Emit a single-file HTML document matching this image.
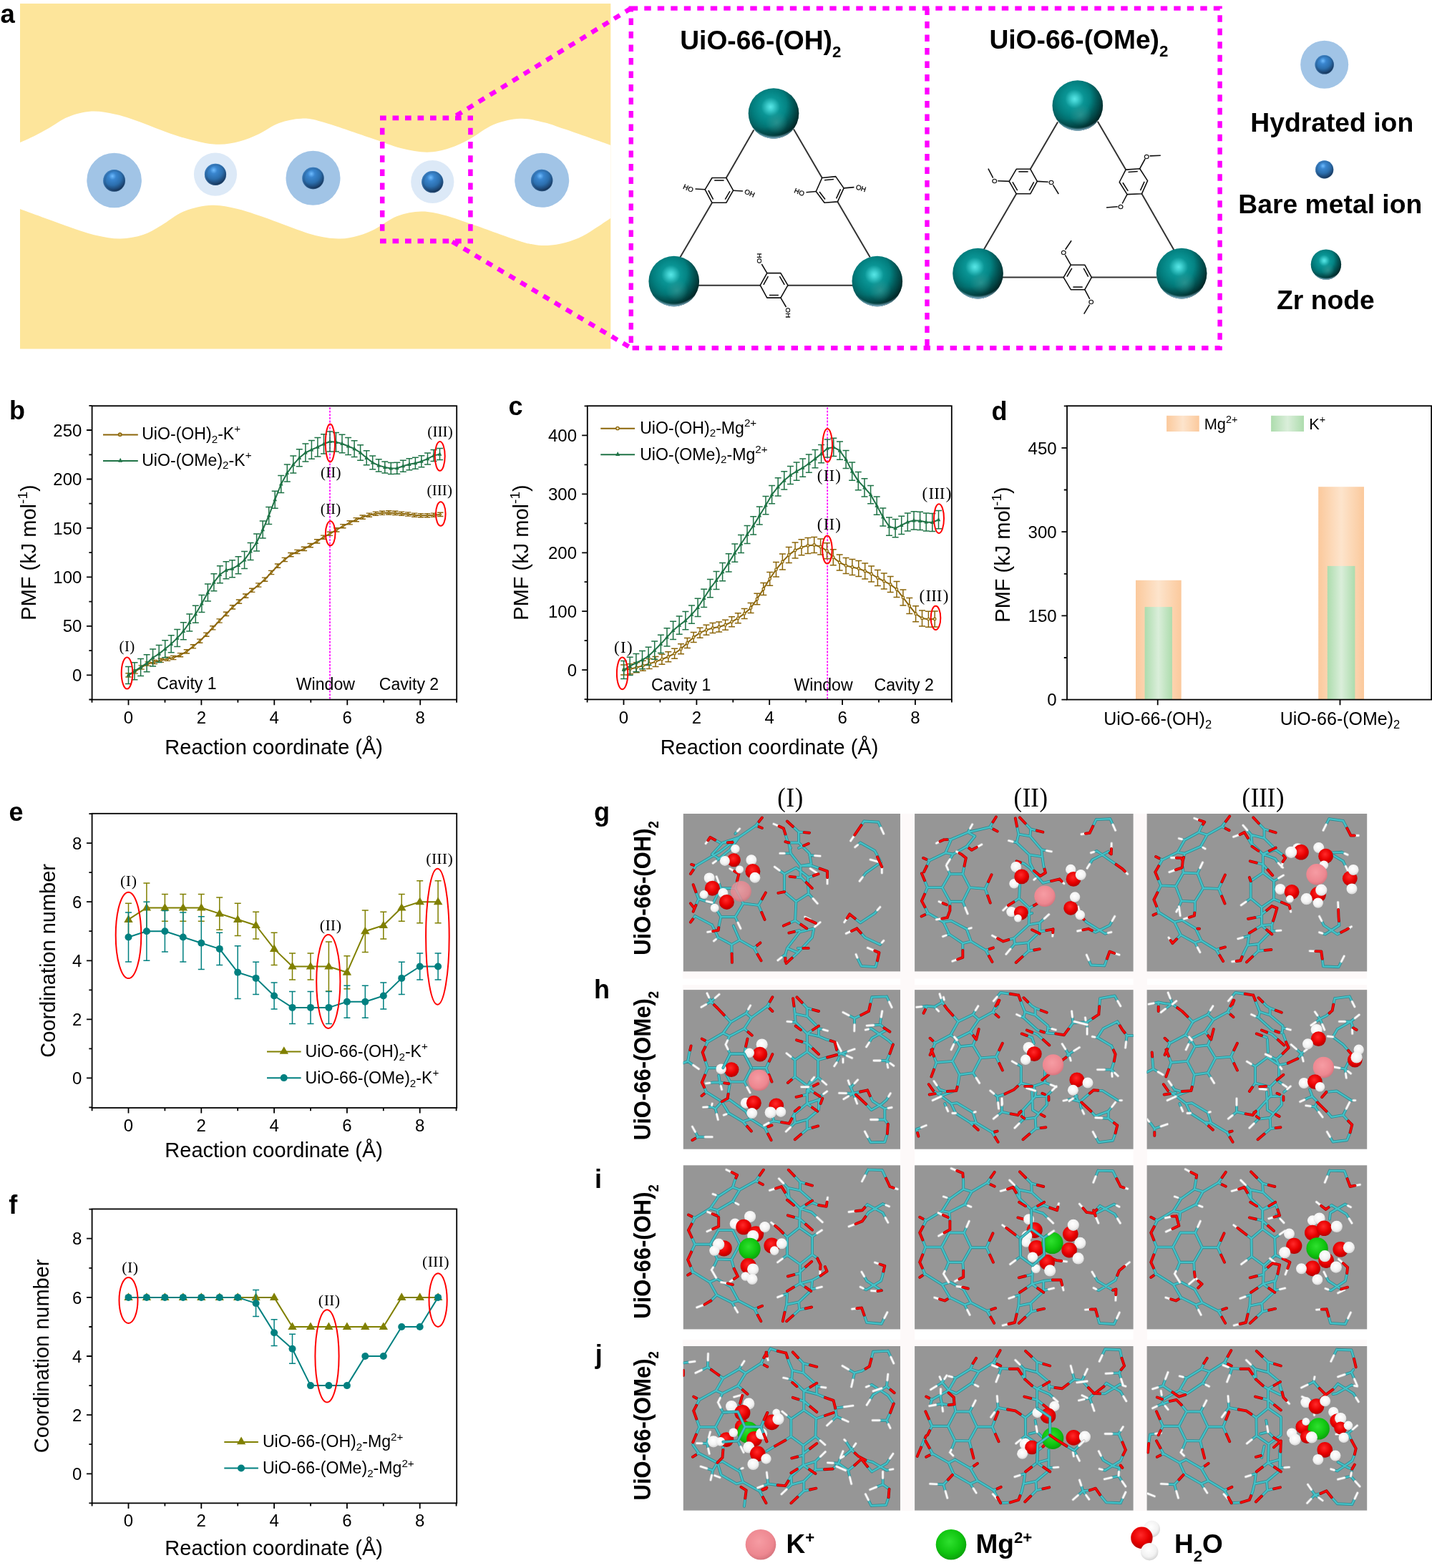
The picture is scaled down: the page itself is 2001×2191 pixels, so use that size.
<!DOCTYPE html>
<html lang="en"><head><meta charset="utf-8"><title>Figure</title>
<style>
html,body{margin:0;padding:0;background:#fff}
svg{display:block}
.s{font-family:"Liberation Sans",Arial,Helvetica,sans-serif}
.b{font-family:"Liberation Sans",Arial,Helvetica,sans-serif;font-weight:bold}
.r{font-family:"Liberation Serif","Times New Roman",serif}
</style></head><body>
<svg width="2001" height="2191" viewBox="0 0 2001 2191">
<defs>
<radialGradient id="gb" cx="0.42" cy="0.3" r="0.75" fx="0.42" fy="0.3">
<stop offset="0" stop-color="#6fbcff"/><stop offset="0.22" stop-color="#3a86cf"/><stop offset="0.55" stop-color="#2c6fae"/><stop offset="0.82" stop-color="#1c4572"/><stop offset="1" stop-color="#0c1c33"/>
</radialGradient>
<radialGradient id="gb2" cx="0.5" cy="0.5" r="0.5" fx="0.7" fy="0.55">
<stop offset="0" stop-color="#0c1c33" stop-opacity="0"/><stop offset="0.8" stop-color="#0c1c33" stop-opacity="0"/><stop offset="1" stop-color="#4f90d0" stop-opacity="0.5"/>
</radialGradient>
<radialGradient id="gz" cx="0.44" cy="0.37" r="0.72" fx="0.44" fy="0.37">
<stop offset="0" stop-color="#58e6e6"/><stop offset="0.08" stop-color="#42d2d2"/><stop offset="0.26" stop-color="#0a9595"/><stop offset="0.5" stop-color="#027d7d"/><stop offset="0.8" stop-color="#035252"/><stop offset="1" stop-color="#012626"/>
</radialGradient>
<radialGradient id="gz2" cx="0.56" cy="0.68" r="0.22">
<stop offset="0" stop-color="#3c9a96" stop-opacity="0.6"/><stop offset="1" stop-color="#3c9a96" stop-opacity="0"/>
</radialGradient>
<radialGradient id="gz4" cx="0.3" cy="0.32" r="0.82"><stop offset="0" stop-color="#001414" stop-opacity="0"/><stop offset="0.55" stop-color="#001414" stop-opacity="0"/><stop offset="0.8" stop-color="#001414" stop-opacity="0.35"/><stop offset="1" stop-color="#001010" stop-opacity="0.8"/></radialGradient>
<radialGradient id="gz3" cx="0.5" cy="0.36" r="0.64" fx="0.5" fy="0.36">
<stop offset="0" stop-color="#9fd8f0" stop-opacity="0"/><stop offset="0.9" stop-color="#9fd8f0" stop-opacity="0"/><stop offset="1" stop-color="#a8d4f2" stop-opacity="0.9"/>
</radialGradient>


<linearGradient id="go" x1="0" x2="1" y1="0" y2="0"><stop offset="0" stop-color="#fbc99c"/><stop offset="0.5" stop-color="#fde4cc"/><stop offset="1" stop-color="#fbc99c"/></linearGradient>
<linearGradient id="gg" x1="0" x2="1" y1="0" y2="0"><stop offset="0" stop-color="#addcad"/><stop offset="0.5" stop-color="#daeeda"/><stop offset="1" stop-color="#addcad"/></linearGradient>


<radialGradient id="sK" cx="0.45" cy="0.4" r="0.65"><stop offset="0" stop-color="#f69ca3"/><stop offset="0.7" stop-color="#ed8790"/><stop offset="1" stop-color="#cf6f78"/></radialGradient>
<radialGradient id="sM" cx="0.45" cy="0.4" r="0.65"><stop offset="0" stop-color="#2fe02f"/><stop offset="0.6" stop-color="#10c510"/><stop offset="1" stop-color="#0a9a0a"/></radialGradient>
<radialGradient id="sO" cx="0.45" cy="0.38" r="0.68"><stop offset="0" stop-color="#ff2a2a"/><stop offset="0.55" stop-color="#e80000"/><stop offset="1" stop-color="#a80000"/></radialGradient>
<radialGradient id="sH" cx="0.45" cy="0.38" r="0.7"><stop offset="0" stop-color="#ffffff"/><stop offset="0.6" stop-color="#f2f2f2"/><stop offset="1" stop-color="#c8c8c8"/></radialGradient>

</defs>
<rect width="2001" height="2191" fill="#fff"/>
<g id="pa">
<rect x="28" y="5" width="825.3" height="482.5" fill="#fde59b"/>
<path d="M28 199.1C31.3 197.6 41.4 193.3 48 190C54.6 186.7 60.1 183.7 67.9 179.3C75.7 174.9 85 167.4 95 163.5C105 159.6 116.8 156.3 127.6 155.6C138.4 154.9 149.6 157.4 160 159.5C170.4 161.6 176 163.5 190.1 168.4C204.2 173.3 229.4 183.8 244.4 188.8C259.4 193.8 269.6 196.3 280 198.5C290.4 200.7 297.7 202 306.9 201.8C316.1 201.6 325.9 199.9 335 197.5C344.1 195.1 352 191.7 361.2 187.4C370.4 183.2 380 175.6 390 172C400 168.4 411 166 421 165.7C431 165.4 433.9 165.8 450 170.3C466.1 174.8 499.6 186.7 517.9 192.8C536.2 198.9 546.9 203.7 560 207C573.1 210.3 585.4 212.7 596.7 212.7C608 212.7 618 210.1 628 207C638 203.9 646.1 199.7 656.4 194.2C666.7 188.7 678.2 178.8 690 174C701.8 169.2 715.3 166.2 727 165.7C738.7 165.2 749.6 168.5 760 171C770.4 173.5 774 175.3 789.5 180.6C805 185.9 842.7 199.2 853.3 202.9L853.3 304.7C850.2 306.8 841.6 312.8 835 317C828.4 321.2 821.4 326.3 813.9 330C806.4 333.7 798.1 336.8 790 339C781.9 341.2 772.5 342.6 765 343C757.5 343.4 752.2 342.8 745 341.5C737.8 340.2 736.4 340.3 721.6 335.4C706.8 330.5 673.3 318.1 656.4 312.3C639.5 306.5 631.3 303.3 620 300.5C608.7 297.7 599.3 295.2 588.5 295.5C577.7 295.8 565.9 297.8 555 302C544.1 306.2 532.5 315.9 523.3 320.5C514.1 325.1 508.4 327.3 500 329.5C491.6 331.7 483.5 333.9 472.6 333.5C461.7 333.1 452.2 332.4 434.5 327.3C416.8 322.2 384 308.8 366.6 302.8C349.2 296.8 341.8 294.2 330 291.5C318.2 288.8 308 286.2 296 286.8C284 287.4 269.8 290.3 258 295C246.2 299.7 235.1 309.5 225.4 315C215.7 320.5 209.5 324.9 200 328C190.5 331.1 179.2 333.3 168.4 333.5C157.6 333.7 147.2 331.9 135 329C122.8 326.1 112.9 322.6 95.1 316.4C77.3 310.2 39.2 296.1 28 292Z" fill="#fff"/>
<circle cx="159.6" cy="252" r="38.3" fill="#a1c4e6"/>
<circle cx="301" cy="243.6" r="30.1" fill="#dce9f7"/>
<circle cx="437.5" cy="248.8" r="38" fill="#a1c4e6"/>
<circle cx="604.3" cy="254" r="30.1" fill="#dce9f7"/>
<circle cx="757.2" cy="251.8" r="38" fill="#a1c4e6"/>
<circle cx="1850.7" cy="90.3" r="33.5" fill="#a1c4e6"/>
<circle cx="159.6" cy="252.3" r="15.4" fill="url(#gb)"/><circle cx="159.6" cy="252.3" r="15.4" fill="url(#gb2)"/>
<circle cx="301" cy="243.8" r="15.1" fill="url(#gb)"/><circle cx="301" cy="243.8" r="15.1" fill="url(#gb2)"/>
<circle cx="437.5" cy="249" r="15.2" fill="url(#gb)"/><circle cx="437.5" cy="249" r="15.2" fill="url(#gb2)"/>
<circle cx="604.3" cy="254.2" r="15.1" fill="url(#gb)"/><circle cx="604.3" cy="254.2" r="15.1" fill="url(#gb2)"/>
<circle cx="757.2" cy="252" r="15.2" fill="url(#gb)"/><circle cx="757.2" cy="252" r="15.2" fill="url(#gb2)"/>
<circle cx="1850.7" cy="90.3" r="13.2" fill="url(#gb)"/><circle cx="1850.7" cy="90.3" r="13.2" fill="url(#gb2)"/>
<circle cx="1850.7" cy="236.9" r="12.6" fill="url(#gb)"/><circle cx="1850.7" cy="236.9" r="12.6" fill="url(#gb2)"/>
<g fill="none" stroke="#f0f" stroke-width="6.4" stroke-dasharray="9.4 9.1">
<path d="M531 164.8H661M531 336.9H661" stroke-dasharray="8.7 8.8" stroke-width="6.8"/>
<path d="M534.2 178.8V330M657.4 178.8V330" stroke-dasharray="9.5 9.7" stroke-width="6.5"/>
<path d="M637.4 161.6L881.8 11.6"/><path d="M632 337.8L881.8 486.2"/>
<path d="M881.8 11.6H1704.6V486.2H881.8Z"/>
<path d="M1295.5 11.6V486.2"/>
</g>
<text x="950.2" y="69.2" class="b" font-size="37.2">UiO-66-(OH)<tspan dy="10.8" font-size="22.3">2</tspan></text>
<text x="1382.4" y="68" class="b" font-size="37.2">UiO-66-(OMe)<tspan dy="10.8" font-size="22.3">2</tspan></text>
<g fill="none" stroke="#333" stroke-width="2" stroke-linejoin="round">
<line x1="1053.4" y1="181.4" x2="1014.8" y2="248.5"/><line x1="995" y1="283.3" x2="950.4" y2="359.5"/>
<line x1="1109" y1="180.6" x2="1148.7" y2="248.5"/><line x1="1170.4" y1="281.9" x2="1215.8" y2="359.5"/>
<line x1="976" y1="398.7" x2="1062.3" y2="398.7"/><line x1="1100.9" y1="398.7" x2="1192" y2="398.7"/>
</g><g fill="none" stroke="#111" stroke-width="1.6" stroke-linejoin="round">
<polygon points="995,248.5 1014.8,248.5 1024.6,266.2 1014.8,283.3 995,283.3 985.2,264.8"/><line x1="998.2" y1="252.1" x2="1011.6" y2="252.1"/><line x1="1020" y1="267.1" x2="1013.3" y2="278.7"/><line x1="996.6" y1="278.6" x2="989.9" y2="266"/><polygon points="1148.7,248.5 1167.7,246.6 1179.1,262.9 1170.4,281.9 1152,283.3 1140.3,267.5"/><line x1="1152" y1="251.8" x2="1165" y2="250.5"/><line x1="1174.5" y1="264.4" x2="1168.6" y2="277.3"/><line x1="1153" y1="278.6" x2="1145" y2="267.9"/><polygon points="1071.8,381.6 1090.9,381.6 1100.9,398.7 1090.9,416.1 1071.8,416.1 1062.3,398.7"/><line x1="1089.4" y1="386.2" x2="1096.2" y2="397.8"/><line x1="1087.9" y1="412.5" x2="1074.9" y2="412.5"/><line x1="1066.9" y1="397.8" x2="1073.4" y2="386.2"/>
<line x1="985.2" y1="264.8" x2="971.5" y2="264"/><line x1="1024.6" y1="266.2" x2="1038" y2="267"/>
<line x1="1140.3" y1="267.5" x2="1126.5" y2="268.8"/><line x1="1179.1" y1="262.9" x2="1193.5" y2="261.6"/>
<line x1="1071.8" y1="381.6" x2="1064.3" y2="369"/><line x1="1090.9" y1="416.1" x2="1098.5" y2="429"/>
</g>
<text x="961.8" y="263.2" class="s" font-size="9.6" text-anchor="middle" transform="rotate(24 961.8 263.2)" dy="3.3" stroke="#000" stroke-width="0.3">HO</text>
<text x="1047.5" y="270" class="s" font-size="9.6" text-anchor="middle" transform="rotate(24 1047.5 270)" dy="3.3" stroke="#000" stroke-width="0.3">OH</text>
<text x="1117" y="268.5" class="s" font-size="9.6" text-anchor="middle" transform="rotate(22 1117 268.5)" dy="3.3" stroke="#000" stroke-width="0.3">HO</text>
<text x="1203" y="263" class="s" font-size="9.6" text-anchor="middle" transform="rotate(18 1203 263)" dy="3.3" stroke="#000" stroke-width="0.3">OH</text>
<text x="1061.5" y="361" class="s" font-size="9.6" text-anchor="middle" transform="rotate(90 1061.5 361)" dy="3.3" stroke="#000" stroke-width="0.3">HO</text>
<text x="1101.5" y="437" class="s" font-size="9.6" text-anchor="middle" transform="rotate(90 1101.5 437)" dy="3.3" stroke="#000" stroke-width="0.3">OH</text>
<g fill="none" stroke="#333" stroke-width="2" stroke-linejoin="round">
<line x1="1478.1" y1="170.6" x2="1439.8" y2="236.3"/><line x1="1420.2" y1="270.8" x2="1374.9" y2="348.4"/>
<line x1="1533.8" y1="169.7" x2="1573.1" y2="237.1"/><line x1="1595.4" y1="270.8" x2="1640.4" y2="349.2"/>
<line x1="1401" y1="387.6" x2="1486.2" y2="387.6"/><line x1="1525.3" y1="387.6" x2="1616.5" y2="387.6"/>
</g><g fill="none" stroke="#111" stroke-width="1.6" stroke-linejoin="round">
<polygon points="1420.2,236.3 1439.8,236.3 1449.3,253.4 1439.8,270.8 1420.2,270.8 1410.2,253.4"/><line x1="1423.3" y1="239.9" x2="1436.6" y2="239.9"/><line x1="1444.7" y1="254.4" x2="1438.2" y2="266.2"/><line x1="1421.7" y1="266.2" x2="1414.9" y2="254.4"/><polygon points="1573.1,237.1 1592.7,235.7 1603.6,252.6 1595.4,270.8 1575,271.6 1564.2,254.5"/><line x1="1576.5" y1="240.5" x2="1589.8" y2="239.5"/><line x1="1599.1" y1="253.9" x2="1593.5" y2="266.2"/><line x1="1576.3" y1="266.9" x2="1568.9" y2="255.3"/><polygon points="1496.3,370.2 1515.8,370.2 1525.3,387.6 1515.8,404.7 1496.3,404.7 1486.2,387.6"/><line x1="1514.2" y1="374.8" x2="1520.7" y2="386.6"/><line x1="1512.7" y1="401.1" x2="1499.4" y2="401.1"/><line x1="1490.9" y1="386.6" x2="1497.8" y2="374.8"/>
<line x1="1410.2" y1="253.4" x2="1394.2" y2="252.8"/><line x1="1387.7" y1="248.7" x2="1380.9" y2="235.7"/>
<line x1="1449.3" y1="253.4" x2="1464.7" y2="254.3"/><line x1="1471.4" y1="258.3" x2="1479.2" y2="271"/>
<line x1="1592.7" y1="235.7" x2="1600.1" y2="222"/><line x1="1606.6" y1="217.9" x2="1621.8" y2="217.3"/>
<line x1="1575" y1="271.6" x2="1568.2" y2="284.5"/><line x1="1561.7" y1="288.7" x2="1546" y2="290"/>
<line x1="1496.3" y1="370.2" x2="1488.4" y2="356.3"/><line x1="1488.6" y1="348.8" x2="1497.1" y2="336.2"/>
<line x1="1515.8" y1="404.7" x2="1522.8" y2="417.9"/><line x1="1522.5" y1="425.6" x2="1514.7" y2="438.6"/>
</g>
<text x="1389.8" y="252.6" class="s" font-size="9.6" text-anchor="middle" dy="3.4" stroke="#000" stroke-width="0.3">O</text>
<text x="1469.1" y="254.5" class="s" font-size="9.6" text-anchor="middle" dy="3.4" stroke="#000" stroke-width="0.3">O</text>
<text x="1602.2" y="218.1" class="s" font-size="9.6" text-anchor="middle" dy="3.4" stroke="#000" stroke-width="0.3">O</text>
<text x="1566.1" y="288.4" class="s" font-size="9.6" text-anchor="middle" dy="3.4" stroke="#000" stroke-width="0.3">O</text>
<text x="1486.2" y="352.5" class="s" font-size="9.6" text-anchor="middle" dy="3.4" stroke="#000" stroke-width="0.3">O</text>
<text x="1524.8" y="421.8" class="s" font-size="9.6" text-anchor="middle" dy="3.4" stroke="#000" stroke-width="0.3">O</text>
<circle cx="1081" cy="158.5" r="35.3" fill="url(#gz)"/><circle cx="1081" cy="158.5" r="35.3" fill="url(#gz4)"/><circle cx="1081" cy="158.5" r="35.3" fill="url(#gz2)"/><circle cx="1081" cy="158.5" r="35.3" fill="url(#gz3)"/>
<circle cx="941.7" cy="393" r="35.3" fill="url(#gz)"/><circle cx="941.7" cy="393" r="35.3" fill="url(#gz4)"/><circle cx="941.7" cy="393" r="35.3" fill="url(#gz2)"/><circle cx="941.7" cy="393" r="35.3" fill="url(#gz3)"/>
<circle cx="1225.8" cy="393" r="35.3" fill="url(#gz)"/><circle cx="1225.8" cy="393" r="35.3" fill="url(#gz4)"/><circle cx="1225.8" cy="393" r="35.3" fill="url(#gz2)"/><circle cx="1225.8" cy="393" r="35.3" fill="url(#gz3)"/>
<circle cx="1505.8" cy="147.5" r="35.3" fill="url(#gz)"/><circle cx="1505.8" cy="147.5" r="35.3" fill="url(#gz4)"/><circle cx="1505.8" cy="147.5" r="35.3" fill="url(#gz2)"/><circle cx="1505.8" cy="147.5" r="35.3" fill="url(#gz3)"/>
<circle cx="1366.5" cy="382.1" r="35.3" fill="url(#gz)"/><circle cx="1366.5" cy="382.1" r="35.3" fill="url(#gz4)"/><circle cx="1366.5" cy="382.1" r="35.3" fill="url(#gz2)"/><circle cx="1366.5" cy="382.1" r="35.3" fill="url(#gz3)"/>
<circle cx="1651.1" cy="382.1" r="35.3" fill="url(#gz)"/><circle cx="1651.1" cy="382.1" r="35.3" fill="url(#gz4)"/><circle cx="1651.1" cy="382.1" r="35.3" fill="url(#gz2)"/><circle cx="1651.1" cy="382.1" r="35.3" fill="url(#gz3)"/>
<circle cx="1852.9" cy="369.6" r="21.2" fill="url(#gz)"/><circle cx="1852.9" cy="369.6" r="21.2" fill="url(#gz4)"/><circle cx="1852.9" cy="369.6" r="21.2" fill="url(#gz2)"/><circle cx="1852.9" cy="369.6" r="21.2" fill="url(#gz3)"/>
<text x="1861.2" y="183.6" class="b" font-size="37.3" text-anchor="middle">Hydrated ion</text>
<text x="1858.8" y="298.4" class="b" font-size="37.3" text-anchor="middle">Bare metal ion</text>
<text x="1852.4" y="431.7" class="b" font-size="37.3" text-anchor="middle">Zr node</text>
<text x="0.4" y="32" class="b" font-size="36.5">a</text>
</g>
<g id="pb">
<line x1="461" y1="569.2" x2="461" y2="976.6" stroke="#f0f" stroke-width="1.7" stroke-dasharray="2.8 1.8"/>
<path d="M179.5 940.8V946M175.3 940.8h8.4M175.3 946h8.4M188.6 935.9V941.1M184.4 935.9h8.4M184.4 941.1h8.4M197.7 929.9V935.1M193.5 929.9h8.4M193.5 935.1h8.4M206.7 924.9V930.1M202.5 924.9h8.4M202.5 930.1h8.4M215.8 922.4V927.6M211.6 922.4h8.4M211.6 927.6h8.4M224.9 920.2V925.4M220.7 920.2h8.4M220.7 925.4h8.4M234 918.2V923.4M229.8 918.2h8.4M229.8 923.4h8.4M242.2 916.4V921.6M238 916.4h8.4M238 921.6h8.4M252 912.6V917.8M247.8 912.6h8.4M247.8 917.8h8.4M260.9 907.8V913M256.7 907.8h8.4M256.7 913h8.4M269.9 900.7V905.9M265.7 900.7h8.4M265.7 905.9h8.4M279.2 893.1V898.3M275 893.1h8.4M275 898.3h8.4M288.3 884.1V889.3M284.1 884.1h8.4M284.1 889.3h8.4M297.3 874.7V879.9M293.1 874.7h8.4M293.1 879.9h8.4M306.6 864.9V870.1M302.4 864.9h8.4M302.4 870.1h8.4M316 855.3V860.5M311.8 855.3h8.4M311.8 860.5h8.4M325 845.8V851M320.8 845.8h8.4M320.8 851h8.4M334 838V843.2M329.8 838h8.4M329.8 843.2h8.4M343.2 830V835.2M339 830h8.4M339 835.2h8.4M352.2 822.2V827.4M348 822.2h8.4M348 827.4h8.4M361.2 814.9V820.1M357 814.9h8.4M357 820.1h8.4M370.1 807.1V812.3M365.9 807.1h8.4M365.9 812.3h8.4M379.1 797.4V802.6M374.9 797.4h8.4M374.9 802.6h8.4M388 788V793.2M383.8 788h8.4M383.8 793.2h8.4M397.8 779.4V784.6M393.6 779.4h8.4M393.6 784.6h8.4M406.4 772.5V777.7M402.2 772.5h8.4M402.2 777.7h8.4M415.4 768.4V773.6M411.2 768.4h8.4M411.2 773.6h8.4M424.9 764.3V769.5M420.7 764.3h8.4M420.7 769.5h8.4M433.7 759.5V764.7M429.5 759.5h8.4M429.5 764.7h8.4M443.1 753.8V759M438.9 753.8h8.4M438.9 759h8.4M452.1 748.1V753.3M447.9 748.1h8.4M447.9 753.3h8.4M461 743.2V748.4M456.8 743.2h8.4M456.8 748.4h8.4M470.3 737.8V743M466.1 737.8h8.4M466.1 743h8.4M479.3 732.6V737.8M475.1 732.6h8.4M475.1 737.8h8.4M488.7 727.7V732.9M484.5 727.7h8.4M484.5 732.9h8.4M497.7 723.6V728.8M493.5 723.6h8.4M493.5 728.8h8.4M506.7 720V725.2M502.5 720h8.4M502.5 725.2h8.4M515.9 717.1V722.3M511.7 717.1h8.4M511.7 722.3h8.4M524.9 715.1V720.3M520.7 715.1h8.4M520.7 720.3h8.4M534 714.2V719.4M529.8 714.2h8.4M529.8 719.4h8.4M543.3 713.8V719M539.1 713.8h8.4M539.1 719h8.4M552.3 714.3V719.5M548.1 714.3h8.4M548.1 719.5h8.4M561.2 715.1V720.3M557 715.1h8.4M557 720.3h8.4M570.2 715.9V721.1M566 715.9h8.4M566 721.1h8.4M579.2 717.1V722.3M575 717.1h8.4M575 722.3h8.4M588.1 717.6V722.8M583.9 717.6h8.4M583.9 722.8h8.4M597.1 717.6V722.8M592.9 717.6h8.4M592.9 722.8h8.4M606 717.1V722.3M601.8 717.1h8.4M601.8 722.3h8.4M615.3 716.3V721.5M611.1 716.3h8.4M611.1 721.5h8.4" stroke="#8b6508" stroke-width="1.4" fill="none"/>
<polyline points="179.5,943.4 188.6,938.5 197.7,932.5 206.7,927.5 215.8,925 224.9,922.8 234,920.8 242.2,919 252,915.2 260.9,910.4 269.9,903.3 279.2,895.7 288.3,886.7 297.3,877.3 306.6,867.5 316,857.9 325,848.4 334,840.6 343.2,832.6 352.2,824.8 361.2,817.5 370.1,809.7 379.1,800 388,790.6 397.8,782 406.4,775.1 415.4,771 424.9,766.9 433.7,762.1 443.1,756.4 452.1,750.7 461,745.8 470.3,740.4 479.3,735.2 488.7,730.3 497.7,726.2 506.7,722.6 515.9,719.7 524.9,717.7 534,716.8 543.3,716.4 552.3,716.9 561.2,717.7 570.2,718.5 579.2,719.7 588.1,720.2 597.1,720.2 606,719.7 615.3,718.9" fill="none" stroke="#8b6508" stroke-width="2" stroke-linejoin="round"/>
<circle cx="179.5" cy="943.4" r="1.4" fill="#b89a4a" stroke="#8b6508" stroke-width="1"/><circle cx="188.6" cy="938.5" r="1.4" fill="#b89a4a" stroke="#8b6508" stroke-width="1"/><circle cx="197.7" cy="932.5" r="1.4" fill="#b89a4a" stroke="#8b6508" stroke-width="1"/><circle cx="206.7" cy="927.5" r="1.4" fill="#b89a4a" stroke="#8b6508" stroke-width="1"/><circle cx="215.8" cy="925" r="1.4" fill="#b89a4a" stroke="#8b6508" stroke-width="1"/><circle cx="224.9" cy="922.8" r="1.4" fill="#b89a4a" stroke="#8b6508" stroke-width="1"/><circle cx="234" cy="920.8" r="1.4" fill="#b89a4a" stroke="#8b6508" stroke-width="1"/><circle cx="242.2" cy="919" r="1.4" fill="#b89a4a" stroke="#8b6508" stroke-width="1"/><circle cx="252" cy="915.2" r="1.4" fill="#b89a4a" stroke="#8b6508" stroke-width="1"/><circle cx="260.9" cy="910.4" r="1.4" fill="#b89a4a" stroke="#8b6508" stroke-width="1"/><circle cx="269.9" cy="903.3" r="1.4" fill="#b89a4a" stroke="#8b6508" stroke-width="1"/><circle cx="279.2" cy="895.7" r="1.4" fill="#b89a4a" stroke="#8b6508" stroke-width="1"/><circle cx="288.3" cy="886.7" r="1.4" fill="#b89a4a" stroke="#8b6508" stroke-width="1"/><circle cx="297.3" cy="877.3" r="1.4" fill="#b89a4a" stroke="#8b6508" stroke-width="1"/><circle cx="306.6" cy="867.5" r="1.4" fill="#b89a4a" stroke="#8b6508" stroke-width="1"/><circle cx="316" cy="857.9" r="1.4" fill="#b89a4a" stroke="#8b6508" stroke-width="1"/><circle cx="325" cy="848.4" r="1.4" fill="#b89a4a" stroke="#8b6508" stroke-width="1"/><circle cx="334" cy="840.6" r="1.4" fill="#b89a4a" stroke="#8b6508" stroke-width="1"/><circle cx="343.2" cy="832.6" r="1.4" fill="#b89a4a" stroke="#8b6508" stroke-width="1"/><circle cx="352.2" cy="824.8" r="1.4" fill="#b89a4a" stroke="#8b6508" stroke-width="1"/><circle cx="361.2" cy="817.5" r="1.4" fill="#b89a4a" stroke="#8b6508" stroke-width="1"/><circle cx="370.1" cy="809.7" r="1.4" fill="#b89a4a" stroke="#8b6508" stroke-width="1"/><circle cx="379.1" cy="800" r="1.4" fill="#b89a4a" stroke="#8b6508" stroke-width="1"/><circle cx="388" cy="790.6" r="1.4" fill="#b89a4a" stroke="#8b6508" stroke-width="1"/><circle cx="397.8" cy="782" r="1.4" fill="#b89a4a" stroke="#8b6508" stroke-width="1"/><circle cx="406.4" cy="775.1" r="1.4" fill="#b89a4a" stroke="#8b6508" stroke-width="1"/><circle cx="415.4" cy="771" r="1.4" fill="#b89a4a" stroke="#8b6508" stroke-width="1"/><circle cx="424.9" cy="766.9" r="1.4" fill="#b89a4a" stroke="#8b6508" stroke-width="1"/><circle cx="433.7" cy="762.1" r="1.4" fill="#b89a4a" stroke="#8b6508" stroke-width="1"/><circle cx="443.1" cy="756.4" r="1.4" fill="#b89a4a" stroke="#8b6508" stroke-width="1"/><circle cx="452.1" cy="750.7" r="1.4" fill="#b89a4a" stroke="#8b6508" stroke-width="1"/><circle cx="461" cy="745.8" r="1.4" fill="#b89a4a" stroke="#8b6508" stroke-width="1"/><circle cx="470.3" cy="740.4" r="1.4" fill="#b89a4a" stroke="#8b6508" stroke-width="1"/><circle cx="479.3" cy="735.2" r="1.4" fill="#b89a4a" stroke="#8b6508" stroke-width="1"/><circle cx="488.7" cy="730.3" r="1.4" fill="#b89a4a" stroke="#8b6508" stroke-width="1"/><circle cx="497.7" cy="726.2" r="1.4" fill="#b89a4a" stroke="#8b6508" stroke-width="1"/><circle cx="506.7" cy="722.6" r="1.4" fill="#b89a4a" stroke="#8b6508" stroke-width="1"/><circle cx="515.9" cy="719.7" r="1.4" fill="#b89a4a" stroke="#8b6508" stroke-width="1"/><circle cx="524.9" cy="717.7" r="1.4" fill="#b89a4a" stroke="#8b6508" stroke-width="1"/><circle cx="534" cy="716.8" r="1.4" fill="#b89a4a" stroke="#8b6508" stroke-width="1"/><circle cx="543.3" cy="716.4" r="1.4" fill="#b89a4a" stroke="#8b6508" stroke-width="1"/><circle cx="552.3" cy="716.9" r="1.4" fill="#b89a4a" stroke="#8b6508" stroke-width="1"/><circle cx="561.2" cy="717.7" r="1.4" fill="#b89a4a" stroke="#8b6508" stroke-width="1"/><circle cx="570.2" cy="718.5" r="1.4" fill="#b89a4a" stroke="#8b6508" stroke-width="1"/><circle cx="579.2" cy="719.7" r="1.4" fill="#b89a4a" stroke="#8b6508" stroke-width="1"/><circle cx="588.1" cy="720.2" r="1.4" fill="#b89a4a" stroke="#8b6508" stroke-width="1"/><circle cx="597.1" cy="720.2" r="1.4" fill="#b89a4a" stroke="#8b6508" stroke-width="1"/><circle cx="606" cy="719.7" r="1.4" fill="#b89a4a" stroke="#8b6508" stroke-width="1"/><circle cx="615.3" cy="718.9" r="1.4" fill="#b89a4a" stroke="#8b6508" stroke-width="1"/>
<path d="M179.5 931.4V955.4M175 931.4h9M175 955.4h9M188 925.7V949.7M183.5 925.7h9M183.5 949.7h9M196.6 920.4V944.4M192.1 920.4h9M192.1 944.4h9M205.1 914.7V938.7M200.6 914.7h9M200.6 938.7h9M213.6 907V931M209.1 907h9M209.1 931h9M222.2 901.6V925.6M217.7 901.6h9M217.7 925.6h9M230.7 894.8V918.8M226.2 894.8h9M226.2 918.8h9M239.2 887.8V911.8M234.7 887.8h9M234.7 911.8h9M247.7 879.6V903.6M243.2 879.6h9M243.2 903.6h9M256.3 869.8V893.8M251.8 869.8h9M251.8 893.8h9M264.8 858V882M260.3 858h9M260.3 882h9M273.3 846.2V870.2M268.8 846.2h9M268.8 870.2h9M281.9 831.5V855.5M277.4 831.5h9M277.4 855.5h9M290.4 816.1V840.1M285.9 816.1h9M285.9 840.1h9M298.9 801.7V825.7M294.4 801.7h9M294.4 825.7h9M307.4 790.8V814.8M302.9 790.8h9M302.9 814.8h9M316 784.8V808.8M311.5 784.8h9M311.5 808.8h9M324.5 782.7V806.7M320 782.7h9M320 806.7h9M333 777.8V801.8M328.5 777.8h9M328.5 801.8h9M341.6 770.4V794.4M337.1 770.4h9M337.1 794.4h9M350.1 758.5V782.5M345.6 758.5h9M345.6 782.5h9M358.6 746V770M354.1 746h9M354.1 770h9M367.2 728.1V752.1M362.7 728.1h9M362.7 752.1h9M375.7 708.5V732.5M371.2 708.5h9M371.2 732.5h9M384.2 686.2V710.2M379.7 686.2h9M379.7 710.2h9M392.8 664.5V688.5M388.2 664.5h9M388.2 688.5h9M401.3 649V673M396.8 649h9M396.8 673h9M409.8 637.1V661.1M405.3 637.1h9M405.3 661.1h9M418.3 627.8V651.8M413.8 627.8h9M413.8 651.8h9M426.9 620.1V644.9M422.4 620.1h9M422.4 644.9h9M435.4 615.6V641.2M430.9 615.6h9M430.9 641.2h9M443.9 611.5V637.9M439.4 611.5h9M439.4 637.9h9M452.5 606.7V633.9M448 606.7h9M448 633.9h9M461 603V631M456.5 603h9M456.5 631h9M469.5 604.5V631.1M465 604.5h9M465 631.1h9M478 607.3V632.7M473.5 607.3h9M473.5 632.7h9M486.6 611.5V635.5M482.1 611.5h9M482.1 635.5h9M495.1 615.8V638.4M490.6 615.8h9M490.6 638.4h9M503.6 621.8V643.2M499.1 621.8h9M499.1 643.2h9M512.2 629.8V649.8M507.7 629.8h9M507.7 649.8h9M520.7 637.1V655.7M516.2 637.1h9M516.2 655.7h9M529.2 641.7V659.1M524.7 641.7h9M524.7 659.1h9M537.8 644.9V660.9M533.3 644.9h9M533.3 660.9h9M546.3 646.5V662.5M541.8 646.5h9M541.8 662.5h9M554.8 646.2V662.2M550.3 646.2h9M550.3 662.2h9M563.3 643.2V659.2M558.8 643.2h9M558.8 659.2h9M571.9 640.8V656.8M567.4 640.8h9M567.4 656.8h9M580.4 639.2V655.2M575.9 639.2h9M575.9 655.2h9M588.9 636.7V652.7M584.4 636.7h9M584.4 652.7h9M597.5 633.1V649.1M593 633.1h9M593 649.1h9M606 628.6V644.6M601.5 628.6h9M601.5 644.6h9M614.5 626.6V642.6M610 626.6h9M610 642.6h9" stroke="#1f7346" stroke-width="1.5" fill="none"/>
<polyline points="179.5,943.4 188,937.7 196.6,932.4 205.1,926.7 213.6,919 222.2,913.6 230.7,906.8 239.2,899.8 247.7,891.6 256.3,881.8 264.8,870 273.3,858.2 281.9,843.5 290.4,828.1 298.9,813.7 307.4,802.8 316,796.8 324.5,794.7 333,789.8 341.6,782.4 350.1,770.5 358.6,758 367.2,740.1 375.7,720.5 384.2,698.2 392.8,676.5 401.3,661 409.8,649.1 418.3,639.8 426.9,632.5 435.4,628.4 443.9,624.7 452.5,620.3 461,617 469.5,617.8 478,620 486.6,623.5 495.1,627.1 503.6,632.5 512.2,639.8 520.7,646.4 529.2,650.4 537.8,652.9 546.3,654.5 554.8,654.2 563.3,651.2 571.9,648.8 580.4,647.2 588.9,644.7 597.5,641.1 606,636.6 614.5,634.6" fill="none" stroke="#1f7346" stroke-width="2" stroke-linejoin="round"/>
<path d="M179.5 939.9L182.3 945.5L176.7 945.5Z" fill="#1f7346"/><path d="M188 934.2L190.8 939.8L185.2 939.8Z" fill="#1f7346"/><path d="M196.6 928.9L199.4 934.5L193.8 934.5Z" fill="#1f7346"/><path d="M205.1 923.2L207.9 928.8L202.3 928.8Z" fill="#1f7346"/><path d="M213.6 915.5L216.4 921.1L210.8 921.1Z" fill="#1f7346"/><path d="M222.2 910.1L225 915.7L219.3 915.7Z" fill="#1f7346"/><path d="M230.7 903.3L233.5 908.9L227.9 908.9Z" fill="#1f7346"/><path d="M239.2 896.3L242 901.9L236.4 901.9Z" fill="#1f7346"/><path d="M247.7 888.1L250.5 893.7L244.9 893.7Z" fill="#1f7346"/><path d="M256.3 878.3L259.1 883.9L253.5 883.9Z" fill="#1f7346"/><path d="M264.8 866.5L267.6 872.1L262 872.1Z" fill="#1f7346"/><path d="M273.3 854.7L276.1 860.3L270.5 860.3Z" fill="#1f7346"/><path d="M281.9 840L284.7 845.6L279.1 845.6Z" fill="#1f7346"/><path d="M290.4 824.6L293.2 830.2L287.6 830.2Z" fill="#1f7346"/><path d="M298.9 810.2L301.7 815.8L296.1 815.8Z" fill="#1f7346"/><path d="M307.4 799.3L310.2 804.9L304.6 804.9Z" fill="#1f7346"/><path d="M316 793.3L318.8 798.9L313.2 798.9Z" fill="#1f7346"/><path d="M324.5 791.2L327.3 796.8L321.7 796.8Z" fill="#1f7346"/><path d="M333 786.3L335.8 791.9L330.2 791.9Z" fill="#1f7346"/><path d="M341.6 778.9L344.4 784.5L338.8 784.5Z" fill="#1f7346"/><path d="M350.1 767L352.9 772.6L347.3 772.6Z" fill="#1f7346"/><path d="M358.6 754.5L361.4 760.1L355.8 760.1Z" fill="#1f7346"/><path d="M367.2 736.6L370 742.2L364.4 742.2Z" fill="#1f7346"/><path d="M375.7 717L378.5 722.6L372.9 722.6Z" fill="#1f7346"/><path d="M384.2 694.7L387 700.3L381.4 700.3Z" fill="#1f7346"/><path d="M392.8 673L395.6 678.6L389.9 678.6Z" fill="#1f7346"/><path d="M401.3 657.5L404.1 663.1L398.5 663.1Z" fill="#1f7346"/><path d="M409.8 645.6L412.6 651.2L407 651.2Z" fill="#1f7346"/><path d="M418.3 636.3L421.1 641.9L415.5 641.9Z" fill="#1f7346"/><path d="M426.9 629L429.7 634.6L424.1 634.6Z" fill="#1f7346"/><path d="M435.4 624.9L438.2 630.5L432.6 630.5Z" fill="#1f7346"/><path d="M443.9 621.2L446.7 626.8L441.1 626.8Z" fill="#1f7346"/><path d="M452.5 616.8L455.3 622.4L449.7 622.4Z" fill="#1f7346"/><path d="M461 613.5L463.8 619.1L458.2 619.1Z" fill="#1f7346"/><path d="M469.5 614.3L472.3 619.9L466.7 619.9Z" fill="#1f7346"/><path d="M478 616.5L480.8 622.1L475.2 622.1Z" fill="#1f7346"/><path d="M486.6 620L489.4 625.6L483.8 625.6Z" fill="#1f7346"/><path d="M495.1 623.6L497.9 629.2L492.3 629.2Z" fill="#1f7346"/><path d="M503.6 629L506.4 634.6L500.8 634.6Z" fill="#1f7346"/><path d="M512.2 636.3L515 641.9L509.4 641.9Z" fill="#1f7346"/><path d="M520.7 642.9L523.5 648.5L517.9 648.5Z" fill="#1f7346"/><path d="M529.2 646.9L532 652.5L526.4 652.5Z" fill="#1f7346"/><path d="M537.8 649.4L540.6 655L535 655Z" fill="#1f7346"/><path d="M546.3 651L549.1 656.6L543.5 656.6Z" fill="#1f7346"/><path d="M554.8 650.7L557.6 656.3L552 656.3Z" fill="#1f7346"/><path d="M563.3 647.7L566.1 653.3L560.5 653.3Z" fill="#1f7346"/><path d="M571.9 645.3L574.7 650.9L569.1 650.9Z" fill="#1f7346"/><path d="M580.4 643.7L583.2 649.3L577.6 649.3Z" fill="#1f7346"/><path d="M588.9 641.2L591.7 646.8L586.1 646.8Z" fill="#1f7346"/><path d="M597.5 637.6L600.3 643.2L594.7 643.2Z" fill="#1f7346"/><path d="M606 633.1L608.8 638.7L603.2 638.7Z" fill="#1f7346"/><path d="M614.5 631.1L617.3 636.7L611.7 636.7Z" fill="#1f7346"/>
<g stroke="#000" stroke-width="1.8" fill="none" stroke-linecap="butt"><rect x="128.6" y="567.2" width="509.6" height="410.4"/><path d="M179.5 977.6v7.6M281.4 977.6v7.6M383.3 977.6v7.6M485.3 977.6v7.6M587.2 977.6v7.6M128.5 977.6v4.2M230.5 977.6v4.2M332.4 977.6v4.2M434.3 977.6v4.2M536.2 977.6v4.2M638.1 977.6v4.2M128.6 943.3h-7.6M128.6 874.8h-7.6M128.6 806.4h-7.6M128.6 737.9h-7.6M128.6 669.5h-7.6M128.6 601h-7.6M128.6 977.5h-4.2M128.6 909.1h-4.2M128.6 840.6h-4.2M128.6 772.2h-4.2M128.6 703.7h-4.2M128.6 635.3h-4.2M128.6 566.8h-4.2"/></g>
<text x="179.5" y="1010.7" class="s" font-size="24" text-anchor="middle">0</text><text x="281.4" y="1010.7" class="s" font-size="24" text-anchor="middle">2</text><text x="383.3" y="1010.7" class="s" font-size="24" text-anchor="middle">4</text><text x="485.3" y="1010.7" class="s" font-size="24" text-anchor="middle">6</text><text x="587.2" y="1010.7" class="s" font-size="24" text-anchor="middle">8</text>
<text x="114.4" y="951.9" class="s" font-size="24" text-anchor="end">0</text><text x="114.4" y="883.4" class="s" font-size="24" text-anchor="end">50</text><text x="114.4" y="815" class="s" font-size="24" text-anchor="end">100</text><text x="114.4" y="746.5" class="s" font-size="24" text-anchor="end">150</text><text x="114.4" y="678.1" class="s" font-size="24" text-anchor="end">200</text><text x="114.4" y="609.6" class="s" font-size="24" text-anchor="end">250</text>
<text x="382.7" y="1053.7" class="s" font-size="29" text-anchor="middle">Reaction coordinate (Å)</text>
<text x="50.4" y="772" class="s" font-size="29" text-anchor="middle" transform="rotate(-90 50.4 772)">PMF (kJ mol<tspan dy="-12.2" font-size="19.1">-1</tspan><tspan dy="12.2">)</tspan></text>
<line x1="144" y1="607.4" x2="192.8" y2="607.4" stroke="#8b6508" stroke-width="2"/><circle cx="167.7" cy="607.2" r="2.2" fill="#c9b06a" stroke="#8b6508" stroke-width="1.3"/>
<line x1="144" y1="643.9" x2="192.8" y2="643.9" stroke="#1f7346" stroke-width="2"/><path d="M168.2 639.7L171.2 645.7L165.2 645.7Z" fill="#1f7346"/>
<text x="198.2" y="614" class="s" font-size="23.1">UiO-(OH)<tspan dy="4.6" font-size="15.2">2</tspan><tspan dy="-4.6">-K</tspan><tspan dy="-9.7" font-size="15.2">+</tspan></text>
<text x="198.2" y="650.8" class="s" font-size="23.1">UiO-(OMe)<tspan dy="4.6" font-size="15.2">2</tspan><tspan dy="-4.6">-K</tspan><tspan dy="-9.7" font-size="15.2">+</tspan></text>
<text x="219.2" y="963.3" class="s" font-size="23.1">Cavity 1</text><text x="413.8" y="963.8" class="s" font-size="23.1">Window</text><text x="529.8" y="963.8" class="s" font-size="23.1">Cavity 2</text>
<ellipse cx="177.5" cy="940.5" rx="7.8" ry="22" fill="none" stroke="#f00" stroke-width="2"/><ellipse cx="461.4" cy="619" rx="6.6" ry="26.4" fill="none" stroke="#f00" stroke-width="2"/><ellipse cx="461.7" cy="745.3" rx="6.8" ry="17" fill="none" stroke="#f00" stroke-width="2"/><ellipse cx="614.7" cy="637.4" rx="7" ry="20.4" fill="none" stroke="#f00" stroke-width="2"/><ellipse cx="615.8" cy="718" rx="6.8" ry="16.8" fill="none" stroke="#f00" stroke-width="2"/>
<text x="177.4" y="910.4" class="r" font-size="21" text-anchor="middle">(<tspan dx="0.3">I</tspan><tspan dx="0.3">)</tspan></text><text x="462.2" y="666.7" class="r" font-size="21" text-anchor="middle">(<tspan dx="0.3">II</tspan><tspan dx="0.3">)</tspan></text><text x="462" y="717.7" class="r" font-size="21" text-anchor="middle">(<tspan dx="0.3">II</tspan><tspan dx="0.3">)</tspan></text><text x="615" y="609.7" class="r" font-size="21" text-anchor="middle">(<tspan dx="0.3">III</tspan><tspan dx="0.3">)</tspan></text><text x="614.2" y="691.7" class="r" font-size="21" text-anchor="middle">(<tspan dx="0.3">III</tspan><tspan dx="0.3">)</tspan></text>
<text x="13" y="585.6" class="b" font-size="36">b</text>
</g>
<g id="pc">
<line x1="1156.2" y1="569.2" x2="1156.2" y2="976.4" stroke="#f0f" stroke-width="1.7" stroke-dasharray="2.8 1.8"/>
<path d="M871.7 929V943M867.2 929h9M867.2 943h9M880.6 927.7V941.7M876.1 927.7h9M876.1 941.7h9M889.4 925.7V939.7M884.9 925.7h9M884.9 939.7h9M898.3 923.3V937.3M893.8 923.3h9M893.8 937.3h9M907.2 920.5V934.5M902.7 920.5h9M902.7 934.5h9M916 917.6V931.6M911.5 917.6h9M911.5 931.6h9M924.9 914.3V928.3M920.4 914.3h9M920.4 928.3h9M933.8 910.7V924.7M929.3 910.7h9M929.3 924.7h9M942.6 906.2V920.2M938.1 906.2h9M938.1 920.2h9M951.5 899.7V913.7M947 899.7h9M947 913.7h9M960.4 891.5V905.5M955.9 891.5h9M955.9 905.5h9M969.2 883.4V897.4M964.7 883.4h9M964.7 897.4h9M978.1 877.2V891.2M973.6 877.2h9M973.6 891.2h9M987 873.3V887.3M982.5 873.3h9M982.5 887.3h9M995.9 870.6V884.6M991.4 870.6h9M991.4 884.6h9M1004.7 869V883M1000.2 869h9M1000.2 883h9M1013.6 866.2V880.2M1009.1 866.2h9M1009.1 880.2h9M1022.5 861.8V875.8M1018 861.8h9M1018 875.8h9M1031.3 856.8V870.8M1026.8 856.8h9M1026.8 870.8h9M1040.2 850.4V864.4M1035.7 850.4h9M1035.7 864.4h9M1049.1 842.5V856.5M1044.6 842.5h9M1044.6 856.5h9M1057.9 829.2V844.8M1053.4 829.2h9M1053.4 844.8h9M1066.8 814.4V831.6M1062.3 814.4h9M1062.3 831.6h9M1075.7 799.4V818.2M1071.2 799.4h9M1071.2 818.2h9M1084.5 785.6V806M1080 785.6h9M1080 806h9M1093.4 773.9V795.9M1088.9 773.9h9M1088.9 795.9h9M1102.3 764.4V786.4M1097.8 764.4h9M1097.8 786.4h9M1111.1 757.9V779.9M1106.6 757.9h9M1106.6 779.9h9M1120 753.8V775.8M1115.5 753.8h9M1115.5 775.8h9M1128.9 751.4V773.4M1124.4 751.4h9M1124.4 773.4h9M1137.7 750.5V772.5M1133.2 750.5h9M1133.2 772.5h9M1146.6 753V775M1142.1 753h9M1142.1 775h9M1155.5 758.7V780.7M1151 758.7h9M1151 780.7h9M1164.3 767.7V789.7M1159.8 767.7h9M1159.8 789.7h9M1173.2 775V797M1168.7 775h9M1168.7 797h9M1182.1 779.4V801.4M1177.6 779.4h9M1177.6 801.4h9M1190.9 781.5V803.5M1186.4 781.5h9M1186.4 803.5h9M1199.8 783.5V805.5M1195.3 783.5h9M1195.3 805.5h9M1208.7 786.9V808.9M1204.2 786.9h9M1204.2 808.9h9M1217.6 791V813M1213.1 791h9M1213.1 813h9M1226.4 796.5V818.5M1221.9 796.5h9M1221.9 818.5h9M1235.3 801.1V823.1M1230.8 801.1h9M1230.8 823.1h9M1244.2 805.6V827.6M1239.7 805.6h9M1239.7 827.6h9M1253 812.5V834.5M1248.5 812.5h9M1248.5 834.5h9M1261.9 823.9V845.9M1257.4 823.9h9M1257.4 845.9h9M1270.8 835.6V857.6M1266.3 835.6h9M1266.3 857.6h9M1279.6 846.7V868.7M1275.1 846.7h9M1275.1 868.7h9M1288.5 852.9V874.9M1284 852.9h9M1284 874.9h9M1297.4 854.3V876.3M1292.9 854.3h9M1292.9 876.3h9M1306.2 854V876M1301.7 854h9M1301.7 876h9" stroke="#8b6508" stroke-width="1.5" fill="none"/>
<polyline points="871.7,936 880.6,934.7 889.4,932.7 898.3,930.3 907.2,927.5 916,924.6 924.9,921.3 933.8,917.7 942.6,913.2 951.5,906.7 960.4,898.5 969.2,890.4 978.1,884.2 987,880.3 995.9,877.6 1004.7,876 1013.6,873.2 1022.5,868.8 1031.3,863.8 1040.2,857.4 1049.1,849.5 1057.9,837 1066.8,823 1075.7,808.8 1084.5,795.8 1093.4,784.9 1102.3,775.4 1111.1,768.9 1120,764.8 1128.9,762.4 1137.7,761.5 1146.6,764 1155.5,769.7 1164.3,778.7 1173.2,786 1182.1,790.4 1190.9,792.5 1199.8,794.5 1208.7,797.9 1217.6,802 1226.4,807.5 1235.3,812.1 1244.2,816.6 1253,823.5 1261.9,834.9 1270.8,846.6 1279.6,857.7 1288.5,863.9 1297.4,865.3 1306.2,865" fill="none" stroke="#8b6508" stroke-width="2" stroke-linejoin="round"/>
<circle cx="871.7" cy="936" r="1.8" fill="#e9dcb4" stroke="#8b6508" stroke-width="1.2"/><circle cx="880.6" cy="934.7" r="1.8" fill="#e9dcb4" stroke="#8b6508" stroke-width="1.2"/><circle cx="889.4" cy="932.7" r="1.8" fill="#e9dcb4" stroke="#8b6508" stroke-width="1.2"/><circle cx="898.3" cy="930.3" r="1.8" fill="#e9dcb4" stroke="#8b6508" stroke-width="1.2"/><circle cx="907.2" cy="927.5" r="1.8" fill="#e9dcb4" stroke="#8b6508" stroke-width="1.2"/><circle cx="916" cy="924.6" r="1.8" fill="#e9dcb4" stroke="#8b6508" stroke-width="1.2"/><circle cx="924.9" cy="921.3" r="1.8" fill="#e9dcb4" stroke="#8b6508" stroke-width="1.2"/><circle cx="933.8" cy="917.7" r="1.8" fill="#e9dcb4" stroke="#8b6508" stroke-width="1.2"/><circle cx="942.6" cy="913.2" r="1.8" fill="#e9dcb4" stroke="#8b6508" stroke-width="1.2"/><circle cx="951.5" cy="906.7" r="1.8" fill="#e9dcb4" stroke="#8b6508" stroke-width="1.2"/><circle cx="960.4" cy="898.5" r="1.8" fill="#e9dcb4" stroke="#8b6508" stroke-width="1.2"/><circle cx="969.2" cy="890.4" r="1.8" fill="#e9dcb4" stroke="#8b6508" stroke-width="1.2"/><circle cx="978.1" cy="884.2" r="1.8" fill="#e9dcb4" stroke="#8b6508" stroke-width="1.2"/><circle cx="987" cy="880.3" r="1.8" fill="#e9dcb4" stroke="#8b6508" stroke-width="1.2"/><circle cx="995.9" cy="877.6" r="1.8" fill="#e9dcb4" stroke="#8b6508" stroke-width="1.2"/><circle cx="1004.7" cy="876" r="1.8" fill="#e9dcb4" stroke="#8b6508" stroke-width="1.2"/><circle cx="1013.6" cy="873.2" r="1.8" fill="#e9dcb4" stroke="#8b6508" stroke-width="1.2"/><circle cx="1022.5" cy="868.8" r="1.8" fill="#e9dcb4" stroke="#8b6508" stroke-width="1.2"/><circle cx="1031.3" cy="863.8" r="1.8" fill="#e9dcb4" stroke="#8b6508" stroke-width="1.2"/><circle cx="1040.2" cy="857.4" r="1.8" fill="#e9dcb4" stroke="#8b6508" stroke-width="1.2"/><circle cx="1049.1" cy="849.5" r="1.8" fill="#e9dcb4" stroke="#8b6508" stroke-width="1.2"/><circle cx="1057.9" cy="837" r="1.8" fill="#e9dcb4" stroke="#8b6508" stroke-width="1.2"/><circle cx="1066.8" cy="823" r="1.8" fill="#e9dcb4" stroke="#8b6508" stroke-width="1.2"/><circle cx="1075.7" cy="808.8" r="1.8" fill="#e9dcb4" stroke="#8b6508" stroke-width="1.2"/><circle cx="1084.5" cy="795.8" r="1.8" fill="#e9dcb4" stroke="#8b6508" stroke-width="1.2"/><circle cx="1093.4" cy="784.9" r="1.8" fill="#e9dcb4" stroke="#8b6508" stroke-width="1.2"/><circle cx="1102.3" cy="775.4" r="1.8" fill="#e9dcb4" stroke="#8b6508" stroke-width="1.2"/><circle cx="1111.1" cy="768.9" r="1.8" fill="#e9dcb4" stroke="#8b6508" stroke-width="1.2"/><circle cx="1120" cy="764.8" r="1.8" fill="#e9dcb4" stroke="#8b6508" stroke-width="1.2"/><circle cx="1128.9" cy="762.4" r="1.8" fill="#e9dcb4" stroke="#8b6508" stroke-width="1.2"/><circle cx="1137.7" cy="761.5" r="1.8" fill="#e9dcb4" stroke="#8b6508" stroke-width="1.2"/><circle cx="1146.6" cy="764" r="1.8" fill="#e9dcb4" stroke="#8b6508" stroke-width="1.2"/><circle cx="1155.5" cy="769.7" r="1.8" fill="#e9dcb4" stroke="#8b6508" stroke-width="1.2"/><circle cx="1164.3" cy="778.7" r="1.8" fill="#e9dcb4" stroke="#8b6508" stroke-width="1.2"/><circle cx="1173.2" cy="786" r="1.8" fill="#e9dcb4" stroke="#8b6508" stroke-width="1.2"/><circle cx="1182.1" cy="790.4" r="1.8" fill="#e9dcb4" stroke="#8b6508" stroke-width="1.2"/><circle cx="1190.9" cy="792.5" r="1.8" fill="#e9dcb4" stroke="#8b6508" stroke-width="1.2"/><circle cx="1199.8" cy="794.5" r="1.8" fill="#e9dcb4" stroke="#8b6508" stroke-width="1.2"/><circle cx="1208.7" cy="797.9" r="1.8" fill="#e9dcb4" stroke="#8b6508" stroke-width="1.2"/><circle cx="1217.6" cy="802" r="1.8" fill="#e9dcb4" stroke="#8b6508" stroke-width="1.2"/><circle cx="1226.4" cy="807.5" r="1.8" fill="#e9dcb4" stroke="#8b6508" stroke-width="1.2"/><circle cx="1235.3" cy="812.1" r="1.8" fill="#e9dcb4" stroke="#8b6508" stroke-width="1.2"/><circle cx="1244.2" cy="816.6" r="1.8" fill="#e9dcb4" stroke="#8b6508" stroke-width="1.2"/><circle cx="1253" cy="823.5" r="1.8" fill="#e9dcb4" stroke="#8b6508" stroke-width="1.2"/><circle cx="1261.9" cy="834.9" r="1.8" fill="#e9dcb4" stroke="#8b6508" stroke-width="1.2"/><circle cx="1270.8" cy="846.6" r="1.8" fill="#e9dcb4" stroke="#8b6508" stroke-width="1.2"/><circle cx="1279.6" cy="857.7" r="1.8" fill="#e9dcb4" stroke="#8b6508" stroke-width="1.2"/><circle cx="1288.5" cy="863.9" r="1.8" fill="#e9dcb4" stroke="#8b6508" stroke-width="1.2"/><circle cx="1297.4" cy="865.3" r="1.8" fill="#e9dcb4" stroke="#8b6508" stroke-width="1.2"/><circle cx="1306.2" cy="865" r="1.8" fill="#e9dcb4" stroke="#8b6508" stroke-width="1.2"/>
<path d="M871.6 923.4V948.6M867.1 923.4h9M867.1 948.6h9M880.2 918.2V943.4M875.7 918.2h9M875.7 943.4h9M888.9 913.6V938.8M884.4 913.6h9M884.4 938.8h9M897.5 909.5V934.7M893 909.5h9M893 934.7h9M906.1 904.2V929.4M901.6 904.2h9M901.6 929.4h9M914.7 896V921.2M910.2 896h9M910.2 921.2h9M923.4 887.2V912.4M918.9 887.2h9M918.9 912.4h9M932 877.8V903M927.5 877.8h9M927.5 903h9M940.6 868.3V893.5M936.1 868.3h9M936.1 893.5h9M949.2 861.1V886.3M944.7 861.1h9M944.7 886.3h9M957.9 854.5V879.7M953.4 854.5h9M953.4 879.7h9M966.5 846V871.2M962 846h9M962 871.2h9M975.1 836.2V861.4M970.6 836.2h9M970.6 861.4h9M983.7 823.2V848.4M979.2 823.2h9M979.2 848.4h9M992.4 809.6V834.8M987.9 809.6h9M987.9 834.8h9M1001 798.4V823.6M996.5 798.4h9M996.5 823.6h9M1009.6 786.5V811.7M1005.1 786.5h9M1005.1 811.7h9M1018.2 773.8V799M1013.7 773.8h9M1013.7 799h9M1026.8 760.1V785.3M1022.3 760.1h9M1022.3 785.3h9M1035.5 747.4V772.6M1031 747.4h9M1031 772.6h9M1044.1 734.4V759.6M1039.6 734.4h9M1039.6 759.6h9M1052.7 721.8V747M1048.2 721.8h9M1048.2 747h9M1061.3 707.9V733.1M1056.8 707.9h9M1056.8 733.1h9M1070 693.6V718.8M1065.5 693.6h9M1065.5 718.8h9M1078.6 678.6V703.8M1074.1 678.6h9M1074.1 703.8h9M1087.2 667.7V692.9M1082.7 667.7h9M1082.7 692.9h9M1095.8 658.7V683.9M1091.3 658.7h9M1091.3 683.9h9M1104.5 651.4V676.6M1100 651.4h9M1100 676.6h9M1113.1 646V671.2M1108.6 646h9M1108.6 671.2h9M1121.7 641.1V666.3M1117.2 641.1h9M1117.2 666.3h9M1130.3 635.1V660.3M1125.8 635.1h9M1125.8 660.3h9M1139 628.5V653.7M1134.5 628.5h9M1134.5 653.7h9M1147.6 621.5V646.7M1143.1 621.5h9M1143.1 646.7h9M1156.2 613.9V639.1M1151.7 613.9h9M1151.7 639.1h9M1164.8 612.3V637.5M1160.3 612.3h9M1160.3 637.5h9M1173.5 617.1V642.3M1169 617.1h9M1169 642.3h9M1182.1 629.4V654.6M1177.6 629.4h9M1177.6 654.6h9M1190.7 646V671.2M1186.2 646h9M1186.2 671.2h9M1199.3 659.5V684.7M1194.8 659.5h9M1194.8 684.7h9M1208 668.8V694M1203.5 668.8h9M1203.5 694h9M1216.6 678.6V703.8M1212.1 678.6h9M1212.1 703.8h9M1225.2 694V719.2M1220.7 694h9M1220.7 719.2h9M1233.8 709.9V735.1M1229.3 709.9h9M1229.3 735.1h9M1242.5 723.1V748.3M1238 723.1h9M1238 748.3h9M1251.1 725.5V750.7M1246.6 725.5h9M1246.6 750.7h9M1259.7 721.3V746.5M1255.2 721.3h9M1255.2 746.5h9M1268.3 716.9V742.1M1263.8 716.9h9M1263.8 742.1h9M1277 714.7V739.9M1272.5 714.7h9M1272.5 739.9h9M1285.6 715.2V740.4M1281.1 715.2h9M1281.1 740.4h9M1294.2 716.9V742.1M1289.7 716.9h9M1289.7 742.1h9M1302.8 717.4V742.6M1298.3 717.4h9M1298.3 742.6h9M1311.5 713.6V738.8M1307 713.6h9M1307 738.8h9" stroke="#1f7346" stroke-width="1.5" fill="none"/>
<polyline points="871.6,936 880.2,930.8 888.9,926.2 897.5,922.1 906.1,916.8 914.7,908.6 923.4,899.8 932,890.4 940.6,880.9 949.2,873.7 957.9,867.1 966.5,858.6 975.1,848.8 983.7,835.8 992.4,822.2 1001,811 1009.6,799.1 1018.2,786.4 1026.8,772.7 1035.5,760 1044.1,747 1052.7,734.4 1061.3,720.5 1070,706.2 1078.6,691.2 1087.2,680.3 1095.8,671.3 1104.5,664 1113.1,658.6 1121.7,653.7 1130.3,647.7 1139,641.1 1147.6,634.1 1156.2,626.5 1164.8,624.9 1173.5,629.7 1182.1,642 1190.7,658.6 1199.3,672.1 1208,681.4 1216.6,691.2 1225.2,706.6 1233.8,722.5 1242.5,735.7 1251.1,738.1 1259.7,733.9 1268.3,729.5 1277,727.3 1285.6,727.8 1294.2,729.5 1302.8,730 1311.5,726.2" fill="none" stroke="#1f7346" stroke-width="2" stroke-linejoin="round"/>
<path d="M871.6 932.5L874.4 938.1L868.8 938.1Z" fill="#1f7346"/><path d="M880.2 927.3L883 932.9L877.4 932.9Z" fill="#1f7346"/><path d="M888.9 922.7L891.6 928.3L886.1 928.3Z" fill="#1f7346"/><path d="M897.5 918.6L900.3 924.2L894.7 924.2Z" fill="#1f7346"/><path d="M906.1 913.3L908.9 918.9L903.3 918.9Z" fill="#1f7346"/><path d="M914.7 905.1L917.5 910.7L911.9 910.7Z" fill="#1f7346"/><path d="M923.4 896.3L926.1 901.9L920.6 901.9Z" fill="#1f7346"/><path d="M932 886.9L934.8 892.5L929.2 892.5Z" fill="#1f7346"/><path d="M940.6 877.4L943.4 883L937.8 883Z" fill="#1f7346"/><path d="M949.2 870.2L952 875.8L946.4 875.8Z" fill="#1f7346"/><path d="M957.9 863.6L960.6 869.2L955.1 869.2Z" fill="#1f7346"/><path d="M966.5 855.1L969.3 860.7L963.7 860.7Z" fill="#1f7346"/><path d="M975.1 845.3L977.9 850.9L972.3 850.9Z" fill="#1f7346"/><path d="M983.7 832.3L986.5 837.9L980.9 837.9Z" fill="#1f7346"/><path d="M992.4 818.7L995.1 824.3L989.6 824.3Z" fill="#1f7346"/><path d="M1001 807.5L1003.8 813.1L998.2 813.1Z" fill="#1f7346"/><path d="M1009.6 795.6L1012.4 801.2L1006.8 801.2Z" fill="#1f7346"/><path d="M1018.2 782.9L1021 788.5L1015.4 788.5Z" fill="#1f7346"/><path d="M1026.8 769.2L1029.6 774.8L1024 774.8Z" fill="#1f7346"/><path d="M1035.5 756.5L1038.3 762.1L1032.7 762.1Z" fill="#1f7346"/><path d="M1044.1 743.5L1046.9 749.1L1041.3 749.1Z" fill="#1f7346"/><path d="M1052.7 730.9L1055.5 736.5L1049.9 736.5Z" fill="#1f7346"/><path d="M1061.3 717L1064.1 722.6L1058.5 722.6Z" fill="#1f7346"/><path d="M1070 702.7L1072.8 708.3L1067.2 708.3Z" fill="#1f7346"/><path d="M1078.6 687.7L1081.4 693.3L1075.8 693.3Z" fill="#1f7346"/><path d="M1087.2 676.8L1090 682.4L1084.4 682.4Z" fill="#1f7346"/><path d="M1095.8 667.8L1098.6 673.4L1093 673.4Z" fill="#1f7346"/><path d="M1104.5 660.5L1107.3 666.1L1101.7 666.1Z" fill="#1f7346"/><path d="M1113.1 655.1L1115.9 660.7L1110.3 660.7Z" fill="#1f7346"/><path d="M1121.7 650.2L1124.5 655.8L1118.9 655.8Z" fill="#1f7346"/><path d="M1130.3 644.2L1133.1 649.8L1127.5 649.8Z" fill="#1f7346"/><path d="M1139 637.6L1141.8 643.2L1136.2 643.2Z" fill="#1f7346"/><path d="M1147.6 630.6L1150.4 636.2L1144.8 636.2Z" fill="#1f7346"/><path d="M1156.2 623L1159 628.6L1153.4 628.6Z" fill="#1f7346"/><path d="M1164.8 621.4L1167.6 627L1162 627Z" fill="#1f7346"/><path d="M1173.5 626.2L1176.3 631.8L1170.7 631.8Z" fill="#1f7346"/><path d="M1182.1 638.5L1184.9 644.1L1179.3 644.1Z" fill="#1f7346"/><path d="M1190.7 655.1L1193.5 660.7L1187.9 660.7Z" fill="#1f7346"/><path d="M1199.3 668.6L1202.1 674.2L1196.5 674.2Z" fill="#1f7346"/><path d="M1208 677.9L1210.8 683.5L1205.2 683.5Z" fill="#1f7346"/><path d="M1216.6 687.7L1219.4 693.3L1213.8 693.3Z" fill="#1f7346"/><path d="M1225.2 703.1L1228 708.7L1222.4 708.7Z" fill="#1f7346"/><path d="M1233.8 719L1236.6 724.6L1231 724.6Z" fill="#1f7346"/><path d="M1242.5 732.2L1245.3 737.8L1239.7 737.8Z" fill="#1f7346"/><path d="M1251.1 734.6L1253.9 740.2L1248.3 740.2Z" fill="#1f7346"/><path d="M1259.7 730.4L1262.5 736L1256.9 736Z" fill="#1f7346"/><path d="M1268.3 726L1271.1 731.6L1265.5 731.6Z" fill="#1f7346"/><path d="M1277 723.8L1279.8 729.4L1274.2 729.4Z" fill="#1f7346"/><path d="M1285.6 724.3L1288.4 729.9L1282.8 729.9Z" fill="#1f7346"/><path d="M1294.2 726L1297 731.6L1291.4 731.6Z" fill="#1f7346"/><path d="M1302.8 726.5L1305.6 732.1L1300 732.1Z" fill="#1f7346"/><path d="M1311.5 722.7L1314.3 728.3L1308.7 728.3Z" fill="#1f7346"/>
<g stroke="#000" stroke-width="1.8" fill="none" stroke-linecap="butt"><rect x="820.8" y="567.2" width="509" height="410.2"/><path d="M871.5 977.4v7.6M973.4 977.4v7.6M1075.2 977.4v7.6M1177.1 977.4v7.6M1278.9 977.4v7.6M820.6 977.4v4.2M922.4 977.4v4.2M1024.3 977.4v4.2M1126.2 977.4v4.2M1228 977.4v4.2M1329.9 977.4v4.2M820.8 936.2h-7.6M820.8 854.2h-7.6M820.8 772.3h-7.6M820.8 690.3h-7.6M820.8 608.3h-7.6M820.8 977.2h-4.2M820.8 895.2h-4.2M820.8 813.2h-4.2M820.8 731.3h-4.2M820.8 649.3h-4.2M820.8 567.3h-4.2"/></g>
<text x="871.5" y="1010.7" class="s" font-size="24" text-anchor="middle">0</text><text x="973.4" y="1010.7" class="s" font-size="24" text-anchor="middle">2</text><text x="1075.2" y="1010.7" class="s" font-size="24" text-anchor="middle">4</text><text x="1177.1" y="1010.7" class="s" font-size="24" text-anchor="middle">6</text><text x="1278.9" y="1010.7" class="s" font-size="24" text-anchor="middle">8</text>
<text x="806" y="944.8" class="s" font-size="24" text-anchor="end">0</text><text x="806" y="862.8" class="s" font-size="24" text-anchor="end">100</text><text x="806" y="780.9" class="s" font-size="24" text-anchor="end">200</text><text x="806" y="698.9" class="s" font-size="24" text-anchor="end">300</text><text x="806" y="616.9" class="s" font-size="24" text-anchor="end">400</text>
<text x="1075" y="1053.7" class="s" font-size="29" text-anchor="middle">Reaction coordinate (Å)</text>
<text x="738.2" y="772" class="s" font-size="29" text-anchor="middle" transform="rotate(-90 738.2 772)">PMF (kJ mol<tspan dy="-12.2" font-size="19.1">-1</tspan><tspan dy="12.2">)</tspan></text>
<line x1="839.3" y1="598.7" x2="887.1" y2="598.7" stroke="#8b6508" stroke-width="2"/><circle cx="863" cy="598.5" r="2.2" fill="#e9dcb4" stroke="#8b6508" stroke-width="1.3"/>
<line x1="839.3" y1="635.2" x2="887.1" y2="635.2" stroke="#1f7346" stroke-width="2"/><path d="M863.2 631L866.2 637L860.2 637Z" fill="#1f7346"/>
<text x="894.2" y="605.8" class="s" font-size="23.1">UiO-(OH)<tspan dy="4.6" font-size="15.2">2</tspan><tspan dy="-4.6">-Mg</tspan><tspan dy="-9.7" font-size="15.2">2+</tspan></text>
<text x="894.2" y="642.6" class="s" font-size="23.1">UiO-(OMe)<tspan dy="4.6" font-size="15.2">2</tspan><tspan dy="-4.6">-Mg</tspan><tspan dy="-9.7" font-size="15.2">2+</tspan></text>
<text x="910" y="964.5" class="s" font-size="23.1">Cavity 1</text><text x="1109.5" y="964.5" class="s" font-size="23.1">Window</text><text x="1221.5" y="964.5" class="s" font-size="23.1">Cavity 2</text>
<ellipse cx="869.6" cy="940.9" rx="7.7" ry="22.3" fill="none" stroke="#f00" stroke-width="2"/><ellipse cx="1156.2" cy="622.4" rx="6.8" ry="23.3" fill="none" stroke="#f00" stroke-width="2"/><ellipse cx="1155.9" cy="768" rx="6.8" ry="19.6" fill="none" stroke="#f00" stroke-width="2"/><ellipse cx="1312" cy="724.6" rx="7" ry="20.4" fill="none" stroke="#f00" stroke-width="2"/><ellipse cx="1307.5" cy="863.4" rx="6.8" ry="16.6" fill="none" stroke="#f00" stroke-width="2"/>
<text x="870.9" y="911.5" class="r" font-size="23" text-anchor="middle">(<tspan dx="1.3">I</tspan><tspan dx="1.3">)</tspan></text><text x="1158.4" y="672.4" class="r" font-size="23" text-anchor="middle">(<tspan dx="1.3">II</tspan><tspan dx="1.3">)</tspan></text><text x="1158.4" y="739.7" class="r" font-size="23" text-anchor="middle">(<tspan dx="1.3">II</tspan><tspan dx="1.3">)</tspan></text><text x="1309" y="696.5" class="r" font-size="23" text-anchor="middle">(<tspan dx="1.3">III</tspan><tspan dx="1.3">)</tspan></text><text x="1305" y="839.8" class="r" font-size="23" text-anchor="middle">(<tspan dx="1.3">III</tspan><tspan dx="1.3">)</tspan></text>
<text x="710.5" y="579.8" class="b" font-size="36">c</text>
</g>
<g id="pd">
<rect x="1587" y="810.8" width="63.7" height="166.8" fill="url(#go)"/>
<rect x="1842.2" y="680.2" width="63.8" height="297.4" fill="url(#go)"/>
<rect x="1599.6" y="848.1" width="38.3" height="129.5" fill="url(#gg)"/>
<rect x="1854.8" y="790.9" width="38.6" height="186.7" fill="url(#gg)"/>
<rect x="1630.1" y="580.8" width="45.6" height="22.2" fill="url(#go)"/><rect x="1776.1" y="580.8" width="45.9" height="22.2" fill="url(#gg)"/>
<text x="1682.7" y="599.7" class="s" font-size="21.8">Mg<tspan dy="-9.2" font-size="14.4">2+</tspan></text><text x="1829.2" y="599.7" class="s" font-size="21.8">K<tspan dy="-9.2" font-size="14.4">+</tspan></text>
<g stroke="#000" stroke-width="1.8" fill="none" stroke-linecap="butt"><rect x="1491" y="567.2" width="509.2" height="410.4"/><path d="M1617.7 977.6v7.6M1872.5 977.6v7.6M1491 977.6h-7.6M1491 860.4h-7.6M1491 743.2h-7.6M1491 625.9h-7.6M1491 919h-4.2M1491 801.8h-4.2M1491 684.5h-4.2M1491 567.3h-4.2"/></g>
<text x="1476.6" y="986.2" class="s" font-size="24" text-anchor="end">0</text><text x="1476.6" y="869" class="s" font-size="24" text-anchor="end">150</text><text x="1476.6" y="751.7" class="s" font-size="24" text-anchor="end">300</text><text x="1476.6" y="634.5" class="s" font-size="24" text-anchor="end">450</text>
<text x="1617.7" y="1012.5" class="s" font-size="25" text-anchor="middle">UiO-66-(OH)<tspan dy="5" font-size="16.5">2</tspan></text>
<text x="1872.5" y="1012.5" class="s" font-size="25" text-anchor="middle">UiO-66-(OMe)<tspan dy="5" font-size="16.5">2</tspan></text>
<text x="1411.3" y="775" class="s" font-size="29" text-anchor="middle" transform="rotate(-90 1411.3 775)">PMF (kJ mol<tspan dy="-12.2" font-size="19.1">-1</tspan><tspan dy="12.2">)</tspan></text>
<text x="1385.5" y="586.7" class="b" font-size="36">d</text>
</g>
<g id="pe">
<path d="M179.5 1262.3V1307.4M175 1262.3h9M175 1307.4h9M204.9 1234V1302.9M200.4 1234h9M200.4 1302.9h9M230.4 1249.6V1287.3M225.9 1249.6h9M225.9 1287.3h9M255.8 1249.6V1287.3M251.3 1249.6h9M251.3 1287.3h9M281.3 1249.6V1287.3M276.8 1249.6h9M276.8 1287.3h9M306.8 1254.1V1299.2M302.2 1254.1h9M302.2 1299.2h9M332.2 1262.3V1307.4M327.7 1262.3h9M327.7 1307.4h9M357.6 1274.2V1311.9M353.1 1274.2h9M353.1 1311.9h9M383.1 1303.3V1348.4M378.6 1303.3h9M378.6 1348.4h9M408.5 1332V1368.9M404 1332h9M404 1368.9h9M434 1332V1368.9M429.5 1332h9M429.5 1368.9h9M459.4 1316V1385M454.9 1316h9M454.9 1385h9M484.9 1335.7V1381.7M480.4 1335.7h9M480.4 1381.7h9M510.3 1272.1V1330.4M505.8 1272.1h9M505.8 1330.4h9M535.8 1274.2V1311.9M531.3 1274.2h9M531.3 1311.9h9M561.2 1249.6V1287.3M556.8 1249.6h9M556.8 1287.3h9M586.7 1230.7V1289.8M582.2 1230.7h9M582.2 1289.8h9M612.1 1230.7V1289.8M607.6 1230.7h9M607.6 1289.8h9" stroke="#808000" stroke-width="1.5" fill="none"/><polyline points="179.5,1284.8 204.9,1268.4 230.4,1268.4 255.8,1268.4 281.3,1268.4 306.8,1276.6 332.2,1284.8 357.6,1293 383.1,1325.9 408.5,1350.5 434,1350.5 459.4,1350.5 484.9,1358.7 510.3,1301.2 535.8,1293 561.2,1268.4 586.7,1260.2 612.1,1260.2" fill="none" stroke="#808000" stroke-width="2" stroke-linejoin="round"/><path d="M179.5 1278.3L185.7 1288.9L173.3 1288.9Z" fill="#808000"/><path d="M204.9 1261.9L211.1 1272.5L198.8 1272.5Z" fill="#808000"/><path d="M230.4 1261.9L236.6 1272.5L224.2 1272.5Z" fill="#808000"/><path d="M255.8 1261.9L262.1 1272.5L249.7 1272.5Z" fill="#808000"/><path d="M281.3 1261.9L287.5 1272.5L275.1 1272.5Z" fill="#808000"/><path d="M306.8 1270.1L312.9 1280.7L300.6 1280.7Z" fill="#808000"/><path d="M332.2 1278.3L338.4 1288.9L326 1288.9Z" fill="#808000"/><path d="M357.6 1286.5L363.8 1297.1L351.4 1297.1Z" fill="#808000"/><path d="M383.1 1319.3L389.3 1329.9L376.9 1329.9Z" fill="#808000"/><path d="M408.5 1343.9L414.7 1354.5L402.3 1354.5Z" fill="#808000"/><path d="M434 1343.9L440.2 1354.5L427.8 1354.5Z" fill="#808000"/><path d="M459.4 1343.9L465.6 1354.5L453.2 1354.5Z" fill="#808000"/><path d="M484.9 1352.1L491.1 1362.7L478.7 1362.7Z" fill="#808000"/><path d="M510.3 1294.7L516.5 1305.3L504.1 1305.3Z" fill="#808000"/><path d="M535.8 1286.5L542 1297.1L529.6 1297.1Z" fill="#808000"/><path d="M561.2 1261.9L567.5 1272.5L555 1272.5Z" fill="#808000"/><path d="M586.7 1253.6L592.9 1264.2L580.5 1264.2Z" fill="#808000"/><path d="M612.1 1253.6L618.4 1264.2L605.9 1264.2Z" fill="#808000"/>
<path d="M179.5 1275V1343.9M175 1275h9M175 1343.9h9M204.9 1260.2V1342.3M200.4 1260.2h9M200.4 1342.3h9M230.4 1272.5V1330M225.9 1272.5h9M225.9 1330h9M255.8 1275V1343.9M251.3 1275h9M251.3 1343.9h9M281.3 1280.7V1354.6M276.8 1280.7h9M276.8 1354.6h9M306.8 1303.3V1348.4M302.2 1303.3h9M302.2 1348.4h9M332.2 1321.8V1395.6M327.7 1321.8h9M327.7 1395.6h9M357.6 1344.3V1389.5M353.1 1344.3h9M353.1 1389.5h9M383.1 1373.1V1410M378.6 1373.1h9M378.6 1410h9M408.5 1385.4V1430.5M404 1385.4h9M404 1430.5h9M434 1385.4V1430.5M429.5 1385.4h9M429.5 1430.5h9M459.4 1385.4V1430.5M454.9 1385.4h9M454.9 1430.5h9M484.9 1377.2V1422.3M480.4 1377.2h9M480.4 1422.3h9M510.3 1377.2V1422.3M505.8 1377.2h9M505.8 1422.3h9M535.8 1373.1V1410M531.3 1373.1h9M531.3 1410h9M561.2 1344.3V1389.5M556.8 1344.3h9M556.8 1389.5h9M586.7 1332V1368.9M582.2 1332h9M582.2 1368.9h9M612.1 1332V1368.9M607.6 1332h9M607.6 1368.9h9" stroke="#008080" stroke-width="1.5" fill="none"/><polyline points="179.5,1309.5 204.9,1301.2 230.4,1301.2 255.8,1309.5 281.3,1317.7 306.8,1325.9 332.2,1358.7 357.6,1366.9 383.1,1391.5 408.5,1407.9 434,1407.9 459.4,1407.9 484.9,1399.7 510.3,1399.7 535.8,1391.5 561.2,1366.9 586.7,1350.5 612.1,1350.5" fill="none" stroke="#008080" stroke-width="2" stroke-linejoin="round"/><circle cx="179.5" cy="1309.5" r="5" fill="#008080"/><circle cx="204.9" cy="1301.2" r="5" fill="#008080"/><circle cx="230.4" cy="1301.2" r="5" fill="#008080"/><circle cx="255.8" cy="1309.5" r="5" fill="#008080"/><circle cx="281.3" cy="1317.7" r="5" fill="#008080"/><circle cx="306.8" cy="1325.9" r="5" fill="#008080"/><circle cx="332.2" cy="1358.7" r="5" fill="#008080"/><circle cx="357.6" cy="1366.9" r="5" fill="#008080"/><circle cx="383.1" cy="1391.5" r="5" fill="#008080"/><circle cx="408.5" cy="1407.9" r="5" fill="#008080"/><circle cx="434" cy="1407.9" r="5" fill="#008080"/><circle cx="459.4" cy="1407.9" r="5" fill="#008080"/><circle cx="484.9" cy="1399.7" r="5" fill="#008080"/><circle cx="510.3" cy="1399.7" r="5" fill="#008080"/><circle cx="535.8" cy="1391.5" r="5" fill="#008080"/><circle cx="561.2" cy="1366.9" r="5" fill="#008080"/><circle cx="586.7" cy="1350.5" r="5" fill="#008080"/><circle cx="612.1" cy="1350.5" r="5" fill="#008080"/>
<g stroke="#000" stroke-width="1.8" fill="none" stroke-linecap="butt"><rect x="128.6" y="1136.8" width="509.6" height="411.2"/><path d="M179.5 1548v7.6M281.3 1548v7.6M383.1 1548v7.6M484.9 1548v7.6M586.7 1548v7.6M128.6 1548v4.2M230.4 1548v4.2M332.2 1548v4.2M434 1548v4.2M535.8 1548v4.2M637.6 1548v4.2M128.6 1506.4h-7.6M128.6 1424.3h-7.6M128.6 1342.3h-7.6M128.6 1260.2h-7.6M128.6 1178.2h-7.6M128.6 1547.4h-4.2M128.6 1465.4h-4.2M128.6 1383.3h-4.2M128.6 1301.2h-4.2M128.6 1219.2h-4.2M128.6 1137.1h-4.2"/></g>
<text x="179.5" y="1581.3" class="s" font-size="24" text-anchor="middle">0</text><text x="281.3" y="1581.3" class="s" font-size="24" text-anchor="middle">2</text><text x="383.1" y="1581.3" class="s" font-size="24" text-anchor="middle">4</text><text x="484.9" y="1581.3" class="s" font-size="24" text-anchor="middle">6</text><text x="586.7" y="1581.3" class="s" font-size="24" text-anchor="middle">8</text>
<text x="114.4" y="1515" class="s" font-size="24" text-anchor="end">0</text><text x="114.4" y="1432.9" class="s" font-size="24" text-anchor="end">2</text><text x="114.4" y="1350.9" class="s" font-size="24" text-anchor="end">4</text><text x="114.4" y="1268.8" class="s" font-size="24" text-anchor="end">6</text><text x="114.4" y="1186.8" class="s" font-size="24" text-anchor="end">8</text>
<text x="382.7" y="1617.2" class="s" font-size="29" text-anchor="middle">Reaction coordinate (Å)</text>
<text x="77.1" y="1342.4" class="s" font-size="29" text-anchor="middle" transform="rotate(-90 77.1 1342.4)">Coordination number</text>
<line x1="373" y1="1469.6" x2="420.6" y2="1469.6" stroke="#808000" stroke-width="2"/><path d="M396.8 1462.2L403 1472.8L390.6 1472.8Z" fill="#808000"/>
<line x1="373" y1="1506.2" x2="420.6" y2="1506.2" stroke="#008080" stroke-width="2"/><circle cx="396.7" cy="1506.1" r="5" fill="#008080"/>
<text x="426.6" y="1477" class="s" font-size="23.1">UiO-66-(OH)<tspan dy="4.6" font-size="15.2">2</tspan><tspan dy="-4.6">-K</tspan><tspan dy="-9.7" font-size="15.2">+</tspan></text><text x="426.6" y="1514" class="s" font-size="23.1">UiO-66-(OMe)<tspan dy="4.6" font-size="15.2">2</tspan><tspan dy="-4.6">-K</tspan><tspan dy="-9.7" font-size="15.2">+</tspan></text>
<ellipse cx="179.5" cy="1306.9" rx="17.8" ry="60.2" fill="none" stroke="#f00" stroke-width="2"/>
<ellipse cx="458.8" cy="1371.5" rx="16.6" ry="65.4" fill="none" stroke="#f00" stroke-width="2"/>
<ellipse cx="611.4" cy="1308.7" rx="16.3" ry="95" fill="none" stroke="#f00" stroke-width="2"/>
<text x="179.5" y="1238.4" class="r" font-size="22" text-anchor="middle">(<tspan dx="0.5">I</tspan><tspan dx="0.5">)</tspan></text>
<text x="461.8" y="1299.5" class="r" font-size="22" text-anchor="middle">(<tspan dx="0.5">II</tspan><tspan dx="0.5">)</tspan></text>
<text x="614" y="1207" class="r" font-size="22" text-anchor="middle">(<tspan dx="0.5">III</tspan><tspan dx="0.5">)</tspan></text>
<text x="12.5" y="1146.5" class="b" font-size="36">e</text>
</g>
<g id="pf">
<path d="" stroke="#808000" stroke-width="1.5" fill="none"/><polyline points="179.5,1812.9 204.9,1812.9 230.4,1812.9 255.8,1812.9 281.3,1812.9 306.8,1812.9 332.2,1812.9 357.6,1812.9 383.1,1812.9 408.5,1854 434,1854 459.4,1854 484.9,1854 510.3,1854 535.8,1854 561.2,1812.9 586.7,1812.9 612.1,1812.9" fill="none" stroke="#808000" stroke-width="2" stroke-linejoin="round"/><path d="M179.5 1806.3L185.7 1816.9L173.3 1816.9Z" fill="#808000"/><path d="M204.9 1806.3L211.1 1816.9L198.8 1816.9Z" fill="#808000"/><path d="M230.4 1806.3L236.6 1816.9L224.2 1816.9Z" fill="#808000"/><path d="M255.8 1806.3L262.1 1816.9L249.7 1816.9Z" fill="#808000"/><path d="M281.3 1806.3L287.5 1816.9L275.1 1816.9Z" fill="#808000"/><path d="M306.8 1806.3L312.9 1816.9L300.6 1816.9Z" fill="#808000"/><path d="M332.2 1806.3L338.4 1816.9L326 1816.9Z" fill="#808000"/><path d="M357.6 1806.3L363.8 1816.9L351.4 1816.9Z" fill="#808000"/><path d="M383.1 1806.3L389.3 1816.9L376.9 1816.9Z" fill="#808000"/><path d="M408.5 1847.4L414.7 1858L402.3 1858Z" fill="#808000"/><path d="M434 1847.4L440.2 1858L427.8 1858Z" fill="#808000"/><path d="M459.4 1847.4L465.6 1858L453.2 1858Z" fill="#808000"/><path d="M484.9 1847.4L491.1 1858L478.7 1858Z" fill="#808000"/><path d="M510.3 1847.4L516.5 1858L504.1 1858Z" fill="#808000"/><path d="M535.8 1847.4L542 1858L529.6 1858Z" fill="#808000"/><path d="M561.2 1806.3L567.5 1816.9L555 1816.9Z" fill="#808000"/><path d="M586.7 1806.3L592.9 1816.9L580.5 1816.9Z" fill="#808000"/><path d="M612.1 1806.3L618.4 1816.9L605.9 1816.9Z" fill="#808000"/>
<path d="M357.6 1802.6V1839.6M353.1 1802.6h9M353.1 1839.6h9M383.1 1843.7V1880.6M378.6 1843.7h9M378.6 1880.6h9M408.5 1864.2V1905.3M404 1864.2h9M404 1905.3h9" stroke="#008080" stroke-width="1.5" fill="none"/><polyline points="179.5,1812.9 204.9,1812.9 230.4,1812.9 255.8,1812.9 281.3,1812.9 306.8,1812.9 332.2,1812.9 357.6,1821.1 383.1,1862.2 408.5,1884.8 434,1936.1 459.4,1936.1 484.9,1936.1 510.3,1895 535.8,1895 561.2,1854 586.7,1854 612.1,1812.9" fill="none" stroke="#008080" stroke-width="2" stroke-linejoin="round"/><circle cx="179.5" cy="1812.9" r="5" fill="#008080"/><circle cx="204.9" cy="1812.9" r="5" fill="#008080"/><circle cx="230.4" cy="1812.9" r="5" fill="#008080"/><circle cx="255.8" cy="1812.9" r="5" fill="#008080"/><circle cx="281.3" cy="1812.9" r="5" fill="#008080"/><circle cx="306.8" cy="1812.9" r="5" fill="#008080"/><circle cx="332.2" cy="1812.9" r="5" fill="#008080"/><circle cx="357.6" cy="1821.1" r="5" fill="#008080"/><circle cx="383.1" cy="1862.2" r="5" fill="#008080"/><circle cx="408.5" cy="1884.8" r="5" fill="#008080"/><circle cx="434" cy="1936.1" r="5" fill="#008080"/><circle cx="459.4" cy="1936.1" r="5" fill="#008080"/><circle cx="484.9" cy="1936.1" r="5" fill="#008080"/><circle cx="510.3" cy="1895" r="5" fill="#008080"/><circle cx="535.8" cy="1895" r="5" fill="#008080"/><circle cx="561.2" cy="1854" r="5" fill="#008080"/><circle cx="586.7" cy="1854" r="5" fill="#008080"/><circle cx="612.1" cy="1812.9" r="5" fill="#008080"/>
<g stroke="#000" stroke-width="1.8" fill="none" stroke-linecap="butt"><rect x="128.6" y="1689.4" width="509.6" height="411"/><path d="M179.5 2100.4v7.6M281.3 2100.4v7.6M383.1 2100.4v7.6M484.9 2100.4v7.6M586.7 2100.4v7.6M128.6 2100.4v4.2M230.4 2100.4v4.2M332.2 2100.4v4.2M434 2100.4v4.2M535.8 2100.4v4.2M637.6 2100.4v4.2M128.6 2059.3h-7.6M128.6 1977.2h-7.6M128.6 1895h-7.6M128.6 1812.9h-7.6M128.6 1730.7h-7.6M128.6 2100.4h-4.2M128.6 2018.2h-4.2M128.6 1936.1h-4.2M128.6 1854h-4.2M128.6 1771.8h-4.2M128.6 1689.7h-4.2"/></g>
<text x="179.5" y="2132.6" class="s" font-size="24" text-anchor="middle">0</text><text x="281.3" y="2132.6" class="s" font-size="24" text-anchor="middle">2</text><text x="383.1" y="2132.6" class="s" font-size="24" text-anchor="middle">4</text><text x="484.9" y="2132.6" class="s" font-size="24" text-anchor="middle">6</text><text x="586.7" y="2132.6" class="s" font-size="24" text-anchor="middle">8</text>
<text x="114.4" y="2067.9" class="s" font-size="24" text-anchor="end">0</text><text x="114.4" y="1985.8" class="s" font-size="24" text-anchor="end">2</text><text x="114.4" y="1903.6" class="s" font-size="24" text-anchor="end">4</text><text x="114.4" y="1821.5" class="s" font-size="24" text-anchor="end">6</text><text x="114.4" y="1739.3" class="s" font-size="24" text-anchor="end">8</text>
<text x="382.7" y="2173" class="s" font-size="29" text-anchor="middle">Reaction coordinate (Å)</text>
<text x="68.5" y="1894.9" class="s" font-size="29" text-anchor="middle" transform="rotate(-90 68.5 1894.9)">Coordination number</text>
<line x1="313.3" y1="2015" x2="360.9" y2="2015" stroke="#808000" stroke-width="2"/><path d="M337.1 2007.6L343.3 2018.2L330.9 2018.2Z" fill="#808000"/>
<line x1="313.3" y1="2051.6" x2="360.9" y2="2051.6" stroke="#008080" stroke-width="2"/><circle cx="337" cy="2051.5" r="5" fill="#008080"/>
<text x="366.9" y="2022.4" class="s" font-size="23.1">UiO-66-(OH)<tspan dy="4.6" font-size="15.2">2</tspan><tspan dy="-4.6">-Mg</tspan><tspan dy="-9.7" font-size="15.2">2+</tspan></text><text x="366.9" y="2059.4" class="s" font-size="23.1">UiO-66-(OMe)<tspan dy="4.6" font-size="15.2">2</tspan><tspan dy="-4.6">-Mg</tspan><tspan dy="-9.7" font-size="15.2">2+</tspan></text>
<ellipse cx="179.5" cy="1816.9" rx="13" ry="32" fill="none" stroke="#f00" stroke-width="2"/>
<ellipse cx="457" cy="1894.9" rx="16.6" ry="64.6" fill="none" stroke="#f00" stroke-width="2"/>
<ellipse cx="612.1" cy="1816.6" rx="12.6" ry="37.3" fill="none" stroke="#f00" stroke-width="2"/>
<text x="181.7" y="1778.4" class="r" font-size="22" text-anchor="middle">(<tspan dx="0.5">I</tspan><tspan dx="0.5">)</tspan></text>
<text x="460" y="1823.6" class="r" font-size="22" text-anchor="middle">(<tspan dx="0.5">II</tspan><tspan dx="0.5">)</tspan></text>
<text x="608.8" y="1770.4" class="r" font-size="22" text-anchor="middle">(<tspan dx="0.5">III</tspan><tspan dx="0.5">)</tspan></text>
<text x="12.2" y="1695.9" class="b" font-size="36">f</text>
</g>
<g id="mol">
<rect x="954" y="1357" width="956" height="10.5" fill="#fdf9f9"/><rect x="954" y="1376" width="956" height="8" fill="#fdf9f9"/><rect x="954" y="1872" width="956" height="9" fill="#fdf9f9"/>
<rect x="1258" y="1137" width="20" height="974" fill="#fdf9f9"/><rect x="1583.5" y="1137" width="19.5" height="974" fill="#fdf9f9"/>
<clipPath id="clg1"><rect x="954.8" y="1137" width="303.2" height="220.4"/></clipPath><rect x="954.8" y="1137" width="303.2" height="220.4" fill="#969696"/><g clip-path="url(#clg1)" fill="none" stroke-width="3.9" stroke-linecap="round" stroke-linejoin="round"><defs><path id="clg1c" d="M972.4 1209.9L1006.2 1190L1032.4 1170L1056.1 1153.7M1056.1 1153.7L1060.5 1148.1M1056.1 1153.7L1060.5 1155.3M1032.4 1170L1009.9 1177.5L994.9 1193.7L1004.9 1199.9L1019.9 1187.5L1032.4 1170M1027.4 1165L1030.5 1161.5M1006.2 1177.5L999.3 1173.7M1009.9 1177.5L1016.8 1177.2M1004.9 1199.9L1000.5 1203.1M972.4 1209.9L969.3 1208.9M972.4 1209.9L968.7 1215.6M1007.4 1241.2L1027.4 1241.2L1038.6 1262.4L1027.4 1281.2L1007.4 1281.2L996.2 1262.4L1007.4 1241.2M1038.6 1262.4L1059.9 1264.9M1059.9 1264.9L1064.9 1256.2M1059.9 1264.9L1064.3 1274.9M1027.4 1241.2L1029.9 1231.2M1007.4 1241.2L1004.3 1233.1M996.2 1262.4L976.2 1256.2M976.2 1256.2L972.4 1246.2M976.2 1256.2L972.4 1264.9M979.9 1257.4L987.4 1259.3M1007.4 1281.2L1004.9 1292.4M1004.9 1292.4L1004.3 1296.1M1027.4 1281.2L1031.1 1289.3M971.2 1279.9L994.9 1292.4M971.2 1279.9L968.1 1284.3M994.9 1292.4L1003.7 1309.9L1022.4 1319.9L1033.6 1313.6L1024.9 1293.6M1003.7 1309.9L1000.5 1312.4M1033.6 1313.6L1053.6 1324.9M1053.6 1324.9L1058 1321.1M1053.6 1324.9L1058.6 1333.6M1022.4 1319.9L1022.6 1332.4M1097.4 1165.6L1099.9 1173.7M1099.9 1173.7L1104.9 1185M1108 1155L1116.1 1162.5M1116.1 1162.5L1123.6 1163.1M1116.1 1162.5L1116.1 1177.5M1102.4 1177.5L1116.1 1177.5L1131.1 1192.4L1133.6 1207.4L1118.6 1209.9L1104.9 1192.4L1102.4 1177.5M1116.1 1185L1123 1181.8M1102.4 1192.4L1096.1 1192.4M1131.1 1194.9L1138.6 1195.6M1118.6 1209.9L1134.8 1209.9M1134.8 1209.9L1145.5 1213.7M1118.6 1209.9L1118.6 1224.9M1118.6 1224.9L1126.7 1233.1M1111.1 1225.6L1118.6 1226.2M1129.8 1226.2L1136.7 1223.7M1096.1 1221.2L1112.4 1212.4L1128.6 1224.9L1129.8 1248.7L1112.4 1259.9L1096.1 1246.2L1096.1 1221.2M1096.1 1221.2L1089.2 1216.2M1129.8 1248.7L1136.1 1255.5M1112.4 1259.9L1111.1 1286.2M1111.1 1286.2L1103 1289.9M1111.1 1286.2L1119.2 1291.8M1117.4 1302.4L1137.3 1297.4M1109.9 1301.8L1117.4 1299.9M1117.4 1302.4L1099.9 1324.9L1114.9 1331.1L1134.8 1309.9L1137.3 1297.4M1114.9 1324.9L1122.3 1324.9M1099.9 1324.9L1097.4 1333.6M1097.4 1333.6L1097.4 1338.6M1114.9 1331.1L1106.7 1338.6M1097.4 1333.6L1092.1 1337.8M1203.6 1153.1L1207.3 1147.5M1207.3 1147.5L1227.3 1148.7M1227.3 1148.7L1231 1156.8M1198.6 1180.6L1202.3 1177.5M1202.3 1177.5L1222.3 1188.7L1231 1204.9M1231 1204.9L1209.8 1219.9M1209.8 1219.9L1205.4 1225.6M1194.8 1283.4L1202.3 1289.4M1202.3 1289.4L1222.3 1276.2M1222.3 1276.2L1226 1271.8M1202.9 1303.6L1208.6 1309.9M1208.6 1309.9L1229.8 1319.9M1229.8 1319.9L1232.3 1317.1M1226 1342.4L1223.5 1351.1L1203.6 1349.9L1199.8 1342.4M1199.8 1342.4L1197.9 1338M1007.4 1241.2L1027.4 1241.2L1038.6 1262.4"/></defs><use href="#clg1c" stroke="#2a8c92"/><use href="#clg1c" stroke="#45c1c7" stroke-width="2.3"/><defs><path id="clg1w" d="M1030.5 1161.5L1033.6 1158M989.3 1174.3L986.2 1178.7M1000.5 1203.1L996.2 1206.2M1026.1 1217.4L1019.9 1213.7M1004.3 1233.1L1001.2 1224.9M987.4 1259.3L994.9 1261.2M996.2 1301.1L988.7 1302.4M1031.1 1289.3L1034.9 1297.4M1000.5 1312.4L997.4 1314.9M1081.1 1151.2L1088.6 1154.5M1096.1 1192.4L1089.9 1192.4M1138.6 1195.6L1146.1 1196.2M1156.1 1226.2L1156.1 1234.9M1132.3 1213.7L1143.6 1221.2M1089.2 1216.2L1082.4 1211.2M1136.1 1255.5L1142.3 1262.4M1124.8 1281.2L1132.3 1284.9M1138.6 1294.9L1146.1 1288.7M1092.1 1337.8L1086.9 1341.9M1188.6 1175L1194.2 1166.8M1231 1156.8L1234.8 1165M1194.8 1183.7L1198.6 1180.6M1216.1 1201.2L1229.8 1204.9M1232.3 1211.2L1232.3 1219.9M1205.4 1225.6L1201.1 1231.2M1179.8 1288.7L1183.6 1283M1226 1271.8L1229.8 1267.4M1182.3 1304.4L1189.8 1300.9M1232.3 1317.1L1234.8 1314.4M1212.3 1324.4L1222.3 1328.6M1197.9 1338L1196.1 1333.6"/></defs><use href="#clg1w" stroke="#bcbcbc"/><use href="#clg1w" stroke="#fdfdfd" stroke-width="2.3"/><defs><path id="clg1r" d="M1060.5 1148.1L1064.9 1142.5M1060.5 1155.3L1064.9 1157M999.3 1173.7L992.4 1170M992.4 1170L989.3 1174.3M1016.8 1177.2L1023.6 1177M969.3 1208.9L966.2 1207.9M968.7 1215.6L964.9 1221.2M1064.9 1256.2L1069.9 1247.4M1064.3 1274.9L1068.6 1284.9M1029.9 1231.2L1032.4 1221.2M1032.4 1221.2L1026.1 1217.4M972.4 1246.2L968.7 1236.2M972.4 1264.9L968.7 1273.7M964.9 1262.4L969.9 1268.7M1004.3 1296.1L1003.7 1299.9M1003.7 1299.9L996.2 1301.1M968.1 1284.3L964.9 1288.7M1058 1321.1L1062.4 1317.4M1058.6 1333.6L1063.6 1342.4M1022.6 1332.4L1022.9 1344.9M1088.6 1154.5L1094.9 1157.5M1094.9 1157.5L1097.4 1165.6M1099.9 1147.5L1108 1155M1123.6 1163.1L1131.1 1163.7M1097.4 1176.2L1102.4 1177.5M1123 1181.8L1129.8 1178.7M1145.5 1213.7L1156.1 1217.4M1156.1 1217.4L1156.1 1226.2M1126.7 1233.1L1134.8 1241.2M1103.6 1224.9L1111.1 1225.6M1136.7 1223.7L1143.6 1221.2M1087.4 1247.9L1096.1 1246.2M1103 1289.9L1094.9 1293.6M1119.2 1291.8L1127.3 1297.4M1102.4 1303.6L1109.9 1301.8M1126.1 1283.7L1139.8 1289.9M1122.3 1324.9L1129.8 1324.9M1097.4 1338.6L1097.4 1343.6M1106.7 1338.6L1098.6 1346.1M1194.2 1166.8L1199.8 1158.7M1199.8 1158.7L1203.6 1153.1M1226 1197.4L1232.3 1211.2M1183.6 1283L1187.3 1277.4M1187.3 1277.4L1194.8 1283.4M1189.8 1300.9L1197.3 1297.4M1197.3 1297.4L1202.9 1303.6M1222.3 1328.6L1228.5 1331.1L1226 1342.4"/></defs><use href="#clg1r" stroke="#b00000"/><use href="#clg1r" stroke="#f80808" stroke-width="2.3"/><circle cx="1027.4" cy="1186.2" r="6.2" fill="url(#sH)" stroke="none"/><circle cx="1025.4" cy="1201.7" r="9.5" fill="url(#sO)" stroke="none"/><circle cx="1012.9" cy="1202.9" r="7" fill="url(#sH)" stroke="none"/><circle cx="1049.9" cy="1201.7" r="7.5" fill="url(#sH)" stroke="none"/><circle cx="1051.9" cy="1217.4" r="10.5" fill="url(#sO)" stroke="none"/><circle cx="1054.9" cy="1226.2" r="7.5" fill="url(#sH)" stroke="none"/><circle cx="1033.6" cy="1214.9" r="5.5" fill="url(#sH)" stroke="none"/><circle cx="991.2" cy="1226.9" r="7.5" fill="url(#sH)" stroke="none"/><circle cx="995.4" cy="1241.2" r="10.5" fill="url(#sO)" stroke="none"/><circle cx="1010.4" cy="1247.9" r="7" fill="url(#sH)" stroke="none"/><circle cx="983.7" cy="1249.9" r="6" fill="url(#sH)" stroke="none"/><circle cx="1015.4" cy="1260.4" r="10.5" fill="url(#sO)" stroke="none"/><circle cx="998.7" cy="1268.7" r="6" fill="url(#sH)" stroke="none"/><circle cx="1035.4" cy="1245.4" r="14.5" fill="url(#sK)" stroke="none" opacity="0.8"/></g>
<clipPath id="clg2"><rect x="1278.1" y="1137" width="305.5" height="220.4"/></clipPath><rect x="1278.1" y="1137" width="305.5" height="220.4" fill="#969696"/><g clip-path="url(#clg2)" fill="none" stroke-width="3.9" stroke-linecap="round" stroke-linejoin="round"><defs><path id="clg2c" d="M1298.7 1202.5L1321.1 1191.7L1329.2 1172.9L1352.5 1163L1382.9 1155.8M1352.5 1163L1362.3 1168.4L1350.7 1182.7L1331.8 1193.5L1321.1 1191.7M1382.9 1155.8L1387.4 1148.7M1382.9 1155.8L1388.3 1158.7M1352.5 1163L1355.6 1157.5M1329.2 1172.9L1323.8 1173.1M1350.7 1182.7L1354.2 1185.2M1331.8 1193.5L1327.4 1200.7M1298.7 1202.5L1294.4 1200.7M1298.7 1202.5L1294.9 1210.3M1327.4 1221.3L1345.3 1221.3L1355.1 1240.1L1345.3 1259.8L1327.4 1259.8L1316.6 1240.1L1327.4 1221.3M1316.6 1240.1L1296 1240.1M1296 1240.1L1292 1230.2M1296 1240.1L1292 1249.5M1355.1 1240.1L1376.6 1241.9M1376.6 1241.9L1381.1 1232M1376.6 1241.9L1380.2 1251.7M1345.3 1221.3L1347.5 1210.1M1327.4 1221.3L1324.8 1215.4M1345.3 1259.8L1348.7 1268.3M1327.4 1259.8L1327.4 1266.1M1318.4 1288.5L1329.2 1286.7L1350.7 1298.3L1356.9 1315.4L1345.3 1318.1L1326.5 1305.5L1318.4 1288.5M1318.4 1288.5L1296.9 1275.9M1296.9 1275.9L1292.2 1278.2M1296.9 1275.9L1292.4 1267.4M1356.9 1315.4L1377.5 1327.9M1377.5 1327.9L1382.7 1326.1M1377.5 1327.9L1382 1336M1345.3 1318.1L1345.3 1327.9M1350.7 1298.3L1354 1297.5M1326.5 1305.5L1322 1307M1421 1154.5L1423.3 1165.7M1432.7 1150.5L1440.3 1158.5M1440.3 1158.5L1448.8 1160.6M1440.3 1158.5L1439.4 1168.4M1423.3 1165.7L1439.4 1168.4L1455.5 1187.2L1456.4 1197.1L1438.5 1194.4L1420.6 1177.4L1423.3 1165.7M1420.6 1177.4L1415 1176M1455.5 1187.2L1462.4 1188.6M1438.5 1194.4L1439.4 1206L1444.8 1216.8M1456.4 1197.1L1458.2 1209.6M1458.2 1209.6L1459.6 1214.6M1425.9 1205.1L1431.3 1206.9M1431.3 1206.9L1439.4 1213.2L1457.3 1233.8M1457.3 1233.8L1469 1231.1M1449.2 1225.8L1447 1227.5M1425 1236.5L1424.1 1255.3L1438.5 1268.8L1437.6 1292.1M1424.1 1255.3L1416.5 1260.3M1438.5 1268.8L1444.8 1265.2M1437.6 1292.1L1452.8 1289.4L1452.8 1301.9L1436.7 1317.2L1417.9 1319L1417 1310.9L1437.6 1292.1M1427.7 1281.3L1442.1 1275.9M1452.8 1289.4L1459.3 1283.6M1452.8 1301.9L1462.2 1300.1M1417 1310.9L1409.4 1313.1M1417.9 1319L1411.9 1326.1M1436.7 1317.2L1437.6 1328.8M1437.6 1328.8L1445.2 1327.5M1437.6 1328.8L1428.6 1336.9M1527.2 1154.5L1531.7 1145.1M1531.7 1145.1L1551.4 1144.2M1551.4 1144.2L1555 1152.3M1528.6 1190.4L1532.6 1189M1532.6 1189L1550.5 1201.6M1550.5 1201.6L1559.5 1207.8M1522.7 1207.4L1526.3 1201.6M1526.3 1201.6L1548.7 1189.9M1548.7 1189.9L1550.8 1191.7M1514.7 1284.9L1518.3 1288.5M1518.3 1288.5L1544.2 1304.6M1544.2 1304.6L1548.5 1303.5M1525.9 1300.3L1530.8 1302.8M1530.8 1302.8L1550.5 1293M1550.5 1293L1554.1 1286.7M1521.4 1341.4L1524.5 1348.5M1524.5 1348.5L1543.3 1349.4M1543.3 1349.4L1546.9 1339.6"/></defs><use href="#clg2c" stroke="#2a8c92"/><use href="#clg2c" stroke="#45c1c7" stroke-width="2.3"/><defs><path id="clg2w" d="M1355.6 1157.5L1358.7 1151.9M1313.5 1175.8L1308.5 1178.3M1364.8 1183.9L1371.8 1180M1327.4 1200.7L1322.9 1207.8M1340.5 1192.1L1336.7 1189.9M1324.8 1215.4L1322.3 1209.6M1348.7 1268.3L1352.1 1276.8M1316.2 1283.6L1308.5 1284.9M1317.5 1262.1L1312.1 1259.8M1338.1 1340.5L1330.9 1343.2M1354 1297.5L1357.3 1296.6M1322 1307L1317.5 1308.6M1415 1176L1409.5 1174.7M1462.4 1188.6L1469.3 1189.9M1483.7 1231.6L1486.9 1234.7M1447 1227.5L1444.8 1229.3M1408.9 1265.2L1401.7 1272M1459.3 1283.6L1465.7 1277.7M1471.2 1303.3L1470.8 1308.2M1394.1 1311.3L1386.5 1307.3M1411.9 1326.1L1405.9 1333.3M1511.1 1165.7L1516.9 1164.8M1555 1152.3L1558.6 1160.3M1524.5 1191.7L1528.6 1190.4M1572 1217.7L1575.6 1221.3M1519.1 1213.2L1522.7 1207.4M1553 1185.9L1553.2 1178.3M1506.6 1267L1508.8 1274.1M1548.5 1303.5L1552.8 1302.5M1505.7 1301L1513.3 1299.4M1554.1 1286.7L1557.7 1280.4M1518.3 1334.2L1521.4 1341.4M1557.2 1332L1564 1334.2"/></defs><use href="#clg2w" stroke="#bcbcbc"/><use href="#clg2w" stroke="#fdfdfd" stroke-width="2.3"/><defs><path id="clg2r" d="M1387.4 1148.7L1391.9 1141.5M1388.3 1158.7L1393.7 1161.6M1323.8 1173.1L1318.4 1173.4M1318.4 1173.4L1313.5 1175.8M1354.2 1185.2L1357.8 1187.8M1357.8 1187.8L1364.8 1183.9M1294.4 1200.7L1290.1 1198.9M1294.9 1210.3L1291.2 1218.2M1292 1230.2L1287.9 1220.4M1292 1249.5L1287.9 1258.9M1381.1 1232L1385.6 1222.2M1380.2 1251.7L1383.8 1261.6M1347.5 1210.1L1349.8 1198.9M1349.8 1198.9L1344.4 1194.4M1344.4 1194.4L1340.5 1192.1M1327.4 1266.1L1327.4 1272.4M1327.4 1272.4L1323.8 1282.2M1323.8 1282.2L1316.2 1283.6M1322.9 1264.3L1317.5 1262.1M1292.2 1278.2L1287.6 1280.4M1292.4 1267.4L1287.9 1258.9M1382.7 1326.1L1387.9 1324.3M1382 1336L1386.5 1344.1M1345.3 1327.9L1345.3 1337.8M1345.3 1337.8L1338.1 1340.5M1418.8 1143.3L1421 1154.5M1425 1142.4L1432.7 1150.5M1448.8 1160.6L1457.3 1162.7M1459.6 1214.6L1460.9 1219.5M1460.9 1219.5L1453.7 1224L1444.8 1216.8M1420.6 1203.3L1425.9 1205.1M1469 1231.1L1480.6 1228.4M1480.6 1228.4L1483.7 1231.6M1416.5 1260.3L1408.9 1265.2M1444.8 1265.2L1451 1261.6M1462.2 1300.1L1471.6 1298.3M1471.6 1298.3L1471.2 1303.3M1409.4 1313.1L1401.7 1315.4M1401.7 1315.4L1394.1 1311.3M1445.2 1327.5L1452.8 1326.1M1428.6 1336.9L1419.7 1345M1442.1 1299.2L1452.8 1304.6M1516.9 1164.8L1522.7 1163.9M1522.7 1163.9L1527.2 1154.5M1559.5 1207.8L1568.4 1214.1M1568.4 1214.1L1572 1217.7M1550.8 1191.7L1552.8 1193.5M1552.8 1193.5L1553 1185.9M1508.8 1274.1L1511.1 1281.3M1511.1 1281.3L1514.7 1284.9M1513.3 1299.4L1520.9 1297.8M1520.9 1297.8L1525.9 1300.3M1546.9 1339.6L1550.5 1329.7M1550.5 1329.7L1557.2 1332"/></defs><use href="#clg2r" stroke="#b00000"/><use href="#clg2r" stroke="#f80808" stroke-width="2.3"/><circle cx="1419.7" cy="1211.4" r="7.5" fill="url(#sH)" stroke="none"/><circle cx="1417" cy="1234.7" r="6.8" fill="url(#sH)" stroke="none"/><circle cx="1427.7" cy="1224.9" r="10.4" fill="url(#sO)" stroke="none"/><circle cx="1496.2" cy="1215" r="7.2" fill="url(#sH)" stroke="none"/><circle cx="1500" cy="1228.4" r="10.4" fill="url(#sO)" stroke="none"/><circle cx="1510.2" cy="1222.5" r="7.5" fill="url(#sH)" stroke="none"/><circle cx="1413.4" cy="1274.1" r="7.2" fill="url(#sH)" stroke="none"/><circle cx="1426.8" cy="1275.6" r="9.9" fill="url(#sO)" stroke="none"/><circle cx="1422.4" cy="1283.1" r="5.4" fill="url(#sH)" stroke="none"/><circle cx="1509.3" cy="1278.6" r="6.8" fill="url(#sH)" stroke="none"/><circle cx="1496.2" cy="1268.8" r="9.9" fill="url(#sO)" stroke="none"/><circle cx="1502.1" cy="1253.5" r="7.2" fill="url(#sH)" stroke="none"/><circle cx="1460" cy="1252.3" r="14.7" fill="url(#sK)" stroke="none"/></g>
<clipPath id="clg3"><rect x="1602.6" y="1137" width="307.6" height="220.4"/></clipPath><rect x="1602.6" y="1137" width="307.6" height="220.4" fill="#969696"/><g clip-path="url(#clg3)" fill="none" stroke-width="3.9" stroke-linecap="round" stroke-linejoin="round"><defs><path id="clg3c" d="M1655.4 1173.8L1675.1 1163L1686.8 1166.6L1677.8 1182.7L1655.4 1192.6L1645.6 1190.8L1655.4 1173.8M1686.8 1166.6L1707.4 1155M1707.4 1155L1712.8 1147.8M1707.4 1155L1712.5 1157.6M1675.1 1163L1678.7 1155M1678.7 1155L1681 1151.8M1655.4 1173.8L1651.4 1172.7M1677.8 1182.7L1681 1184.3M1645.6 1190.8L1624.1 1201.6M1624.1 1201.6L1619.6 1199.3M1624.1 1201.6L1619.1 1210.1M1655.4 1192.6L1654.1 1198M1653.6 1219.5L1673.3 1220.4L1681.4 1241L1669.8 1259.8L1650.9 1258.9L1642.9 1238.3L1653.6 1219.5M1653.6 1219.5L1652.7 1211.4M1642.9 1238.3L1622.3 1237.4M1622.3 1237.4L1618.2 1228M1622.3 1237.4L1617.3 1247.3M1681.4 1241L1702.9 1241.9M1702.9 1241.9L1707.4 1232.2M1702.9 1241.9L1707.2 1252.2M1673.3 1220.4L1676.9 1212.8M1650.9 1258.9L1647.4 1267M1647.4 1267L1645.6 1270.6M1669.8 1259.8L1669.8 1271.5M1669.8 1271.5L1669.3 1275.5M1619.6 1275L1641.1 1288.5M1619.6 1275L1615.5 1276.8M1619.6 1275L1616 1266.1M1641.1 1288.5L1651.8 1285.8L1670.7 1297.5L1678.7 1314.5L1669.8 1317.2L1650 1306.4L1641.1 1288.5M1670.7 1297.5L1673.3 1297.6M1678.7 1314.5L1699.3 1327M1699.3 1327L1705.6 1325.2M1699.3 1327L1704.3 1335.1M1650 1306.4L1644.2 1312.2M1669.8 1317.2L1673.3 1323.9M1758.9 1150.5L1766.6 1158.5M1766.6 1158.5L1774.6 1161M1766.6 1158.5L1766.6 1171.1M1742.8 1159.9L1748.6 1166.6M1748.6 1166.6L1766.6 1171.1L1779.1 1183.6M1743.7 1171.1L1748.6 1179.2M1748.6 1166.6L1749.5 1179.2L1764.8 1193.5L1781.8 1187.2L1779.1 1183.6M1764.8 1193.5L1773.7 1189M1781.8 1187.2L1793.4 1195.3M1764.8 1193.5L1781.8 1199.8L1786.3 1206M1764.8 1193.5L1764.8 1219.5M1755.8 1205.6L1764.8 1207.8M1764.8 1207.8L1771.5 1215.4M1764.8 1219.5L1747.7 1231.1L1747.7 1255.3L1763 1267.9L1780 1256.2L1780 1231.1L1764.8 1219.5M1780 1231.1L1786.7 1227.1M1747.7 1255.3L1741 1260.1M1780 1256.2L1790.8 1260.7M1763 1267.9L1763 1293M1763 1277.7L1770.1 1271.9M1779.1 1286.7L1777.3 1292.1M1777.3 1292.1L1777.3 1301M1753.6 1282.2L1763 1280.4M1763 1293L1777.3 1292.1M1763 1293L1754.5 1298.3M1763 1293L1770.1 1299.2M1777.3 1301L1783.6 1300.6M1745.9 1303.7L1743.3 1320.8L1758.5 1319L1772.8 1304.6M1736.5 1310L1743.3 1308.2M1743.3 1320.8L1737.9 1331.5M1737.9 1331.5L1735.6 1336.9M1758.5 1319L1758.5 1328.8M1758.5 1328.8L1767.5 1327.9M1758.5 1328.8L1750.2 1336.6M1853 1152.3L1857.1 1144.2M1857.1 1144.2L1876.8 1146.9M1876.8 1146.9L1882.2 1157.2M1857.1 1191.7L1875 1190.8M1875 1190.8L1879 1192.6M1857.1 1191.7L1876.8 1203.3M1876.8 1203.3L1880.4 1210.5M1871 1287.1L1871.4 1293M1871.4 1293L1851.7 1305.5M1851.7 1305.5L1847.7 1304.2M1846.8 1286.7L1849.9 1293M1849.9 1293L1868.7 1305.5M1868.7 1305.5L1874.1 1302.8M1847.7 1339.8L1849 1350.3M1849 1350.3L1870.5 1351.2M1870.5 1351.2L1874.4 1343.6"/></defs><use href="#clg3c" stroke="#2a8c92"/><use href="#clg3c" stroke="#45c1c7" stroke-width="2.3"/><defs><path id="clg3w" d="M1676 1146L1668.9 1143.3M1651.4 1172.7L1647.4 1171.6M1681 1184.3L1684.1 1186M1643.8 1198.7L1636.6 1198.5M1642.9 1215.4L1633.9 1218.6M1676.9 1212.8L1680.5 1205.1M1645.6 1270.6L1643.8 1274.1M1647.4 1267L1649.2 1279.5M1661.7 1281.8L1654.5 1284M1635.7 1314L1633 1310M1673.3 1323.9L1676.9 1330.6M1737 1153.2L1742.8 1159.9M1723.5 1169.3L1732.5 1166.2M1792.5 1204.2L1790.8 1211.4M1786.3 1206L1792.5 1212.3M1786.7 1227.1L1793.4 1223.1M1741 1260.1L1734.3 1264.8M1802.6 1269.7L1803.7 1274.1M1783.6 1300.6L1789.9 1300.1M1729.8 1311.8L1736.5 1310M1727.6 1343L1721.7 1343.7M1849 1160.3L1853 1152.3M1892.9 1167.5L1898.3 1167.5M1879 1192.6L1883.1 1194.4M1880.4 1210.5L1884 1217.7M1869.6 1260.7L1870.1 1271M1847.7 1304.2L1843.6 1302.8M1843.6 1280.4L1846.8 1286.7M1884 1297.5L1888.4 1294.8M1830.2 1328.8L1838.3 1329.1M1874.4 1343.6L1878.2 1336"/></defs><use href="#clg3w" stroke="#bcbcbc"/><use href="#clg3w" stroke="#fdfdfd" stroke-width="2.3"/><defs><path id="clg3r" d="M1712.8 1147.8L1718.2 1140.6M1712.5 1157.6L1717.6 1160.3M1681 1151.8L1683.2 1148.7M1683.2 1148.7L1676 1146M1619.6 1199.3L1615.1 1197.1M1619.1 1210.1L1614.2 1218.6M1654.1 1198L1652.7 1203.3M1652.7 1203.3L1650.9 1198.9M1650.9 1198.9L1643.8 1198.7M1652.7 1203.3L1651.8 1212.3M1651.8 1212.3L1642.9 1215.4M1618.2 1228L1614.2 1218.6M1617.3 1247.3L1612.4 1257.1M1707.4 1232.2L1711.9 1222.5M1707.2 1252.2L1711.5 1262.5M1669.3 1275.5L1668.9 1279.5M1668.9 1279.5L1661.7 1281.8M1615.5 1276.8L1611.5 1278.6M1616 1266.1L1612.4 1257.1M1673.3 1297.6L1676 1297.8M1705.6 1325.2L1711.9 1323.4M1704.3 1335.1L1709.2 1343.2M1644.2 1312.2L1638.4 1318.1M1638.4 1318.1L1635.7 1314M1751.3 1142.4L1758.9 1150.5M1774.6 1161L1782.7 1163.4M1732.5 1166.2L1738.8 1163M1738.8 1163L1743.7 1171.1M1749.5 1182.7L1758.5 1189M1773.7 1189L1782.7 1184.5M1793.4 1195.3L1796.1 1198.9L1792.5 1204.2M1746.8 1203.3L1755.8 1205.6M1771.5 1215.4L1778.2 1223.1M1745.9 1226.1L1747.7 1231.1M1790.8 1260.7L1801.5 1265.2M1801.5 1265.2L1802.6 1269.7M1770.1 1271.9L1777.3 1266.1M1777.3 1266.1L1784.5 1268.8L1780.9 1281.3M1780.9 1281.3L1779.1 1286.7M1744.1 1284L1753.6 1282.2M1754.5 1298.3L1745.9 1303.7M1770.1 1299.2L1777.3 1305.5M1735.6 1336.9L1733.4 1342.3M1733.4 1342.3L1727.6 1343M1767.5 1327.9L1776.4 1327M1750.2 1336.6L1742 1344.4M1882.2 1157.2L1887.5 1167.5M1887.5 1167.5L1892.9 1167.5M1870.1 1271L1870.5 1281.3M1870.5 1281.3L1871 1287.1M1874.1 1302.8L1879.5 1300.1M1879.5 1300.1L1884 1297.5M1838.3 1329.1L1846.3 1329.4M1846.3 1329.4L1847.7 1339.8"/></defs><use href="#clg3r" stroke="#b00000"/><use href="#clg3r" stroke="#f80808" stroke-width="2.3"/><circle cx="1813.2" cy="1185.4" r="7.2" fill="url(#sH)" stroke="none"/><circle cx="1818" cy="1190.8" r="10.8" fill="url(#sO)" stroke="none"/><circle cx="1804.2" cy="1190.8" r="8.1" fill="url(#sH)" stroke="none"/><circle cx="1842.7" cy="1184.5" r="7.5" fill="url(#sH)" stroke="none"/><circle cx="1852.6" cy="1196.2" r="10.4" fill="url(#sO)" stroke="none"/><circle cx="1849.9" cy="1208.7" r="6.3" fill="url(#sH)" stroke="none"/><circle cx="1840" cy="1221.8" r="14.7" fill="url(#sK)" stroke="none"/><circle cx="1886.3" cy="1227.5" r="10.4" fill="url(#sO)" stroke="none"/><circle cx="1891.1" cy="1215.4" r="7.5" fill="url(#sH)" stroke="none"/><circle cx="1889" cy="1241.9" r="7.5" fill="url(#sH)" stroke="none"/><circle cx="1789" cy="1242.4" r="7.5" fill="url(#sH)" stroke="none"/><circle cx="1805.1" cy="1246.4" r="10.4" fill="url(#sO)" stroke="none"/><circle cx="1802.4" cy="1256.2" r="5.4" fill="url(#sH)" stroke="none"/><circle cx="1841.8" cy="1250" r="11.1" fill="url(#sO)" stroke="none"/><circle cx="1846.3" cy="1243.7" r="8.1" fill="url(#sH)" stroke="none"/><circle cx="1825.7" cy="1256.2" r="8.1" fill="url(#sH)" stroke="none"/><circle cx="1841.8" cy="1261.6" r="7.2" fill="url(#sH)" stroke="none"/></g>
<clipPath id="clh1"><rect x="954.8" y="1383.1" width="303.2" height="222.6"/></clipPath><rect x="954.8" y="1383.1" width="303.2" height="222.6" fill="#969696"/><g clip-path="url(#clh1)" fill="none" stroke-width="3.9" stroke-linecap="round" stroke-linejoin="round"><defs><path id="clh1c" d="M986.7 1403.4L993.4 1399.6M993.4 1399.6L990.7 1393.7M993.4 1399.6L999.2 1394.5M993.4 1399.6L997.9 1404.1M1011.8 1418.4L1021.2 1428.3M1021.2 1428.3L1042.7 1415.7L1049.9 1422L1040 1437.2L1019.4 1448L1010.4 1443.5L1021.2 1428.3M1042.7 1415.7L1045.6 1410.3M1049.9 1422L1072.3 1405.8M1072.3 1405.8L1075.8 1399.6M1072.3 1405.8L1075.8 1409.4M1040 1437.2L1045.4 1442M1010.4 1443.5L988.9 1456M988.9 1456L984.9 1453.8M988.9 1456L985.3 1463.2M1019.4 1448L1016.7 1453.8M1020.3 1472.5L1040 1472.5L1049.9 1492.2L1040 1511.6L1020.3 1511.6L1010.4 1492.2L1020.3 1472.5M1049.9 1492.2L1070.5 1492.2M1070.5 1492.2L1075 1482.7M1070.5 1492.2L1074.5 1501.9M1040 1472.5L1042.2 1462M1020.3 1472.5L1017.1 1466.1M1010.4 1492.2L988.9 1492.2M988.9 1492.2L985.3 1481.3M988.9 1492.2L984.9 1502.4M1040 1511.6L1044 1519.2M1020.3 1511.6L1018.5 1522.4M1018.5 1522.4L1017.6 1528.6M991.8 1513.1L997 1512.5M997 1512.5L1005.9 1512.5M1005.9 1512.5L1012.2 1513.4M1005.9 1512.5L1007.3 1517.4M1005.9 1512.5L1004.2 1502.6M987.1 1525.9L1008.6 1539.4L1018.5 1555.5L1038.2 1567.2L1049 1563.6M1019.4 1536.7L1041.8 1552.8L1049 1563.6M1008.6 1539.4L1019.4 1536.7M987.1 1525.9L983.8 1528.6M987.1 1525.9L984 1519.2M1049 1563.6L1068.7 1576.1M1068.7 1576.1L1073.2 1574.3M1068.7 1576.1L1073.2 1584.6M1038.2 1567.2L1044 1573.9M1018.5 1555.5L1014.9 1556.9M988.5 1546.8L994.3 1546.6M994.3 1546.6L999.7 1549.2M999.7 1549.2L1001.5 1556.9M999.7 1549.2L1008.6 1539.4M994.3 1546.6L994.7 1544.3M971.4 1590.9L975.5 1588.7M975.5 1588.7L985.3 1588.7M975.5 1588.7L971.4 1581.5M964.3 1467.2L962.9 1473.1M962.9 1473.1L961.1 1482.9L954 1485.6M961.1 1482.9L968.7 1488.3M1109.5 1405.8L1110.8 1416.6M1120.7 1400.9L1127.8 1408.5M1127.8 1408.5L1135.9 1410.8M1127.8 1408.5L1127.8 1420.2M1110.8 1416.6L1127.8 1420.2L1144 1436.3L1144 1448L1127.8 1444.4L1111.7 1428.3L1110.8 1416.6M1111.7 1428.3L1105.9 1427.8M1144 1437.2L1150.2 1438.7M1127.8 1444.4L1135.9 1439M1127.8 1444.4L1127.8 1469.5M1144 1448L1154.7 1452.5M1154.7 1452.5L1160.5 1454.2M1169.1 1466.8L1176.2 1472.2M1120.5 1455.6L1127.8 1457.8M1127.8 1457.8L1135.9 1465.4M1127.8 1469.5L1143.1 1481.1L1143.1 1505.3L1127.8 1517L1110.8 1504.4L1110.8 1481.1L1127.8 1469.5M1110.8 1481.1L1105 1476.5M1143.1 1481.1L1156.1 1477.5M1110.8 1504.4L1105.9 1508.7M1143.1 1505.3L1148.9 1510.4M1169.1 1474L1176.2 1472.2M1176.2 1472.2L1185.2 1469M1176.2 1472.2L1183.4 1475.3M1172.6 1477.5L1169.1 1484.7M1127.8 1517L1130.5 1525.9M1130.5 1513.4L1134.1 1509.4M1130.5 1520.6L1136.8 1517.4M1127.8 1523.3L1127.8 1542.1M1120.2 1531.1L1127.8 1529.5M1131.4 1522.4L1138.6 1527.3M1145.8 1532.2L1150.7 1528.6M1145.8 1532.2L1144 1551M1127.8 1542.1L1144 1536.7L1144 1551L1127.8 1564.5L1110.8 1569L1109.9 1556.4L1127.8 1542.1M1127.8 1542.1L1135 1547.5M1127.8 1564.5L1127.8 1577.9M1127.8 1577.9L1135.4 1575.7M1127.8 1577.9L1119.3 1585.1M1110.8 1569L1104.5 1575.1M1074.1 1569L1081.2 1566.3M1081.2 1566.3L1092 1568.1M1106.3 1563.1L1109.9 1556.4M1081.2 1566.3L1079.4 1558.7M1218.3 1393.3L1239 1392.4M1239 1392.4L1242.5 1400M1218.3 1393.3L1216.1 1403.2M1203.1 1418.4L1194.1 1422.9M1194.1 1422.9L1186.1 1418.7M1194.1 1422.9L1194 1431.8M1230 1429.2L1231.3 1421.1M1220.6 1432.5L1230 1431.8M1230 1431.8L1239 1439M1213.4 1438.1L1217.5 1437.2M1217.5 1437.2L1240.8 1453.3M1239 1439L1218.3 1450.7M1218.3 1450.7L1214.5 1456.8M1240.8 1453.3L1247.9 1459.6M1243.4 1472.2L1239 1482M1239 1482L1230 1482M1239 1482L1239.9 1487M1239 1482L1243.9 1485.6M1192.4 1527.7L1187 1515.2M1192.4 1527.7L1182.5 1527.6M1192.4 1527.7L1185.6 1531.8M1192.4 1527.7L1195 1534.9M1189.7 1518.8L1194.1 1513.8M1192.4 1527.7L1202.2 1525.5M1215.7 1531.3L1219.2 1538.5L1236.3 1549.2M1236.3 1549.2L1241.2 1548.3M1210.3 1543L1217.5 1551L1231.8 1543L1239 1536.7M1239 1536.7L1241.6 1532.2M1236.3 1549.2L1236.3 1564.5M1236.3 1564.5L1226.4 1564.5M1236.3 1564.5L1240.8 1570.8M1239.9 1584.2L1236.3 1595.8L1216.6 1596.2M1216.6 1596.2L1212.5 1588.7"/></defs><use href="#clh1c" stroke="#2a8c92"/><use href="#clh1c" stroke="#45c1c7" stroke-width="2.3"/><defs><path id="clh1w" d="M980 1407.3L986.7 1403.4M990.7 1393.7L988 1387.9M999.2 1394.5L1005 1389.4M1045.6 1410.3L1048.6 1405M1016.7 1453.8L1014 1459.6M1017.1 1466.1L1014 1459.6M1044 1519.2L1048.1 1526.8M986.6 1513.8L991.8 1513.1M1007.3 1517.4L1008.6 1522.4M1014.9 1556.9L1011.3 1558.2M982.6 1547.1L988.5 1546.8M1001.5 1556.9L1003.3 1564.5M994.7 1544.3L995.2 1542.1M985.3 1588.7L995.2 1588.7M971.4 1581.5L967.4 1574.3M968.7 1488.3L976.4 1493.7M1105.9 1427.8L1100 1427.4M1150.2 1438.7L1156.5 1440.3M1169.1 1456.9L1175.3 1468.6M1105 1476.5L1099.1 1471.8M1148.9 1510.4L1154.7 1515.5M1185.2 1469L1194.1 1465.9M1183.4 1475.3L1190.6 1478.4M1169.1 1484.7L1165.8 1489.7M1178 1479.3L1178 1484.7M1134.1 1509.4L1137.7 1505.3M1119.8 1518.8L1129.6 1518.8M1150.7 1528.6L1155.6 1525M1104.5 1575.1L1098.3 1581.1M1067.8 1572.5L1074.1 1569M1079.4 1558.7L1077.6 1551M1242.5 1400L1246.1 1407.6M1186.1 1418.7L1178 1414.5M1194 1431.8L1193.8 1440.8M1231.3 1421.1L1232.7 1413M1211.2 1433.1L1220.6 1432.5M1209.4 1439L1213.4 1438.1M1214.5 1456.8L1210.6 1462.8M1230 1482L1221 1482M1239.9 1487L1240.8 1491.9M1243.9 1485.6L1248.8 1489.2M1187 1515.2L1185.2 1509.8M1182.5 1527.6L1172.6 1527.4M1185.6 1531.8L1178.9 1535.8M1195 1534.9L1197.7 1542.1M1194.1 1513.8L1198.6 1508.9M1241.2 1548.3L1246.1 1547.5M1241.6 1532.2L1244.3 1527.7M1226.4 1564.5L1216.6 1564.5M1212.5 1588.7L1208.5 1581.1"/></defs><use href="#clh1w" stroke="#bcbcbc"/><use href="#clh1w" stroke="#fdfdfd" stroke-width="2.3"/><defs><path id="clh1r" d="M997.9 1404.1L1002.4 1408.5M1002.4 1408.5L1011.8 1418.4M1075.8 1399.6L1079.4 1393.3M1075.8 1409.4L1079.4 1413M1045.4 1442L1050.8 1446.7M984.9 1453.8L980.8 1451.6M985.3 1463.2L981.7 1470.4M1075 1482.7L1079.4 1473.1M1074.5 1501.9L1078.5 1511.6M1042.2 1462L1044.5 1451.6M985.3 1481.3L981.7 1470.4M984.9 1502.4L980.8 1512.5M1017.6 1528.6L1016.7 1534.9M1016.7 1534.9L1008.6 1539.4M1012.2 1513.4L1018.5 1514.3M983.8 1528.6L980.5 1531.3M984 1519.2L980.8 1512.5M1073.2 1574.3L1077.6 1572.5M1073.2 1584.6L1077.6 1593.2M1044 1573.9L1049.9 1580.6M967.4 1593.2L971.4 1590.9M965.6 1461.4L964.3 1467.2M1108.1 1395.1L1109.5 1405.8M1113.5 1393.3L1120.7 1400.9M1135.9 1410.8L1144 1413M1111.7 1433.6L1118.9 1439M1135.9 1439L1144 1433.6M1160.5 1454.2L1166.4 1456M1166.4 1456L1169.1 1466.8M1113.1 1453.3L1120.5 1455.6M1135.9 1465.4L1144 1473.1M1156.1 1477.5L1169.1 1474M1105.9 1508.7L1100.9 1513M1136.8 1517.4L1143.1 1514.3M1112.6 1532.8L1120.2 1531.1M1138.6 1527.3L1145.8 1532.2M1149.3 1534.9L1146.6 1542.1M1135 1547.5L1142.2 1552.8M1110.8 1552.8L1117.1 1547.5M1135.4 1575.7L1143.1 1573.4M1119.3 1585.1L1110.8 1592.3M1092 1568.1L1102.7 1569.9M1102.7 1569.9L1106.3 1563.1M1074.1 1574.3L1078.5 1572.5M1216.1 1403.2L1213.9 1413M1213.9 1413L1203.1 1418.4M1235.4 1436.3L1243.4 1441.7M1247.9 1459.6L1243.4 1472.2M1202.2 1525.5L1212.1 1523.3M1212.1 1523.3L1215.7 1531.3M1195.9 1529.5L1210.3 1543M1240.8 1570.8L1239.9 1584.2"/></defs><use href="#clh1r" stroke="#b00000"/><use href="#clh1r" stroke="#f80808" stroke-width="2.3"/><circle cx="1064.7" cy="1459.6" r="8.1" fill="url(#sH)" stroke="none"/><circle cx="1061.9" cy="1473.1" r="10.4" fill="url(#sO)" stroke="none"/><circle cx="1047.2" cy="1471.3" r="6.8" fill="url(#sH)" stroke="none"/><circle cx="1022.1" cy="1494.6" r="10.4" fill="url(#sO)" stroke="none"/><circle cx="1007.7" cy="1493.7" r="7.2" fill="url(#sH)" stroke="none"/><circle cx="1060.6" cy="1509.5" r="14.7" fill="url(#sK)" stroke="none"/><circle cx="1042.3" cy="1541.2" r="7.5" fill="url(#sH)" stroke="none"/><circle cx="1053.4" cy="1541.2" r="10.4" fill="url(#sO)" stroke="none"/><circle cx="1050.8" cy="1555.5" r="7.5" fill="url(#sH)" stroke="none"/><circle cx="1084.8" cy="1544.8" r="10.4" fill="url(#sO)" stroke="none"/><circle cx="1076.7" cy="1554.6" r="8.1" fill="url(#sH)" stroke="none"/><circle cx="1091.1" cy="1553.7" r="7.2" fill="url(#sH)" stroke="none"/><defs><path id="clh1ct" d="M1020.3 1472.5L1040 1472.5L1049.9 1492.2M1010.4 1492.2L1020.3 1472.5"/></defs><use href="#clh1ct" stroke="#2a8c92"/><use href="#clh1ct" stroke="#45c1c7" stroke-width="2.3"/></g>
<clipPath id="clh2"><rect x="1278.1" y="1383.1" width="305.5" height="222.6"/></clipPath><rect x="1278.1" y="1383.1" width="305.5" height="222.6" fill="#969696"/><g clip-path="url(#clh2)" fill="none" stroke-width="3.9" stroke-linecap="round" stroke-linejoin="round"><defs><path id="clh2c" d="M1339 1427.4L1359.6 1417.5L1367.7 1424.7L1356 1441.7L1336.3 1451.6L1328.3 1446.2L1339 1427.4M1359.6 1417.5L1363.2 1411.7M1367.7 1424.7L1387.4 1413.9M1387.4 1413.9L1391.4 1405.8M1387.4 1413.9L1391.4 1417.5M1356 1441.7L1360.1 1447.1M1328.3 1446.2L1306.7 1457.8M1306.7 1457.8L1303.2 1454.2M1306.7 1457.8L1303.2 1465.9M1336.3 1451.6L1332.7 1459.2M1341.7 1462.3L1359.6 1460.5L1370.4 1478.4L1359.6 1499.1L1340.8 1501.7L1330.9 1482.9L1341.7 1462.3M1341.7 1462.3L1333.6 1448.9M1359.6 1460.5L1363.2 1451.6M1370.4 1478.4L1391.9 1476.6M1391.9 1476.6L1396.4 1467.2M1391.9 1476.6L1396.4 1486.1M1330.9 1482.9L1308.5 1484.7M1308.5 1484.7L1305 1475.8M1308.5 1484.7L1305 1494.6M1359.6 1499.1L1364.1 1506.2M1340.8 1501.7L1339 1513.4M1339 1513.4L1337.7 1518.8M1304.1 1524.1L1314.8 1531.3M1309 1516.5L1313 1522.4M1313 1522.4L1322 1525M1306.7 1528.2L1314.8 1526.8M1314.8 1531.3L1331.8 1525M1314.8 1531.3L1329.2 1542.1M1320.2 1542.1L1322.4 1547.5M1329.2 1542.1L1337.2 1541.2L1359.6 1554.6L1364.1 1569L1355.1 1568.1L1335.4 1555.5L1329.2 1542.1M1359.6 1554.6L1361.4 1554.2M1355.1 1568.1L1361 1573.4M1364.1 1569L1386.5 1582.4M1386.5 1582.4L1390.1 1581.5M1386.5 1582.4L1390.5 1589.1M1393.2 1392.9L1398.2 1387M1398.2 1387L1411.6 1388.8M1425.9 1397.8L1428.6 1405M1428.6 1405L1432.2 1413.9M1391.9 1408.5L1394.1 1403.2M1436.2 1400L1442.1 1405.8M1442.1 1405.8L1446.6 1408.5M1446.6 1408.5L1454.6 1411.7M1446.6 1408.5L1446.6 1418.4M1432.2 1413.9L1446.6 1418.4L1464.5 1433.6L1463.6 1443.5L1449.2 1439L1430.4 1422L1432.2 1413.9M1430.4 1422L1425.5 1419.7M1464.5 1436.3L1469.9 1437.7M1442.1 1442.4L1449.2 1445.3M1434.9 1447.1L1442.1 1449.8M1449.2 1439L1454.2 1440.8M1449.2 1445.3L1457.8 1452.9M1446.6 1532.2L1462.7 1531.3L1462.7 1543.9L1446.6 1561.8L1430.4 1563.6L1429.5 1551L1446.6 1532.2M1442.1 1525.9L1443 1551M1443 1551L1450.1 1555.5M1429.5 1551L1426.8 1552.8M1446.6 1561.8L1447.5 1577M1447.5 1577L1454.4 1576.1M1447.5 1577L1438.5 1584.6M1430.4 1563.6L1424.1 1569.9M1394.1 1558.5L1400 1553.7M1400 1553.7L1400 1544.3M1400 1553.7L1412.5 1556.4M1287.9 1406.6L1295.1 1405.8M1295.1 1405.8L1305.8 1406.7L1316.6 1400.5M1316.6 1400.5L1314.8 1394.6M1295.1 1405.8L1292.9 1410.8M1305.8 1406.7L1308.7 1409.9M1316.6 1400.5L1320.2 1405.4M1331.4 1418.8L1339 1427.4M1280.8 1577.9L1287.5 1575.2M1280.8 1577.9L1282.1 1582.9M1442.1 1449.8L1444.8 1457.8M1463.6 1443.5L1475.2 1444.4M1493.2 1437.7L1499.4 1429.2M1499.4 1429.2L1519.1 1428.3M1519.1 1428.3L1527.2 1422.9M1536.2 1406.3L1537.1 1395.1M1537.1 1395.1L1557.7 1391.5M1557.7 1391.5L1561.7 1398.7M1499.4 1429.2L1498.5 1421.1M1519.1 1428.3L1519.1 1436.8M1488.7 1465.9L1493.2 1473.1M1493.2 1473.1L1500.8 1468.3M1493.2 1473.1L1489.6 1477.5M1494.1 1474L1495.1 1478M1420.6 1486.5L1426.8 1490.1M1426.8 1490.1L1426.8 1513.4M1426.8 1513.4L1443.9 1517.9M1426.8 1513.4L1421.9 1517.9M1404.4 1528.6L1393.7 1532.2M1393.7 1532.2L1388.7 1528.2M1393.7 1532.2L1394.6 1540.7M1443.9 1517.9L1460 1512.5M1460 1495.5L1460 1512.5M1460 1512.5L1468.1 1515.6M1443.9 1517.9L1447.5 1525.9L1446.6 1532.2M1464.5 1529.5L1470.3 1523.7M1561.3 1427.4L1541.6 1437.2M1541.6 1437.2L1533.5 1449.8M1533.5 1449.8L1529.9 1449.1M1561.3 1427.4L1564.9 1433.2M1571.6 1443L1574.7 1447.1M1574.7 1447.1L1583.3 1447.1M1574.7 1447.1L1573.6 1455.6M1533.5 1449.8L1553.2 1461.4M1553.2 1461.4L1555.9 1467.2M1556.8 1482.9L1553.2 1494.6M1553.2 1494.6L1543.3 1494.6M1553.2 1494.6L1557.7 1499.1M1553.2 1494.6L1553.7 1499.5M1534.4 1523.7L1540.7 1524.1M1540.7 1524.1L1562.2 1537.6M1562.2 1537.6L1564.9 1537.6M1522.7 1527.7L1517.4 1532.2M1517.4 1532.2L1509.3 1539.4M1490.9 1537L1495.8 1535.8M1495.8 1535.8L1509.3 1539.4M1504.8 1531.3L1499.4 1534.9M1503 1530.4L1506.6 1538.5M1509.3 1539.4L1510.2 1546.6M1510.2 1546.6L1512.4 1551.5M1524.5 1552.8L1530.8 1559.6M1530.8 1559.6L1548.7 1552.8M1548.7 1552.8L1553.7 1546.6M1539.8 1562.2L1548.7 1562.7M1548.7 1562.7L1556.8 1569M1558.6 1583.3L1555 1593.7L1535.3 1596.2M1535.3 1596.2L1531.2 1588.9M1548.7 1552.8L1548.7 1562.7"/></defs><use href="#clh2c" stroke="#2a8c92"/><use href="#clh2c" stroke="#45c1c7" stroke-width="2.3"/><defs><path id="clh2w" d="M1363.2 1411.7L1366.8 1405.8M1332.7 1459.2L1329.2 1466.8M1333.6 1448.9L1337.2 1453.3M1364.1 1506.2L1368.6 1513.4M1305 1510.7L1309 1516.5M1303.2 1537.6L1314.8 1532.2M1322.4 1547.5L1324.7 1552.8M1330.9 1555.5L1335.4 1555.5M1361.4 1554.2L1363.2 1553.7M1388.3 1398.7L1393.2 1392.9M1425.5 1419.7L1420.6 1417.5M1469.9 1437.7L1475.2 1439M1424.1 1569.9L1417.9 1576.1M1388.3 1563.2L1394.1 1558.5M1400 1544.3L1400 1534.9M1280.8 1407.3L1287.9 1406.6M1314.8 1394.6L1313 1388.8M1318.4 1393.3L1319.3 1396.9M1308.7 1409.9L1311.6 1413M1287.5 1575.2L1294.2 1572.5M1561.7 1398.7L1565.8 1405.8M1498.5 1421.1L1497.6 1413M1501.2 1427.4L1519.1 1431.8M1519.1 1436.8L1519.1 1445.3M1516.5 1422L1517 1425.6M1484.2 1458.7L1488.7 1465.9M1500.8 1468.3L1508.4 1463.6M1495.1 1478L1496.2 1482M1414.3 1482.9L1420.6 1486.5M1388.7 1528.2L1383.8 1524.1M1394.6 1540.7L1395.5 1549.2M1400 1534.9L1400.5 1543M1468.1 1515.6L1476.1 1518.8M1434.9 1520.6L1446.6 1524.1M1470.3 1523.7L1476.1 1517.9M1529.9 1449.1L1526.3 1448.5M1573.6 1455.6L1572.6 1464.1M1543.3 1494.6L1533.5 1494.6M1557.7 1499.1L1562.2 1503.5M1553.7 1499.5L1554.1 1504.4M1564.9 1537.6L1567.5 1537.6M1486 1538.1L1490.9 1537M1499.4 1534.9L1494.1 1538.5M1512.4 1551.5L1514.7 1556.4M1553.7 1546.6L1558.6 1540.3M1530.8 1561.8L1539.8 1562.2M1531.2 1588.9L1527.2 1581.5"/></defs><use href="#clh2w" stroke="#bcbcbc"/><use href="#clh2w" stroke="#fdfdfd" stroke-width="2.3"/><defs><path id="clh2r" d="M1391.4 1405.8L1395.5 1397.8M1391.4 1417.5L1395.5 1421.1M1360.1 1447.1L1364.1 1452.5M1364.1 1452.5L1367.7 1438.1M1303.2 1454.2L1299.6 1450.7M1303.2 1465.9L1299.6 1474M1396.4 1467.2L1400.8 1457.8M1396.4 1486.1L1400.8 1495.5M1305 1475.8L1301.4 1466.8M1305 1494.6L1301.4 1504.4M1337.7 1518.8L1336.3 1524.1M1336.3 1524.1L1323.8 1525M1297.8 1515.2L1304.1 1524.1M1298.7 1529.5L1306.7 1528.2M1361 1573.4L1366.8 1578.8M1390.1 1581.5L1393.7 1580.6M1390.5 1589.1L1394.6 1595.8M1411.6 1388.8L1423.3 1390.6M1423.3 1390.6L1425.9 1397.8M1394.1 1403.2L1396.4 1397.8M1430.4 1394.2L1436.2 1400M1454.6 1411.7L1462.7 1414.8M1434.9 1439.5L1442.1 1442.4M1427.7 1444.4L1434.9 1447.1M1454.2 1440.8L1459.1 1442.6M1457.8 1452.9L1466.3 1460.5M1465.4 1532.2L1465.4 1537.6M1456.4 1527.7L1460 1529.2M1454.6 1557.3L1459.6 1560M1426.8 1552.8L1424.1 1554.6M1427.7 1560L1431.3 1562.7M1454.4 1576.1L1461.4 1575.2M1438.5 1584.6L1429.5 1592.3M1412.5 1556.4L1422.4 1558.2M1422.4 1558.2L1426.8 1552.8M1292.9 1410.8L1290.6 1415.7M1320.2 1405.4L1323.8 1410.3M1323.8 1410.3L1331.4 1418.8M1282.1 1582.9L1283.4 1587.8M1475.2 1444.4L1486.9 1446.2M1486.9 1446.2L1493.2 1437.7M1527.2 1422.9L1535.3 1417.5M1535.3 1417.5L1536.2 1406.3M1489.6 1477.5L1485.1 1481.1M1421.9 1517.9L1417 1522.4M1417 1522.4L1404.4 1528.6M1432.2 1517.9L1442.1 1517.9M1456.4 1508.9L1465.4 1501.7M1564.9 1433.2L1568.4 1439M1568.4 1439L1571.6 1443M1555.9 1467.2L1558.6 1473.1M1558.6 1473.1L1556.8 1482.9M1528.1 1523.3L1534.4 1523.7M1528.1 1523.3L1522.7 1527.7M1511.1 1540.3L1524.5 1552.8M1556.8 1569L1561.3 1572.5M1561.3 1572.5L1558.6 1583.3"/></defs><use href="#clh2r" stroke="#b00000"/><use href="#clh2r" stroke="#f80808" stroke-width="2.3"/><circle cx="1437.6" cy="1464.1" r="8.1" fill="url(#sH)" stroke="none"/><circle cx="1445.3" cy="1472.7" r="10.4" fill="url(#sO)" stroke="none"/><circle cx="1433.1" cy="1480.8" r="7.2" fill="url(#sH)" stroke="none"/><circle cx="1471.6" cy="1487.9" r="14.7" fill="url(#sK)" stroke="none"/><circle cx="1504.8" cy="1508.9" r="10.4" fill="url(#sO)" stroke="none"/><circle cx="1520" cy="1513" r="7.5" fill="url(#sH)" stroke="none"/><circle cx="1499.4" cy="1523.3" r="7.5" fill="url(#sH)" stroke="none"/></g>
<clipPath id="clh3"><rect x="1602.6" y="1383.1" width="307.6" height="222.6"/></clipPath><rect x="1602.6" y="1383.1" width="307.6" height="222.6" fill="#969696"/><g clip-path="url(#clh3)" fill="none" stroke-width="3.9" stroke-linecap="round" stroke-linejoin="round"><defs><path id="clh3c" d="M1667.1 1427.4L1687.7 1417.5L1695.8 1424.7L1684.1 1441.7L1664.4 1451.6L1656.3 1446.2L1667.1 1427.4M1687.7 1417.5L1691.3 1411.7M1695.8 1424.7L1715.5 1413.9M1715.5 1413.9L1719.5 1405.8M1715.5 1413.9L1719.5 1417.5M1684.1 1441.7L1688.1 1447.1M1656.3 1446.2L1634.8 1457.8M1634.8 1457.8L1631.2 1454.2M1634.8 1457.8L1631.2 1465.9M1664.4 1451.6L1660.8 1459.2M1669.8 1462.3L1687.7 1460.5L1698.4 1478.4L1687.7 1499.1L1668.9 1501.7L1659 1482.9L1669.8 1462.3M1669.8 1462.3L1661.7 1448.9M1687.7 1460.5L1691.3 1451.6M1698.4 1478.4L1720 1476.6M1720 1476.6L1724.4 1467.2M1720 1476.6L1724.4 1486.1M1659 1482.9L1636.6 1484.7M1636.6 1484.7L1633 1475.8M1636.6 1484.7L1633 1494.6M1687.7 1499.1L1692.2 1506.2M1668.9 1501.7L1667.1 1513.4M1667.1 1513.4L1665.7 1518.8M1632.1 1524.1L1642.9 1531.3M1637.1 1516.5L1641.1 1522.4M1641.1 1522.4L1650 1525M1634.8 1528.2L1642.9 1526.8M1642.9 1531.3L1659.9 1525M1642.9 1531.3L1657.2 1542.1M1648.3 1542.1L1650.5 1547.5M1657.2 1542.1L1665.3 1541.2L1687.7 1554.6L1692.2 1569L1683.2 1568.1L1663.5 1555.5L1657.2 1542.1M1687.7 1554.6L1689.5 1554.2M1683.2 1568.1L1689 1573.4M1692.2 1569L1714.6 1582.4M1714.6 1582.4L1718.2 1581.5M1714.6 1582.4L1718.6 1589.1M1721.3 1392.9L1726.2 1387M1726.2 1387L1739.7 1388.8M1754 1397.8L1756.7 1405M1756.7 1405L1760.3 1413.9M1720 1408.5L1722.2 1403.2M1764.3 1400L1770.1 1405.8M1770.1 1405.8L1774.6 1408.5M1774.6 1408.5L1782.7 1411.7M1774.6 1408.5L1774.6 1418.4M1760.3 1413.9L1774.6 1418.4L1792.5 1433.6L1791.6 1443.5L1777.3 1439L1758.5 1422L1760.3 1413.9M1758.5 1422L1753.6 1419.7M1792.5 1436.3L1797.9 1437.7M1770.1 1442.4L1777.3 1445.3M1763 1447.1L1770.1 1449.8M1777.3 1439L1782.2 1440.8M1777.3 1445.3L1785.8 1452.9M1774.6 1532.2L1790.8 1531.3L1790.8 1543.9L1774.6 1561.8L1758.5 1563.6L1757.6 1551L1774.6 1532.2M1770.1 1525.9L1771 1551M1771 1551L1778.2 1555.5M1757.6 1551L1754.9 1552.8M1774.6 1561.8L1775.5 1577M1775.5 1577L1782.5 1576.1M1775.5 1577L1766.6 1584.6M1758.5 1563.6L1752.2 1569.9M1722.2 1558.5L1728 1553.7M1728 1553.7L1728 1544.3M1728 1553.7L1740.6 1556.4M1612 1401.8L1618.7 1400.5M1618.7 1400.5L1628.5 1402.3L1638.4 1403.2M1638.4 1403.2L1635.3 1395.1M1618.7 1400.5L1618.7 1406.7M1634.8 1405L1628.5 1409.7M1638.4 1403.2L1645.1 1408.1M1659.5 1420.6L1667.1 1428.3M1610.2 1476.6L1610.6 1482.9M1610.6 1482.9L1611.5 1493.7M1611.5 1493.7L1618.2 1497.7M1611.5 1493.7L1602.5 1498.2M1605.7 1567.2L1608.8 1570.8M1608.8 1570.8L1613.3 1577M1613.3 1577L1622.3 1573.9M1613.3 1577L1613.3 1582M1771 1452.5L1771.9 1470.4M1793.4 1445.3L1797 1456M1792.5 1472.2L1783.6 1480.2M1776 1476.6L1783.6 1480.2M1783.6 1480.2L1787.2 1488.3M1787.2 1488.3L1789 1491M1787.2 1488.3L1799.7 1485.6M1813.2 1479.3L1818.5 1472.2M1818.5 1472.2L1811.4 1465.9M1818.5 1472.2L1822.6 1469M1818.5 1472.2L1819.9 1477.5M1771 1477.5L1787.2 1488.3L1787.2 1506.2L1774.6 1518.8L1754 1513.4L1754 1490.1L1771 1477.5M1754 1490.1L1748.2 1486.7M1754 1513.4L1750 1519.2M1787.2 1511.6L1792.5 1515.2M1794.3 1525.9L1798.8 1521.9M1774.6 1518.8L1776.4 1532.2M1865.1 1395.1L1885.8 1392.4M1885.8 1392.4L1889.3 1399.6M1865.1 1395.1L1863.3 1403.6M1857.5 1415.7L1853.5 1419.3M1853.5 1419.3L1844.5 1423.8M1844.5 1423.8L1840.9 1418.8M1844.5 1423.8L1838.3 1428.3M1844.5 1423.8L1847.7 1431.4M1879.5 1427.4L1887.5 1427.4M1887.5 1427.4L1893.4 1422.7M1887.5 1427.4L1891.1 1436.3M1889.3 1432.7L1889.5 1438.6M1887.5 1427.4L1868.7 1438.1M1868.7 1438.1L1862.5 1448.9M1862.5 1448.9L1876.8 1459.6M1876.8 1459.6L1884 1467.7M1871.9 1492.3L1879.5 1493.7M1879.5 1493.7L1880.4 1500M1879.5 1493.7L1883.5 1496.8M1879.5 1493.7L1884 1484.7M1830.2 1522.4L1833.8 1532.2M1822.6 1536.7L1828.4 1534M1828.4 1534L1833.8 1532.2M1833.8 1532.2L1840.9 1539.4M1853.5 1525.9L1867.8 1524.5M1867.8 1524.5L1888.4 1537.6M1888.4 1537.6L1891.1 1537.6M1840.9 1539.4L1837.4 1546.6M1831.1 1545.7L1837.4 1546.6M1837.4 1546.6L1842.7 1553.7M1853.5 1552.8L1860.7 1560.9M1860.7 1560.9L1876.8 1558.2M1876.8 1558.2L1881.3 1549.2M1876.8 1558.2L1884 1566.3M1886.6 1582.4L1882.2 1593.2L1862.5 1595.5M1862.5 1595.5L1858.4 1588.5"/></defs><use href="#clh3c" stroke="#2a8c92"/><use href="#clh3c" stroke="#45c1c7" stroke-width="2.3"/><defs><path id="clh3w" d="M1691.3 1411.7L1694.9 1405.8M1660.8 1459.2L1657.2 1466.8M1661.7 1448.9L1665.3 1453.3M1692.2 1506.2L1696.6 1513.4M1633 1510.7L1637.1 1516.5M1631.2 1537.6L1642.9 1532.2M1650.5 1547.5L1652.7 1552.8M1659 1555.5L1663.5 1555.5M1689.5 1554.2L1691.3 1553.7M1716.4 1398.7L1721.3 1392.9M1753.6 1419.7L1748.6 1417.5M1797.9 1437.7L1803.3 1439M1752.2 1569.9L1745.9 1576.1M1716.4 1563.2L1722.2 1558.5M1728 1544.3L1728 1534.9M1605.2 1403.2L1612 1401.8M1635.3 1395.1L1632.1 1387M1638.4 1403.2L1643.8 1398.7M1628.5 1409.7L1622.3 1414.5M1618.2 1497.7L1625 1501.7M1602.5 1563.6L1605.7 1567.2M1622.3 1573.9L1631.2 1570.8M1768.3 1473.1L1776 1476.6M1789 1491L1790.8 1493.7M1811.4 1465.9L1804.2 1459.6M1822.6 1469L1826.6 1465.9M1819.9 1477.5L1821.2 1482.9M1748.2 1486.7L1742.4 1483.3M1760.3 1521.5L1769.2 1522.4M1792.5 1515.2L1797.9 1518.8M1798.8 1521.9L1803.3 1517.9M1889.3 1399.6L1892.9 1406.7M1840.9 1418.8L1837.4 1413.9M1838.3 1428.3L1832 1432.7M1847.7 1431.4L1850.8 1439M1871.4 1427.4L1879.5 1427.4M1893.4 1422.7L1899.2 1418M1889.5 1438.6L1889.7 1444.4M1862.5 1448.9L1855.3 1448M1864.2 1491L1871.9 1492.3M1880.4 1500L1881.3 1506.2M1883.5 1496.8L1887.5 1500M1816.7 1539.4L1822.6 1536.7M1891.1 1537.6L1893.8 1537.6M1824.8 1544.8L1831.1 1545.7M1842.7 1553.7L1848.1 1560.9M1881.3 1549.2L1885.8 1540.3M1858.4 1588.5L1854.4 1581.5"/></defs><use href="#clh3w" stroke="#bcbcbc"/><use href="#clh3w" stroke="#fdfdfd" stroke-width="2.3"/><defs><path id="clh3r" d="M1719.5 1405.8L1723.5 1397.8M1719.5 1417.5L1723.5 1421.1M1688.1 1447.1L1692.2 1452.5M1692.2 1452.5L1695.8 1438.1M1631.2 1454.2L1627.6 1450.7M1631.2 1465.9L1627.6 1474M1724.4 1467.2L1728.9 1457.8M1724.4 1486.1L1728.9 1495.5M1633 1475.8L1629.4 1466.8M1633 1494.6L1629.4 1504.4M1665.7 1518.8L1664.4 1524.1M1664.4 1524.1L1651.8 1525M1625.8 1515.2L1632.1 1524.1M1626.7 1529.5L1634.8 1528.2M1689 1573.4L1694.9 1578.8M1718.2 1581.5L1721.7 1580.6M1718.6 1589.1L1722.6 1595.8M1739.7 1388.8L1751.3 1390.6M1751.3 1390.6L1754 1397.8M1722.2 1403.2L1724.4 1397.8M1758.5 1394.2L1764.3 1400M1782.7 1411.7L1790.8 1414.8M1763 1439.5L1770.1 1442.4M1755.8 1444.4L1763 1447.1M1782.2 1440.8L1787.2 1442.6M1785.8 1452.9L1794.3 1460.5M1793.4 1532.2L1793.4 1537.6M1784.5 1527.7L1788.1 1529.2M1782.7 1557.3L1787.7 1560M1754.9 1552.8L1752.2 1554.6M1755.8 1560L1759.4 1562.7M1782.5 1576.1L1789.5 1575.2M1766.6 1584.6L1757.6 1592.3M1740.6 1556.4L1750.4 1558.2M1750.4 1558.2L1754.9 1552.8M1618.7 1406.7L1618.7 1413M1645.1 1408.1L1651.8 1413M1651.8 1413L1659.5 1420.6M1609.7 1470.4L1610.2 1476.6M1613.3 1582L1613.3 1586.9M1797 1456L1800.6 1464.1M1800.6 1464.1L1792.5 1472.2M1799.7 1485.6L1813.2 1479.3M1750 1519.2L1745.9 1525M1784.5 1508.9L1793.4 1501.7M1760.3 1518.4L1769.2 1517.9M1863.3 1403.6L1861.6 1412.1M1861.6 1412.1L1857.5 1415.7M1891.1 1436.3L1895.6 1439M1884 1467.7L1889.3 1474M1847.2 1533.1L1853.5 1525.9M1840.9 1540.3L1853.5 1552.8M1884 1566.3L1889.3 1571.6M1889.3 1571.6L1886.6 1582.4"/></defs><use href="#clh3r" stroke="#b00000"/><use href="#clh3r" stroke="#f80808" stroke-width="2.3"/><circle cx="1839.7" cy="1439" r="8.1" fill="url(#sH)" stroke="none"/><circle cx="1842.4" cy="1451.6" r="10.4" fill="url(#sO)" stroke="none"/><circle cx="1827.5" cy="1458.7" r="7.5" fill="url(#sH)" stroke="none"/><circle cx="1898.7" cy="1466.8" r="7.2" fill="url(#sH)" stroke="none"/><circle cx="1893.3" cy="1481.1" r="10.4" fill="url(#sO)" stroke="none"/><circle cx="1895.6" cy="1477.5" r="8.1" fill="url(#sH)" stroke="none"/><circle cx="1849.4" cy="1491.5" r="14.7" fill="url(#sK)" stroke="none"/><circle cx="1822.1" cy="1513.4" r="7.5" fill="url(#sH)" stroke="none"/><circle cx="1837.4" cy="1511.6" r="10.4" fill="url(#sO)" stroke="none"/><circle cx="1844.5" cy="1518.8" r="6.8" fill="url(#sH)" stroke="none"/></g>
<clipPath id="cli1"><rect x="954.8" y="1628.3" width="303.2" height="229.1"/></clipPath><rect x="954.8" y="1628.3" width="303.2" height="229.1" fill="#969696"/><g clip-path="url(#cli1)" fill="none" stroke-width="3.9" stroke-linecap="round" stroke-linejoin="round"><defs><path id="cli1c" d="M1004.2 1671.5L1023.9 1658.9L1033.7 1662.5L1023.9 1678.6L1002.4 1691.2L992.5 1688.5L1004.2 1671.5M1023.9 1658.9L1026.6 1650M1026.6 1650L1028.3 1645.9M1033.7 1662.5L1056.1 1650M1056.1 1650L1061.5 1642.3M1056.1 1650L1061.1 1652.6M1004.2 1671.5L1000.1 1669.9M1023.9 1678.6L1027.9 1680.9M992.5 1688.5L971 1701.9M971 1701.9L966.5 1699.7M971 1701.9L966.5 1710.4M1002.4 1691.2L1004.2 1701M1004.2 1718.6L1023.9 1719L1033.7 1738.7L1022.1 1760.2L1002.4 1759.3L992.5 1738.7L1004.2 1718.6M992.5 1738.7L971 1738.7M971 1738.7L966.5 1728.8M971 1738.7L966.1 1749.4M1002.4 1759.3L998.8 1767.4M998.8 1767.4L996.5 1770.9M1022.1 1760.2L1025.7 1772.7M968.3 1777.2L991.6 1791.6M968.3 1777.2L964.7 1779.5M968.3 1777.2L964.7 1768.7M991.6 1791.6L1001.5 1787.1L1021.2 1797.8L1031.9 1817.5L1023 1820.2L1001.5 1809.5L991.6 1791.6M1001.5 1809.5L993.4 1817.5M1023 1820.2L1026.8 1827M1031.9 1817.5L1054.3 1829.2M1054.3 1829.2L1059.7 1827M1054.3 1829.2L1058.8 1837.7M1109.9 1643.2L1118 1651.7M1118 1651.7L1126.5 1654.2M1118 1651.7L1118 1663.4M1094.7 1653.4L1100.9 1659.8M1100.9 1659.8L1118 1663.4L1133.2 1676.8M1096.9 1666.1L1101.8 1674.2M1100.9 1659.8L1102.7 1673.3L1118 1688.5L1135 1680.4L1133.2 1676.8M1118 1688.5L1126.5 1683.1M1135 1680.4L1144 1684M1118 1688.5L1134.1 1693.9M1134.1 1693.9L1141.7 1700.9M1118 1688.5L1117.1 1715.4M1109 1700.6L1117.1 1702.8M1117.1 1702.8L1126 1710.7M1117.1 1715.4L1135 1727.9L1135 1753L1118 1766.5L1100 1753.9L1100 1728.8L1117.1 1715.4M1094.2 1723L1100 1728.8M1135 1727.9L1141.7 1723.4M1100 1753.9L1093.3 1758.8M1135 1753L1142.2 1758.4M1118 1766.5L1118 1793.3M1118 1777.2L1126 1770M1109.5 1781.2L1118 1779M1118 1793.3L1135 1788.9M1135 1788.9L1146.6 1782.6M1135 1788.9L1134.1 1801.4M1134.1 1801.4L1141.3 1799.8M1118 1793.3L1109 1798.7M1118 1793.3L1125.6 1798.7M1100 1807.7L1099.1 1822.9L1116.2 1819.3L1131.4 1805M1093.3 1810.2L1100 1807.7M1099.1 1822.9L1096.5 1833.7M1116.2 1819.3L1117.1 1830.1M1117.1 1830.1L1125.6 1828.3M1117.1 1830.1L1108.1 1838.2M1208.8 1642.6L1213 1634.4M1213 1634.4L1232.7 1635.1M1232.7 1635.1L1238.1 1646.5M1208.5 1687.1L1212.1 1683.1M1212.1 1683.1L1233.6 1694.8M1233.6 1694.8L1237.2 1701.5M1209.4 1700.1L1213.9 1693.9M1213.9 1693.9L1233.6 1682.2M1233.6 1682.2L1238.1 1684M1234.5 1776.6L1232.7 1784.4M1232.7 1784.4L1230.9 1789.8L1210.3 1802.3M1210.3 1802.3L1206.2 1800.2M1207.6 1783.5L1211.2 1789.8M1211.2 1789.8L1231.8 1803.2M1207.6 1837.7L1211.2 1848M1211.2 1848L1231.8 1849.8M1231.8 1849.8L1235.8 1841.7"/></defs><use href="#cli1c" stroke="#2a8c92"/><use href="#cli1c" stroke="#45c1c7" stroke-width="2.3"/><defs><path id="cli1w" d="M1022.5 1638.1L1014.9 1634.4M1000.1 1669.9L996.1 1668.4M1027.9 1680.9L1031.9 1683.1M996.1 1717.2L988 1720.8M988.9 1693.5L995.5 1696.2M996.5 1770.9L994.3 1774.5M994.3 1774.5L1000.6 1785.3M1025.7 1787.1L1020.3 1790.7M1007.7 1791.6L1016.7 1793.3M984.4 1822.9L973.7 1826.9M1026.8 1827L1030.7 1833.7M1088.4 1646.9L1094.7 1653.4M1075.5 1663.4L1083.9 1660.7M1155.6 1679.5L1156.5 1673.3M1141.7 1700.9L1149.3 1707.8M1077.6 1708.2L1083 1712.7M1141.7 1723.4L1148.4 1719M1093.3 1758.8L1086.6 1763.8M1146.2 1773.6L1145.8 1779.9M1141.3 1799.8L1148.4 1798.2M1086.6 1812.7L1093.3 1810.2M1204.5 1650.8L1208.8 1642.6M1248.8 1659.8L1254.2 1661.6M1186.1 1693.5L1195.5 1692.3M1237.2 1701.5L1240.8 1708.2M1186.1 1713.9L1195.5 1710.2M1238.1 1684L1242.5 1685.8M1222.5 1764.1L1229.4 1766.5M1206.2 1800.2L1202.2 1798.2M1204 1777.2L1207.6 1783.5M1226.4 1804.1L1217.5 1803.6M1190.6 1829.2L1197.3 1828.3M1235.8 1841.7L1239.9 1833.7"/></defs><use href="#cli1w" stroke="#bcbcbc"/><use href="#cli1w" stroke="#fdfdfd" stroke-width="2.3"/><defs><path id="cli1r" d="M1028.3 1645.9L1030.1 1641.9M1030.1 1641.9L1022.5 1638.1M1061.5 1642.3L1066.9 1634.7M1061.1 1652.6L1066 1655.3M966.5 1699.7L962 1697.5M966.5 1710.4L962 1719M1004.2 1701L1004.2 1713.6M1004.2 1713.6L996.1 1717.2M995.5 1696.2L1002 1698.9M966.5 1728.8L962 1719M966.1 1749.4L961.1 1760.2M1025.7 1772.7L1031 1783.5M1031 1783.5L1025.7 1787.1M964.7 1779.5L961.1 1781.7M964.7 1768.7L961.1 1760.2M1016.7 1793.3L1023.9 1795.1M993.4 1817.5L984.4 1822.9M1059.7 1827L1065.1 1824.7M1058.8 1837.7L1063.3 1846.2M1101.8 1634.7L1109.9 1643.2M1126.5 1654.2L1135 1656.6M1083.9 1660.7L1092 1658M1092 1658L1096.9 1666.1M1100 1676.8L1109 1684M1126.5 1683.1L1135 1677.7M1144 1684L1154.7 1685.8M1154.7 1685.8L1155.6 1679.5M1100.9 1698.3L1109 1700.6M1126 1710.7L1135 1718.6M1083 1712.7L1088.4 1717.2M1088.4 1717.2L1094.2 1723M1142.2 1758.4L1146.6 1767.4M1146.6 1767.4L1146.2 1773.6M1146.6 1782.6L1155.6 1776.3M1155.6 1776.3L1152.9 1770M1126 1770L1134.1 1762.9M1100.9 1783.5L1109.5 1781.2M1109 1798.7L1100 1804.1M1125.6 1798.7L1133.2 1804.1M1096.5 1833.7L1093.8 1846.2M1125.6 1828.3L1134.1 1826.5M1108.1 1838.2L1099.1 1846.2M1238.1 1646.5L1243.4 1658M1243.4 1658L1248.8 1659.8M1195.5 1692.3L1204.9 1691.2M1204.9 1691.2L1208.5 1687.1M1195.5 1710.2L1204.9 1706.4M1204.9 1706.4L1209.4 1700.1M1229.4 1766.5L1236.3 1768.8M1236.3 1768.8L1234.5 1776.6M1231.8 1803.2L1226.4 1804.1M1197.3 1828.3L1204 1827.4M1204 1827.4L1207.6 1837.7"/></defs><use href="#cli1r" stroke="#b00000"/><use href="#cli1r" stroke="#f80808" stroke-width="2.3"/><circle cx="1048.1" cy="1700.1" r="8.1" fill="url(#sH)" stroke="none"/><circle cx="1027.1" cy="1710" r="7.5" fill="url(#sH)" stroke="none"/><circle cx="1039.1" cy="1714.5" r="10.8" fill="url(#sO)" stroke="none"/><circle cx="1056.1" cy="1724.3" r="11.1" fill="url(#sO)" stroke="none"/><circle cx="1068.7" cy="1714.5" r="7.5" fill="url(#sH)" stroke="none"/><circle cx="1052.2" cy="1727" r="8.1" fill="url(#sH)" stroke="none"/><circle cx="1011.7" cy="1744.4" r="11.1" fill="url(#sO)" stroke="none"/><circle cx="1004.2" cy="1738.7" r="8.1" fill="url(#sH)" stroke="none"/><circle cx="998.4" cy="1747.6" r="7.2" fill="url(#sH)" stroke="none"/><circle cx="1078.5" cy="1740.5" r="11.1" fill="url(#sO)" stroke="none"/><circle cx="1092.3" cy="1737.8" r="7.5" fill="url(#sH)" stroke="none"/><circle cx="1082.1" cy="1747.6" r="6.3" fill="url(#sH)" stroke="none"/><circle cx="1047.5" cy="1745" r="15.2" fill="url(#sM)" stroke="none"/><circle cx="1045.7" cy="1769.1" r="11.1" fill="url(#sO)" stroke="none"/><circle cx="1052.2" cy="1773.6" r="8.1" fill="url(#sH)" stroke="none"/><circle cx="1041.8" cy="1783.5" r="6.3" fill="url(#sH)" stroke="none"/><circle cx="1051.1" cy="1787.4" r="7.5" fill="url(#sH)" stroke="none"/></g>
<clipPath id="cli2"><rect x="1278.1" y="1628.3" width="305.5" height="229.1"/></clipPath><rect x="1278.1" y="1628.3" width="305.5" height="229.1" fill="#969696"/><g clip-path="url(#cli2)" fill="none" stroke-width="3.9" stroke-linecap="round" stroke-linejoin="round"><defs><path id="cli2c" d="M1327.4 1675L1346.2 1661.6L1357.8 1665.2L1348 1683.1L1326.5 1693.9L1316.6 1692.1L1327.4 1675M1357.8 1665.2L1379.3 1652.6M1379.3 1652.6L1384.5 1645.3M1379.3 1652.6L1384.5 1655.2M1327.4 1675L1322.9 1673.5M1348 1683.1L1352.5 1684.7M1316.6 1692.1L1294.2 1705.5M1294.2 1705.5L1289.7 1703.1M1294.2 1705.5L1289.7 1714M1326.5 1722.5L1347.1 1722.5L1356.9 1743.2L1345.3 1763.8L1325.6 1763.8L1315.7 1742.6L1326.5 1722.5M1347.1 1722.5L1350.7 1714.5M1356.9 1743.2L1378.4 1743.2M1378.4 1743.2L1382.9 1733.3M1378.4 1743.2L1383.2 1753.5M1315.7 1742.6L1293.3 1742.6M1293.3 1742.6L1289.3 1732.6M1293.3 1742.6L1289.3 1753.2M1325.6 1763.8L1322 1772.7M1322 1772.7L1320.2 1776.3M1292.4 1779.9L1316.6 1795.1M1292.4 1779.9L1288.8 1782.4M1292.4 1779.9L1288.8 1771.8M1316.6 1795.1L1327.4 1791.6L1346.2 1801.4L1356.9 1820.2L1348 1823.3L1327.4 1813.1L1316.6 1795.1M1327.4 1813.1L1323.8 1815.3M1348 1823.3L1351.6 1830.3M1356.9 1820.2L1379.3 1831.9M1379.3 1831.9L1385.2 1829.9M1379.3 1831.9L1384.3 1840.4M1433.1 1645.5L1441.2 1653.5M1441.2 1653.5L1449.7 1655.8M1441.2 1653.5L1441.7 1666.1M1417.4 1655.8L1424.1 1662.5M1424.1 1662.5L1441.7 1666.1L1457.3 1680.4M1419.8 1666.5L1424.1 1674.2M1424.1 1662.5L1425 1675L1441.2 1690.3L1458.2 1684L1457.3 1680.4M1441.2 1690.3L1450.1 1685.1M1441.2 1690.3L1441.2 1717.2M1441.2 1717.2L1458.2 1729.7L1459.1 1753.9L1443 1768.3L1425.9 1755.7L1425.6 1730.6L1441.2 1717.2M1418.6 1725.2L1425.6 1730.6M1458.2 1729.7L1465.4 1724.8M1425.9 1755.7L1418.8 1761.1M1443 1768.3L1442.1 1794.2M1432.9 1783L1442.1 1780.8M1442.1 1794.2L1458.2 1789.8M1458.2 1789.8L1458.2 1803.2M1458.2 1803.2L1465.4 1801.6M1442.1 1794.2L1433.6 1800.1M1442.1 1794.2L1450.1 1800.1M1424.1 1809.5L1423.3 1824.7L1440.3 1821.1L1455.5 1806.8M1417 1811.9L1424.1 1809.5M1423.3 1824.7L1420.6 1836.4M1440.3 1821.1L1441.2 1832.8M1441.2 1832.8L1450.1 1830.7M1441.2 1832.8L1432.5 1840.8M1533.5 1839.1L1536.2 1848.9M1536.2 1848.9L1556.8 1850.2M1556.8 1850.2L1560.6 1842.1M1346.2 1661.6L1346.2 1650M1346.2 1650L1345.7 1644.6M1326.5 1693.9L1327.4 1706.4M1345.3 1763.8L1346.2 1775.4M1458.2 1684L1467.2 1687.6M1441.2 1690.3L1457.3 1695.3M1457.3 1695.3L1464.5 1702.2M1459.1 1753.9L1467.6 1757.5M1458.2 1789.8L1470.8 1788.5M1531.1 1643.9L1534.4 1635.6M1534.4 1635.6L1555 1636.2M1555 1636.2L1560.4 1647.1M1532.6 1690.1L1537.1 1684.9M1537.1 1684.9L1557.7 1696.6M1557.7 1696.6L1561.5 1702.8M1532.6 1694.8L1556.8 1682.8M1556.8 1682.8L1560.4 1684.5M1561.3 1782.1L1558.6 1788.9M1558.6 1788.9L1535.3 1803.2M1535.3 1803.2L1531.7 1801.4M1529.7 1783.5L1533.5 1789.8M1533.5 1789.8L1555 1802.8"/></defs><use href="#cli2c" stroke="#2a8c92"/><use href="#cli2c" stroke="#45c1c7" stroke-width="2.3"/><defs><path id="cli2w" d="M1322.9 1673.5L1318.4 1672M1352.5 1684.7L1356.9 1686.3M1350.7 1714.5L1354.2 1706.4M1320.2 1776.3L1318.4 1779.9M1318.4 1779.9L1325.6 1791.6M1313 1815.3L1305.8 1813.1M1351.6 1830.3L1355.1 1837.3M1410.7 1649.1L1417.4 1655.8M1398.2 1664.3L1408 1661.6M1400.8 1711.8L1406.2 1715.8M1465.4 1724.8L1472.5 1719.9M1418.8 1761.1L1411.6 1766.5M1465.4 1801.6L1472.5 1800M1409.8 1814.3L1417 1811.9M1409.5 1850L1401.2 1852M1516.5 1830.1L1523.6 1829.6M1560.6 1842.1L1564.3 1834M1337.2 1635.9L1329.2 1632.6M1319.5 1722.5L1311.6 1727M1311.2 1694.8L1317.9 1697.9M1340.4 1787.3L1334.5 1790.3M1337.2 1797.5L1345.3 1798.7M1478.2 1686.4L1479.4 1681.7M1464.5 1702.2L1471.6 1709.1M1483.3 1762L1490.5 1762.9M1484.2 1795.7L1486 1802.8M1527.8 1652.3L1531.1 1643.9M1570.7 1659.6L1575.6 1661.2M1508.4 1682.2L1513.3 1688M1561.5 1702.8L1565.4 1709.1M1530.8 1699.2L1534.9 1709.1M1560.4 1684.5L1564 1686.3M1578.3 1763.8L1571.1 1769.6M1531.7 1801.4L1528.1 1799.6M1526 1777.2L1529.7 1783.5M1559.2 1809.3L1558.9 1817.2"/></defs><use href="#cli2w" stroke="#bcbcbc"/><use href="#cli2w" stroke="#fdfdfd" stroke-width="2.3"/><defs><path id="cli2r" d="M1384.5 1645.3L1389.7 1637.9M1384.5 1655.2L1389.7 1657.7M1289.7 1703.1L1285.2 1700.7M1289.7 1714L1285.2 1722.5M1382.9 1733.3L1387.4 1723.4M1383.2 1753.5L1387.9 1763.8M1289.3 1732.6L1285.2 1722.5M1289.3 1753.2L1285.2 1763.8M1288.8 1782.4L1285.2 1784.9M1288.8 1771.8L1285.2 1763.8M1323.8 1815.3L1320.2 1817.5M1320.2 1817.5L1313 1815.3M1385.2 1829.9L1391 1827.9M1384.3 1840.4L1389.2 1848.9M1425 1637.4L1433.1 1645.5M1449.7 1655.8L1458.2 1658M1408 1661.6L1415.5 1658.9M1415.5 1658.9L1419.8 1666.5M1424.1 1679.9L1433.1 1685.3M1450.1 1685.1L1459.1 1679.9M1406.2 1715.8L1411.6 1719.9M1411.6 1719.9L1418.6 1725.2M1423.8 1785.3L1432.9 1783M1433.6 1800.1L1425 1805.9M1450.1 1800.1L1458.2 1805.9M1420.6 1836.4L1417.9 1848M1417.9 1848L1409.5 1850M1450.1 1830.7L1459.1 1828.7M1432.5 1840.8L1423.8 1848.9M1523.6 1829.6L1530.8 1829.2M1530.8 1829.2L1533.5 1839.1M1345.7 1644.6L1345.3 1639.2M1345.3 1639.2L1337.2 1635.9M1327.4 1706.4L1327.4 1718.1M1327.4 1718.1L1319.5 1722.5M1317.9 1697.9L1324.7 1701M1346.2 1775.4L1346.2 1784.4M1346.2 1784.4L1340.4 1787.3M1345.3 1798.7L1352.8 1800.5M1467.2 1687.6L1477 1691.2M1477 1691.2L1478.2 1686.4M1422.4 1701.4L1430.4 1703.7M1467.6 1757.5L1476.1 1761.1M1476.1 1761.1L1483.3 1762M1470.8 1788.5L1482.4 1788.5M1482.4 1788.5L1484.2 1795.7M1560.4 1647.1L1565.8 1658M1565.8 1658L1570.7 1659.6M1513.3 1688L1518.3 1693.9M1518.3 1693.9L1528.1 1695.3M1528.1 1695.3L1532.6 1690.1M1528.1 1691.2L1530.8 1699.2M1571.1 1769.6L1564 1775.4M1564 1775.4L1561.3 1782.1M1555 1802.8L1559.5 1801.4M1559.5 1801.4L1559.2 1809.3"/></defs><use href="#cli2r" stroke="#b00000"/><use href="#cli2r" stroke="#f80808" stroke-width="2.3"/><circle cx="1437.6" cy="1703.7" r="7.5" fill="url(#sH)" stroke="none"/><circle cx="1445.7" cy="1719" r="11.1" fill="url(#sO)" stroke="none"/><circle cx="1434.9" cy="1727" r="7.5" fill="url(#sH)" stroke="none"/><circle cx="1434" cy="1736" r="6.8" fill="url(#sH)" stroke="none"/><circle cx="1448.3" cy="1744.1" r="11.1" fill="url(#sO)" stroke="none"/><circle cx="1443" cy="1756.6" r="7.2" fill="url(#sH)" stroke="none"/><circle cx="1463.2" cy="1763.8" r="10.8" fill="url(#sO)" stroke="none"/><circle cx="1447.5" cy="1772.7" r="6.3" fill="url(#sH)" stroke="none"/><circle cx="1467.2" cy="1775.4" r="8.1" fill="url(#sH)" stroke="none"/><circle cx="1470.4" cy="1736.9" r="15.2" fill="url(#sM)" stroke="none"/><circle cx="1495.8" cy="1724.3" r="10.8" fill="url(#sO)" stroke="none"/><circle cx="1499.8" cy="1711.8" r="8.1" fill="url(#sH)" stroke="none"/><circle cx="1509.3" cy="1736.9" r="8.1" fill="url(#sH)" stroke="none"/><circle cx="1494.1" cy="1746.7" r="10.8" fill="url(#sO)" stroke="none"/><circle cx="1506.6" cy="1758.4" r="8.1" fill="url(#sH)" stroke="none"/><defs><path id="cli2ct" d="M1441.2 1717.2L1458.2 1729.7L1459.1 1753.9L1443 1768.3L1425.9 1755.7L1425.6 1730.6L1441.2 1717.2M1441.2 1690.3L1441.2 1717.2M1458.2 1729.7L1465.4 1724.8"/></defs><use href="#cli2ct" stroke="#2a8c92"/><use href="#cli2ct" stroke="#45c1c7" stroke-width="2.3"/><defs><path id="cli2wt" d="M1465.4 1724.8L1472.5 1719.9"/></defs><use href="#cli2wt" stroke="#bcbcbc"/><use href="#cli2wt" stroke="#fdfdfd" stroke-width="2.3"/></g>
<clipPath id="cli3"><rect x="1602.6" y="1628.3" width="307.6" height="229.1"/></clipPath><rect x="1602.6" y="1628.3" width="307.6" height="229.1" fill="#969696"/><g clip-path="url(#cli3)" fill="none" stroke-width="3.9" stroke-linecap="round" stroke-linejoin="round"><defs><path id="cli3c" d="M1650.4 1675L1669.2 1661.6L1680.9 1665.2L1671 1683.1L1649.5 1693.9L1639.7 1692.1L1650.4 1675M1680.9 1665.2L1702.4 1652.6M1702.4 1652.6L1707.6 1645.3M1702.4 1652.6L1707.6 1655.2M1650.4 1675L1645.9 1673.5M1671 1683.1L1675.5 1684.7M1639.7 1692.1L1617.2 1705.5M1617.2 1705.5L1612.8 1703.1M1617.2 1705.5L1612.8 1714M1649.5 1722.5L1670.1 1722.5L1680 1743.2L1668.3 1763.8L1648.6 1763.8L1638.8 1742.6L1649.5 1722.5M1670.1 1722.5L1673.7 1714.5M1680 1743.2L1701.5 1743.2M1701.5 1743.2L1706 1733.3M1701.5 1743.2L1706.2 1753.5M1638.8 1742.6L1616.3 1742.6M1616.3 1742.6L1612.3 1732.6M1616.3 1742.6L1612.3 1753.2M1648.6 1763.8L1645 1772.7M1645 1772.7L1643.2 1776.3M1615.5 1779.9L1639.7 1795.1M1615.5 1779.9L1611.9 1782.4M1615.5 1779.9L1611.9 1771.8M1639.7 1795.1L1650.4 1791.6L1669.2 1801.4L1680 1820.2L1671 1823.3L1650.4 1813.1L1639.7 1795.1M1650.4 1813.1L1646.8 1815.3M1671 1823.3L1674.6 1830.3M1680 1820.2L1702.4 1831.9M1702.4 1831.9L1708.2 1829.9M1702.4 1831.9L1707.3 1840.4M1756.2 1645.5L1764.2 1653.5M1764.2 1653.5L1772.7 1655.8M1764.2 1653.5L1764.8 1666.1M1740.5 1655.8L1747.2 1662.5M1747.2 1662.5L1764.8 1666.1L1780.4 1680.4M1742.9 1666.5L1747.2 1674.2M1747.2 1662.5L1748.1 1675L1764.2 1690.3L1781.3 1684L1780.4 1680.4M1764.2 1690.3L1773.2 1685.1M1764.2 1690.3L1764.2 1717.2M1764.2 1717.2L1781.3 1729.7L1782.1 1753.9L1766 1768.3L1749 1755.7L1748.6 1730.6L1764.2 1717.2M1741.6 1725.2L1748.6 1730.6M1781.3 1729.7L1788.4 1724.8M1749 1755.7L1741.8 1761.1M1766 1768.3L1765.1 1794.2M1756 1783L1765.1 1780.8M1765.1 1794.2L1781.3 1789.8M1781.3 1789.8L1781.3 1803.2M1781.3 1803.2L1788.4 1801.6M1765.1 1794.2L1756.6 1800.1M1765.1 1794.2L1773.2 1800.1M1747.2 1809.5L1746.3 1824.7L1763.3 1821.1L1778.6 1806.8M1740 1811.9L1747.2 1809.5M1746.3 1824.7L1743.6 1836.4M1763.3 1821.1L1764.2 1832.8M1764.2 1832.8L1773.2 1830.7M1764.2 1832.8L1755.5 1840.8M1856.5 1839.1L1859.2 1848.9M1859.2 1848.9L1879.8 1850.2M1879.8 1850.2L1883.6 1842.1M1668.9 1661.6L1671 1650M1671 1650L1671.6 1645.9M1649.2 1693.9L1648.3 1704.6M1668.3 1763.8L1668.9 1777.2M1782.7 1683.1L1785.4 1690.3M1783.6 1697.5L1788.8 1703M1754.9 1703.5L1763.9 1705.5M1763.9 1705.5L1771.9 1712.7M1782.7 1753.9L1792.5 1758.8M1765.7 1776.3L1771.9 1770.8M1785.4 1779.9L1781.8 1790.7M1854.7 1643.9L1858 1635.6M1858 1635.6L1878.6 1636.2M1878.6 1636.2L1882.6 1647.1M1856.6 1687L1860.7 1684M1860.7 1684L1881.3 1696.6M1881.3 1696.6L1885.1 1702.8M1858 1703.7L1858.9 1694.8M1858.9 1694.8L1879.5 1682.8M1879.5 1682.8L1883.5 1684.7M1882.2 1779L1880 1789.8L1859.8 1803.2M1859.8 1803.2L1855.9 1801.9M1853 1783.5L1856.2 1789.8M1856.2 1789.8L1874.1 1801.4"/></defs><use href="#cli3c" stroke="#2a8c92"/><use href="#cli3c" stroke="#45c1c7" stroke-width="2.3"/><defs><path id="cli3w" d="M1645.9 1673.5L1641.4 1672M1675.5 1684.7L1680 1686.3M1673.7 1714.5L1677.3 1706.4M1643.2 1776.3L1641.4 1779.9M1641.4 1779.9L1648.6 1791.6M1636.1 1815.3L1628.9 1813.1M1674.6 1830.3L1678.2 1837.3M1733.8 1649.1L1740.5 1655.8M1721.2 1664.3L1731.1 1661.6M1723.9 1711.8L1729.3 1715.8M1788.4 1724.8L1795.6 1719.9M1741.8 1761.1L1734.6 1766.5M1788.4 1801.6L1795.6 1800M1732.9 1814.3L1740 1811.9M1732.6 1850L1724.3 1852M1839.5 1830.1L1846.7 1829.6M1883.6 1842.1L1887.4 1834M1664.2 1637.9L1656.3 1633.8M1638.4 1716.9L1629.4 1721.1M1628.5 1701.9L1634.8 1700.7M1669.8 1784.4L1674.2 1789.8M1661.7 1794.2L1668.9 1788M1780.4 1700.6L1772.8 1702.8M1788.8 1703L1794 1708.6M1799.3 1772.3L1796.1 1780.8M1774.6 1758.4L1780.9 1763.8M1851.3 1652.3L1854.7 1643.9M1893.5 1656.7L1900.4 1655.3M1839.5 1679.5L1846 1684.7M1885.1 1702.8L1889 1709.1M1883.5 1684.7L1887.5 1686.7M1870.5 1759.3L1876.8 1765.1M1855.9 1801.9L1852.1 1800.5M1849.9 1777.2L1853 1783.5M1869.6 1806.8L1878.6 1802.3"/></defs><use href="#cli3w" stroke="#bcbcbc"/><use href="#cli3w" stroke="#fdfdfd" stroke-width="2.3"/><defs><path id="cli3r" d="M1707.6 1645.3L1712.8 1637.9M1707.6 1655.2L1712.8 1657.7M1612.8 1703.1L1608.3 1700.7M1612.8 1714L1608.3 1722.5M1706 1733.3L1710.5 1723.4M1706.2 1753.5L1711 1763.8M1612.3 1732.6L1608.3 1722.5M1612.3 1753.2L1608.3 1763.8M1611.9 1782.4L1608.3 1784.9M1611.9 1771.8L1608.3 1763.8M1646.8 1815.3L1643.2 1817.5M1643.2 1817.5L1636.1 1815.3M1708.2 1829.9L1714 1827.9M1707.3 1840.4L1712.2 1848.9M1748.1 1637.4L1756.2 1645.5M1772.7 1655.8L1781.3 1658M1731.1 1661.6L1738.6 1658.9M1738.6 1658.9L1742.9 1666.5M1747.2 1679.9L1756.2 1685.3M1773.2 1685.1L1782.1 1679.9M1729.3 1715.8L1734.6 1719.9M1734.6 1719.9L1741.6 1725.2M1746.8 1785.3L1756 1783M1756.6 1800.1L1748.1 1805.9M1773.2 1800.1L1781.3 1805.9M1743.6 1836.4L1740.9 1848M1740.9 1848L1732.6 1850M1773.2 1830.7L1782.1 1828.7M1755.5 1840.8L1746.8 1848.9M1846.7 1829.6L1853.8 1829.2M1853.8 1829.2L1856.5 1839.1M1671.6 1645.9L1672.1 1641.9M1672.1 1641.9L1664.2 1637.9M1637.5 1699.6L1643.8 1699.2M1643.8 1699.2L1647.4 1712.7M1647.4 1712.7L1638.4 1716.9M1668.9 1777.2L1669.8 1784.4M1674.2 1789.8L1679.6 1794.2M1679.6 1794.2L1674.2 1799.6M1785.4 1690.3L1788.1 1698.3M1788.1 1698.3L1780.4 1700.6M1745.9 1701.4L1754.9 1703.5M1771.9 1712.7L1780 1719.9M1792.5 1758.8L1802.4 1763.8M1802.4 1763.8L1799.3 1772.3M1771.9 1770.8L1778.2 1765.2M1778.2 1765.2L1788.1 1767.4M1788.1 1767.4L1785.4 1779.9M1882.6 1647.1L1886.6 1658M1886.6 1658L1893.5 1656.7M1846 1684.7L1852.6 1689.9M1852.6 1689.9L1856.6 1687M1876.8 1765.1L1883.1 1770.9M1883.1 1770.9L1882.2 1779M1874.1 1801.4L1883.1 1798.7"/></defs><use href="#cli3r" stroke="#b00000"/><use href="#cli3r" stroke="#f80808" stroke-width="2.3"/><circle cx="1801.5" cy="1724" r="7.5" fill="url(#sH)" stroke="none"/><circle cx="1808.3" cy="1740.8" r="11.1" fill="url(#sO)" stroke="none"/><circle cx="1795.2" cy="1750.3" r="8.1" fill="url(#sH)" stroke="none"/><circle cx="1834.1" cy="1705.5" r="7.2" fill="url(#sH)" stroke="none"/><circle cx="1843.6" cy="1702.5" r="8.1" fill="url(#sH)" stroke="none"/><circle cx="1833.8" cy="1722.5" r="10.8" fill="url(#sO)" stroke="none"/><circle cx="1850.3" cy="1716.3" r="10.8" fill="url(#sO)" stroke="none"/><circle cx="1867.8" cy="1713.9" r="8.1" fill="url(#sH)" stroke="none"/><circle cx="1840.6" cy="1744.4" r="15.2" fill="url(#sM)" stroke="none"/><circle cx="1873.2" cy="1745.8" r="10.8" fill="url(#sO)" stroke="none"/><circle cx="1884.9" cy="1743.2" r="8.1" fill="url(#sH)" stroke="none"/><circle cx="1853.1" cy="1761.1" r="10.8" fill="url(#sO)" stroke="none"/><circle cx="1851.3" cy="1755.2" r="8.1" fill="url(#sH)" stroke="none"/><circle cx="1866.9" cy="1770.6" r="8.1" fill="url(#sH)" stroke="none"/><circle cx="1834.1" cy="1772.4" r="10.8" fill="url(#sO)" stroke="none"/><circle cx="1818.5" cy="1772.7" r="7.5" fill="url(#sH)" stroke="none"/><circle cx="1840.9" cy="1788" r="7.5" fill="url(#sH)" stroke="none"/></g>
<clipPath id="clj1"><rect x="954.8" y="1881" width="303.2" height="229.6"/></clipPath><rect x="954.8" y="1881" width="303.2" height="229.6" fill="#969696"/><g clip-path="url(#clj1)" fill="none" stroke-width="3.9" stroke-linecap="round" stroke-linejoin="round"><defs><path id="clj1c" d="M980.4 1914.4L988.9 1910.3M988.9 1910.3L989.2 1900.9M988.9 1910.3L993.8 1913.9M1004.6 1921.7L1010.4 1925.9M955.8 1904.4L963.4 1903.3M1010.4 1925.9L1032.8 1913L1041.8 1918.8L1031 1936.3L1009.5 1947.1L1000.6 1943.1L1010.4 1925.9M1032.8 1913L1036.4 1907.5M1041.8 1918.8L1063.3 1905M1063.3 1905L1067.3 1897.3M1063.3 1905L1067.8 1907.4M1031 1936.3L1037.8 1942.1M1000.6 1943.1L977.3 1956M977.3 1956L973.2 1953.8M977.3 1956L973.2 1963.7M1009.5 1947.1L1006.4 1953.3M1010.4 1973.6L1031 1972.5L1040.9 1993.7L1031 2013.4L1010.4 2014.8L999.7 1994L1010.4 1973.6M1010.4 1973.6L1006.8 1966.8M1031 1972.5L1034.2 1961.1M1040.9 1993.7L1063.3 1993.7M1063.3 1993.7L1067.8 1983.8M1063.3 1993.7L1067.3 2004M999.7 1994L977.3 1994M977.3 1994L973.2 1982.7M977.3 1994L972.8 2004.6M1031 2013.4L1035.1 2021.5M1010.4 2014.8L1010.4 2025.9M980.8 2016.8L988 2017M988 2017L989.6 2024.1M988 2017L990.3 2008.9M976.4 2030.4L968.3 2018.8M976.4 2030.4L972.2 2033.1M976.4 2030.4L1002.4 2043.9L1009.5 2042.1L1033.7 2056.4L1038.2 2070.8L1029.2 2073.4L1007.7 2060.9L1002.4 2043.9M1033.7 2052.8L1036 2052.1M987.6 2051.9L996.1 2054.6M996.1 2054.6L994.6 2061.3M996.1 2054.6L1002.4 2043.9M1038.2 2070.8L1061.5 2083.7M1061.5 2083.7L1066 2081.9M1061.5 2083.7L1066 2092M1041.3 2093.6L1040 2104.8M1071.4 1893.3L1076.7 1884.3M1076.7 1884.3L1086.6 1887.9M1100.5 1897.3L1102.7 1904.1M1102.7 1904.1L1107.2 1914.8M1115.1 1897.2L1122.5 1905M1122.5 1905L1131.9 1907.4M1122.5 1905L1122.5 1918.4M1107.2 1914.8L1122.5 1918.4L1141.3 1935.4L1141.3 1948L1123.3 1943.5L1106.3 1927.4L1107.2 1914.8M1106.3 1927.4L1100.5 1926.3M1123.3 1943.5L1132.3 1938.1M1141.3 1937.2L1147.5 1938.1M1123.3 1943.5L1123.3 1970.4M1115.6 1955.3L1123.3 1957.8M1123.3 1957.8L1132.3 1965.4M1141.3 1948L1152.9 1952.8M1167.3 1967.7L1169.1 1979.3M1167.3 1967.7L1179.6 1965.9M1169.1 1979.3L1177.1 1982.9M1169.1 1979.3L1162.3 1985.6M1141.3 1982L1152.9 1978M1123.3 1970.4L1140.4 1982L1139.5 2007.1L1122.5 2019.7L1105.4 2007.1L1105.4 1982.6L1123.3 1970.4M1105.4 1982.6L1099.1 1977.4M1139.5 2007.1L1146.2 2012.9M1105.4 2007.1L1097.4 2012.5M1083 2020.6L1071.4 2027.7M1122.5 2019.7L1122.5 2047.5M1122.5 2031.3L1131.9 2024.1M1114.4 2035.5L1122.5 2033.5M1122.5 2047.5L1139.5 2042.1M1139.5 2042.1L1146.4 2035.4M1139.5 2042.1L1139.5 2053.7M1139.5 2053.7L1152 2053.2M1163.7 2052.5L1171.7 2044.8M1122.5 2047.5L1131 2053.3M1122.5 2047.5L1113.9 2052.8M1122.5 2047.5L1105.4 2062.7L1106.3 2074.3L1123.3 2069.9L1139.5 2053.7M1123.3 2069.9L1123.3 2083.3M1123.3 2083.3L1131.9 2081.5M1123.3 2083.3L1114.4 2091.8M1106.3 2074.3L1099.1 2081.1M1066 2076.1L1073.2 2073.4M1073.2 2073.4L1072.3 2065.4M1073.2 2073.4L1086.6 2075.2M1101.4 2069.4L1105.4 2062.7M1220.1 1888.8L1240.8 1887.6M1240.8 1887.6L1244.8 1896.3M1220.1 1888.8L1217.5 1899.1M1209.4 1912.6L1204 1915.7M1204 1915.7L1194.1 1918.4M1194.1 1918.4L1185.6 1913.5M1194.1 1918.4L1191.9 1928.1M1214.3 1936.5L1218.3 1934.9M1218.3 1934.9L1240.8 1949.8M1240.8 1949.8L1248.8 1961.4M1244 1974L1239 1984.7M1239 1984.7L1229.1 1984.7M1239 1984.7L1241.5 1990.1M1239 1937.2L1239.9 1928.7M1239 1937.2L1220.1 1948.9M1220.1 1948.9L1215.7 1956M1239 1937.2L1244.3 1941.7M1189.7 2025.9L1181.6 2013.4M1189.7 2025.9L1192.8 2021.5M1189.7 2025.9L1178.9 2034.9M1189.7 2025.9L1194.6 2030.4M1209.4 2040.3L1219.2 2043M1219.2 2043L1239 2054.6M1239 2054.6L1243.4 2053.7M1194.1 2047.5L1185.2 2054.6M1185.2 2054.6L1171.7 2044.8M1164.1 2044.3L1171.7 2044.8M1171.7 2044.8L1174.4 2036.7M1185.2 2054.6L1187.4 2064M1212.1 2049.2L1218.3 2056.4M1218.3 2056.4L1239 2044.8M1239 2044.8L1243.4 2038M1233.6 2065.4L1233.6 2074.3M1233.6 2074.3L1242.5 2080.6M1241.6 2092.3L1238.1 2103L1217.5 2103.9M1217.5 2103.9L1213.4 2095.8M1233.6 2074.3L1224.6 2077.9"/></defs><use href="#clj1c" stroke="#2a8c92"/><use href="#clj1c" stroke="#45c1c7" stroke-width="2.3"/><defs><path id="clj1w" d="M971.9 1918.4L980.4 1914.4M989.2 1900.9L989.5 1891.5M963.4 1903.3L971 1902.3M1036.4 1907.5L1040 1901.9M1006.4 1953.3L1003.3 1959.6M1003.3 1959.6L1006.8 1966.8M1025.7 1952.1L1037.3 1948.9M1035.1 2021.5L1039.1 2029.5M973.7 2016.6L980.8 2016.8M989.6 2024.1L991.2 2031.3M990.3 2008.9L992.5 2000.8M1036 2052.1L1038.2 2051.4M979.1 2049.2L987.6 2051.9M994.6 2061.3L993 2068.1M998.8 2061.8L1005.9 2064.5M1071.8 1895.1L1073.2 1900.5M1100.5 1926.3L1094.7 1925.2M1147.5 1938.1L1153.8 1939M1179.6 1965.9L1192 1964.1M1177.1 1982.9L1185.2 1986.5M1162.3 1985.6L1155.6 1991.9M1099.1 1977.4L1092.9 1972.2M1146.2 2012.9L1152.9 2018.8M1146.4 2035.4L1153.3 2028.6M1099.1 2081.1L1092 2087.8M1058.8 2078.8L1066 2076.1M1072.3 2065.4L1071.4 2057.3M1244.8 1896.3L1248.8 1905M1185.6 1913.5L1177.1 1908.5M1191.9 1928.1L1189.7 1937.8M1210.3 1938.1L1214.3 1936.5M1229.1 1984.7L1219.2 1984.7M1241.5 1990.1L1244 1995.5M1239.9 1928.7L1240.8 1920.2M1215.7 1956L1211.2 1963.2M1220.1 1943.8L1231.8 1939.9M1181.6 2013.4L1179.8 2011.6M1192.8 2021.5L1195.9 2017M1178.9 2034.9L1174.4 2037.6M1243.4 2053.7L1247.9 2052.8M1156.5 2043.9L1164.1 2044.3M1174.4 2036.7L1178 2027.7M1187.4 2064L1189.7 2073.4M1169.1 2049.2L1181.6 2054.6M1243.4 2038L1247.9 2031.3M1233.6 2056.4L1233.6 2065.4M1213.4 2095.8L1209.4 2087.8M1224.6 2077.9L1215.7 2081.5"/></defs><use href="#clj1w" stroke="#bcbcbc"/><use href="#clj1w" stroke="#fdfdfd" stroke-width="2.3"/><defs><path id="clj1r" d="M993.8 1913.9L998.8 1917.5M998.8 1917.5L1004.6 1921.7M954.9 1914.8L954.9 1922M1067.3 1897.3L1071.4 1889.7M1067.8 1907.4L1072.3 1909.8M1037.8 1942.1L1044.5 1948M973.2 1953.8L969.2 1951.6M973.2 1963.7L969.2 1971.3M1034.2 1961.1L1037.3 1949.8M1067.8 1983.8L1072.3 1974M1067.3 2004L1071.4 2014.3M973.2 1982.7L969.2 1971.3M972.8 2004.6L968.3 2015.2M1010.4 2025.9L1009.5 2036.7M1009.5 2036.7L1002.4 2043.9M972.2 2033.1L967.9 2035.8M1066 2081.9L1070.5 2080.1M1066 2092L1070.5 2100.3M1035.5 2077.9L1042.7 2082.4M1042.7 2082.4L1041.3 2093.6M1070.5 1889.7L1071.8 1895.1M1086.6 1887.9L1098.3 1890.6M1098.3 1890.6L1100.5 1897.3M1107.8 1889.4L1115.1 1897.2M1131.9 1907.4L1141.3 1909.8M1107.2 1931.8L1113.5 1937.2M1132.3 1938.1L1141.3 1932.7M1107.8 1952.8L1115.6 1955.3M1132.3 1965.4L1141.3 1973.1M1152.9 1952.8L1164.6 1956.9M1164.6 1956.9L1167.3 1967.7M1152.9 1978L1164.6 1974M1097.4 2012.5L1083 2020.6M1131.9 2024.1L1141.3 2017M1106.3 2037.6L1114.4 2035.5M1152 2053.2L1163.7 2052.5M1131 2053.3L1139.5 2059.1M1113.9 2052.8L1105.4 2058.2M1131.9 2081.5L1140.4 2079.7M1114.4 2091.8L1105.4 2100.3M1086.6 2075.2L1097.4 2076.1M1097.4 2076.1L1101.4 2069.4M1065.1 2081.5L1071.4 2078.8M1217.5 1899.1L1214.8 1909.4M1214.8 1909.4L1209.4 1912.6M1248.8 1961.4L1244 1974M1244.3 1941.7L1249.7 1946.2M1194.6 2030.4L1199.5 2034.9M1199.5 2034.9L1209.4 2040.3M1203.1 2039.4L1194.1 2047.5M1204.9 2040.3L1212.1 2049.2M1242.5 2080.6L1241.6 2092.3"/></defs><use href="#clj1r" stroke="#b00000"/><use href="#clj1r" stroke="#f80808" stroke-width="2.3"/><circle cx="1046.3" cy="1961.4" r="8.1" fill="url(#sH)" stroke="none"/><circle cx="1022.1" cy="1965" r="8.1" fill="url(#sH)" stroke="none"/><circle cx="1037.3" cy="1974" r="11.1" fill="url(#sO)" stroke="none"/><circle cx="1037.3" cy="1993.7" r="10.4" fill="url(#sO)" stroke="none"/><circle cx="1084.8" cy="1974" r="5.4" fill="url(#sH)" stroke="none"/><circle cx="1078.5" cy="1987.4" r="10.8" fill="url(#sO)" stroke="none"/><circle cx="1087.5" cy="1982.9" r="8.1" fill="url(#sH)" stroke="none"/><circle cx="1045.4" cy="2001.7" r="15.2" fill="url(#sM)" stroke="none"/><circle cx="1014.9" cy="2011.6" r="10.4" fill="url(#sO)" stroke="none"/><circle cx="997" cy="2014.3" r="8.1" fill="url(#sH)" stroke="none"/><circle cx="1006.8" cy="2014.3" r="6.3" fill="url(#sH)" stroke="none"/><circle cx="1024.8" cy="2001.7" r="6.3" fill="url(#sH)" stroke="none"/><circle cx="1054" cy="2010.7" r="10.8" fill="url(#sO)" stroke="none"/><circle cx="1064.2" cy="2003.5" r="8.1" fill="url(#sH)" stroke="none"/><circle cx="1046.3" cy="2022.4" r="8.1" fill="url(#sH)" stroke="none"/><circle cx="1058.8" cy="2031.3" r="10.8" fill="url(#sO)" stroke="none"/><circle cx="1070.5" cy="2038.5" r="7.2" fill="url(#sH)" stroke="none"/><circle cx="1052.5" cy="2046" r="8.1" fill="url(#sH)" stroke="none"/><defs><path id="clj1ct" d="M1010.4 1973.6L1031 1972.5L1040.9 1993.7L1031 2013.4L1010.4 2014.8M1040.9 1993.7L1063.3 1993.7M1063.3 1993.7L1067.8 1983.8M1063.3 1993.7L1067.3 2004"/></defs><use href="#clj1ct" stroke="#2a8c92"/><use href="#clj1ct" stroke="#45c1c7" stroke-width="2.3"/><defs><path id="clj1rt" d="M1067.8 1983.8L1072.3 1974M1067.3 2004L1071.4 2014.3"/></defs><use href="#clj1rt" stroke="#b00000"/><use href="#clj1rt" stroke="#f80808" stroke-width="2.3"/></g>
<clipPath id="clj2"><rect x="1278.1" y="1881" width="305.5" height="229.6"/></clipPath><rect x="1278.1" y="1881" width="305.5" height="229.6" fill="#969696"/><g clip-path="url(#clj2)" fill="none" stroke-width="3.9" stroke-linecap="round" stroke-linejoin="round"><defs><path id="clj2c" d="M1335.4 1925.6L1356 1913L1367.7 1916.6L1357.8 1932.7L1336.3 1947.1L1325.6 1942.6L1335.4 1925.6M1356 1913L1359.6 1905M1367.7 1916.6L1388.3 1903.7M1388.3 1903.7L1393 1895.4M1388.3 1903.7L1393.2 1906.1M1335.4 1925.6L1330.5 1924.2M1357.8 1932.7L1362.3 1935M1335.4 1972.2L1355.1 1972.5L1365 1993.7L1354.2 2013.4L1334.5 2013L1324.7 1992.8L1335.4 1972.2M1355.1 1972.5L1359.2 1964.7M1365 1993.7L1386.5 1993.7M1386.5 1993.7L1390.5 1983.4M1386.5 1993.7L1391 2004M1324.7 1992.8L1302.3 1992.8M1302.3 1992.8L1297.8 1982.5M1302.3 1992.8L1299.1 1999.1M1334.5 2013L1330.9 2022.4M1330.9 2022.4L1329.2 2025.9M1354.2 2013L1357.4 2025.3M1298.7 2023.3L1303.2 2031.3M1303.2 2031.3L1298.7 2033.6M1303.2 2031.3L1325.6 2043.9M1325.6 2043.9L1334.5 2039.4M1334.5 2039.4L1356 2051.9M1356 2051.9L1361 2048.3M1356 2051.9L1365.9 2069M1325.6 2043.9L1332.7 2060M1332.7 2060L1356 2073.4L1365.9 2069M1324.7 2067.6L1318.4 2074.3M1318.4 2074.3L1309 2073.9M1318.4 2074.3L1321.1 2083.7M1356 2073.4L1360.1 2079.7M1365.9 2069L1388.3 2082.4M1388.3 2082.4L1393.5 2080.2M1388.3 2082.4L1393.7 2092.3M1398.2 2100.3L1411.6 2099.4M1425.5 2090L1427.7 2084.2M1427.7 2084.2L1430.4 2072.5M1393.7 1910.3L1399.1 1912.1M1399.1 1912.1L1395.5 1921.5M1399.1 1912.1L1410.7 1912.7M1427.3 1920L1432.2 1927.4M1441.2 1895.5L1449.2 1903.2M1449.2 1903.2L1458.2 1905.8M1449.2 1903.2L1449.2 1917.5M1425 1906.7L1431.3 1913M1431.3 1913L1449.2 1917.5L1465.4 1930.9M1431.3 1913L1432.2 1927.4M1442.1 1936.3L1449.2 1940.8M1449.2 1940.8L1457.8 1935.9M1465.4 1930.9L1466.3 1941.7M1449.2 1940.8L1449.2 1967.7M1440.3 1953.8L1449.2 1956M1449.2 1956L1458.2 1963.2M1449.2 1967.7L1467.2 1980.2L1467.2 2005.3L1450.1 2017.9L1433.1 2006.2L1432.8 1981.1L1449.2 1967.7M1393.9 1958.7L1394.6 1966.8M1394.6 1966.8L1389.6 1973.5M1394.6 1966.8L1408 1969.5M1425.8 1976.2L1432.8 1981.1M1446.6 1984.7L1447.9 1992.8M1449.2 2000.8L1438.5 2003.5M1449.2 2000.8L1456.4 2008M1433.1 2006.2L1426.4 2011.6M1450.1 2017.9L1449.2 2043.9M1465.4 2025.9L1465.4 2051M1449.2 2043.9L1465.4 2039.4M1465.4 2051L1472.1 2050.6M1449.2 2043.9L1441.2 2050.1M1449.2 2043.9L1458.2 2050.1M1432.2 2059.1L1430.4 2073.4L1447.5 2069.9L1463.6 2056.4M1425 2061.3L1432.2 2059.1M1447.5 2069.9L1448.3 2082.4M1448.3 2082.4L1457.3 2080.3M1448.3 2082.4L1440.3 2090.5M1325.6 1942.6L1302.3 1955.7M1302.3 1955.7L1298.2 1953.6M1302.3 1955.7L1300.5 1961.4M1325.6 1942.6L1316.6 1931.8M1316.6 1931.8L1314.8 1927.8M1316.6 1931.8L1319.7 1926.9M1316.6 1931.8L1308.5 1936.8M1314.5 1954.2L1314.5 1947.5M1314.5 1954.2L1316.2 1961.4M1316.2 1961.4L1316.9 1966.8M1316.2 1961.4L1307.5 1963M1325.6 1963.2L1316.2 1961.4M1335.4 1972.2L1333.6 1963.2M1292.9 2008.9L1291.5 2011.6M1291.5 2011.6L1287 2022.4M1466.3 1937.2L1474.3 1939M1492.7 1933.8L1501.2 1927.4M1501.2 1927.4L1512 1929.2M1501.2 1927.4L1498.7 1917.9M1512 1929.2L1515.7 1921.1M1512 1929.2L1520.9 1939M1449.2 1940.8L1466.3 1948M1466.3 1948L1472.1 1953.3M1490.5 2020.6L1501.2 2026.8M1501.2 2026.8L1507.9 2020.1M1501.2 2026.8L1504.8 2034M1449.2 2027.7L1457.3 2021.5M1540.2 1893.7L1544.2 1885.2M1544.2 1885.2L1564.9 1886.1M1564.9 1886.1L1567.5 1897.8M1566.6 1913.9L1564 1918.4M1564 1918.4L1554.5 1918.8M1564 1918.4L1566.6 1926.9M1542.5 1937.2L1546 1932.7M1546 1932.7L1565.8 1944.4M1565.8 1944.4L1569.8 1951.1M1537.1 1947.4L1544.2 1947.1M1544.2 1947.1L1564.9 1934.5M1564.9 1934.5L1568.9 1935.9M1529 1947.1L1522.7 1953.3M1522.7 1953.3L1515.1 1955.1M1522.7 1953.3L1525.9 1962.3M1553.7 2003.5L1563.1 2003.5M1563.1 2003.5L1566.2 1998.6M1563.1 2003.5L1568.4 2015.2M1569.3 2033.1L1565.8 2041.2M1565.8 2041.2L1544.2 2054.6M1544.2 2054.6L1540.2 2053.5M1538.4 2034L1541.6 2040.3M1541.6 2040.3L1556.8 2049.2M1556.8 2049.2L1564 2051M1564 2051L1563.5 2056.4M1563.1 2062.7L1553.2 2064.7M1563.1 2062.7L1568 2069.9M1510.9 2075.7L1513.4 2083.3M1513.4 2083.3L1522.7 2082.4M1537.1 2088.7L1546 2099.4L1565.8 2100.3M1565.8 2100.3L1569.3 2092.7M1513.4 2083.3L1506.4 2089.4M1513.4 2083.3L1517.6 2089.1"/></defs><use href="#clj2c" stroke="#2a8c92"/><use href="#clj2c" stroke="#45c1c7" stroke-width="2.3"/><defs><path id="clj2w" d="M1330.5 1924.2L1325.6 1922.9M1362.3 1935L1366.8 1937.2M1359.2 1964.7L1363.2 1956.9M1329.2 2025.9L1327.4 2029.5M1327.4 2029.5L1331.8 2034M1309 2073.9L1299.6 2073.4M1321.1 2083.7L1323.8 2093.2M1360.1 2079.7L1364.1 2086M1387.4 2087.8L1392.8 2094.1M1386.5 1907.6L1393.7 1910.3M1395.5 1921.5L1391.9 1930.9M1418.8 1900.5L1425 1906.7M1393.3 1950.7L1393.9 1958.7M1389.6 1973.5L1384.7 1980.2M1447.9 1992.8L1449.2 2000.8M1426.4 2011.6L1419.7 2017M1472.1 2050.6L1478.8 2050.1M1417.9 2063.6L1425 2061.3M1314.8 1927.8L1313 1923.8M1319.7 1926.9L1322.9 1922M1308.5 1936.8L1300.5 1941.7M1314.5 1947.5L1314.5 1940.8M1316.9 1966.8L1317.5 1972.2M1307.5 1963L1298.7 1964.6M1498.7 1917.9L1496.2 1908.5M1515.7 1921.1L1519.5 1913M1504.8 1931.8L1519.1 1930M1472.1 1953.3L1477.9 1958.7M1507.9 2020.1L1514.7 2013.4M1504.8 2034L1508.4 2041.2M1499.4 2029.5L1500.3 2034.9M1536.2 1902.3L1540.2 1893.7M1554.5 1918.8L1545.1 1919.3M1566.6 1926.9L1569.3 1935.4M1569.8 1951.1L1573.8 1957.8M1568.9 1935.9L1572.9 1937.2M1515.1 1955.1L1507.5 1956.9M1525.9 1962.3L1529 1971.3M1512 1949.8L1519.1 1953.3M1544.2 2003.5L1553.7 2003.5M1566.2 1998.6L1569.3 1993.7M1540.2 2053.5L1536.2 2052.5M1535.3 2027.7L1538.4 2034M1563.5 2056.4L1563.1 2061.8M1553.2 2064.7L1543.3 2066.8M1568 2069.9L1572.9 2077M1508.4 2068.1L1510.9 2075.7M1569.3 2092.7L1572.9 2085.1M1506.4 2089.4L1499.4 2095.5M1517.6 2089.1L1521.8 2095"/></defs><use href="#clj2w" stroke="#bcbcbc"/><use href="#clj2w" stroke="#fdfdfd" stroke-width="2.3"/><defs><path id="clj2r" d="M1359.6 1905L1364.1 1897.8M1393 1895.4L1397.6 1887M1393.2 1906.1L1398.2 1908.5M1390.5 1983.4L1394.6 1973.1M1391 2004L1395.5 2014.3M1297.8 1982.5L1293.3 1972.2M1299.1 1999.1L1296 2005.3M1357.4 2025.3L1360.5 2037.6M1293.3 2013.4L1298.7 2023.3M1298.7 2033.6L1294.2 2035.8M1361 2048.3L1365.9 2044.8M1330.9 2060.9L1324.7 2067.6M1393.5 2080.2L1398.7 2077.9M1393.7 2092.3L1398.2 2100.3M1411.6 2099.4L1423.3 2095.8M1423.3 2095.8L1425.5 2090M1410.7 1912.7L1422.4 1912.7M1422.4 1912.7L1427.3 1920M1433.1 1887.9L1441.2 1895.5M1458.2 1905.8L1467.2 1908.5M1432.2 1927.4L1442.1 1936.3M1457.8 1935.9L1466.3 1930.9M1431.3 1951.6L1440.3 1953.8M1458.2 1963.2L1467.2 1970.4M1408 1969.5L1418.8 1971.3M1418.8 1971.3L1425.8 1976.2M1441.2 2050.1L1433.1 2056.4M1458.2 2050.1L1467.2 2056.4M1457.3 2080.3L1466.3 2078.3M1440.3 2090.5L1432.2 2098.5M1298.2 1953.6L1294.2 1951.6M1325.6 1946.2L1332.7 1952.5M1332.7 1952.5L1333.6 1962.3M1333.6 1962.3L1325.6 1963.2M1294.2 2006.2L1292.9 2008.9M1287 2022.4L1281.7 2034.9M1474.3 1939L1484.2 1940.3M1484.2 1940.3L1492.7 1933.8M1520.9 1939L1529 1947.1M1467.2 2005.3L1476.1 2011.6M1476.1 2011.6L1490.5 2020.6M1457.3 2021.5L1460 2018.8M1567.5 1897.8L1571.1 1908.5M1571.1 1908.5L1566.6 1913.9M1528.1 1947.1L1537.1 1947.4M1530.8 1946.2L1542.5 1937.2M1568.4 2015.2L1572.9 2025.9M1572.9 2025.9L1569.3 2033.1M1565.8 2047.5L1568.4 2051M1522.7 2082.4L1530.8 2079.7M1530.8 2079.7L1537.1 2088.7"/></defs><use href="#clj2r" stroke="#b00000"/><use href="#clj2r" stroke="#f80808" stroke-width="2.3"/><circle cx="1473.4" cy="1965" r="7.2" fill="url(#sH)" stroke="none"/><circle cx="1464.5" cy="1978.4" r="10.8" fill="url(#sO)" stroke="none"/><circle cx="1449.6" cy="1974" r="7.2" fill="url(#sH)" stroke="none"/><circle cx="1471.1" cy="2009.8" r="15.2" fill="url(#sM)" stroke="none"/><circle cx="1500.3" cy="2008.9" r="10.8" fill="url(#sO)" stroke="none"/><circle cx="1515.9" cy="2007.7" r="8.1" fill="url(#sH)" stroke="none"/><circle cx="1432.8" cy="2017.9" r="8.1" fill="url(#sH)" stroke="none"/><circle cx="1442.1" cy="2022.4" r="9.9" fill="url(#sO)" stroke="none"/><circle cx="1428.6" cy="2031.3" r="7.5" fill="url(#sH)" stroke="none"/><defs><path id="clj2ct" d="M1449.2 1967.7L1467.2 1980.2L1467.2 2005.3L1450.1 2017.9M1450.1 2017.9L1449.2 2043.9M1490.5 2020.6L1501.2 2026.8M1501.2 2026.8L1507.9 2020.1"/></defs><use href="#clj2ct" stroke="#2a8c92"/><use href="#clj2ct" stroke="#45c1c7" stroke-width="2.3"/><defs><path id="clj2wt" d="M1507.9 2020.1L1514.7 2013.4"/></defs><use href="#clj2wt" stroke="#bcbcbc"/><use href="#clj2wt" stroke="#fdfdfd" stroke-width="2.3"/><defs><path id="clj2rt" d="M1467.2 2005.3L1476.1 2011.6L1490.5 2020.6"/></defs><use href="#clj2rt" stroke="#b00000"/><use href="#clj2rt" stroke="#f80808" stroke-width="2.3"/></g>
<clipPath id="clj3"><rect x="1602.6" y="1881" width="307.6" height="229.6"/></clipPath><rect x="1602.6" y="1881" width="307.6" height="229.6" fill="#969696"/><g clip-path="url(#clj3)" fill="none" stroke-width="3.9" stroke-linecap="round" stroke-linejoin="round"><defs><path id="clj3c" d="M1658.1 1925.6L1678.7 1913L1690.4 1916.6L1680.5 1932.7L1659 1947.1L1648.3 1942.6L1658.1 1925.6M1678.7 1913L1682.3 1905M1690.4 1916.6L1711 1903.7M1711 1903.7L1715.6 1895.4M1711 1903.7L1715.9 1906.1M1658.1 1925.6L1653.2 1924.2M1680.5 1932.7L1685 1935M1658.1 1972.2L1677.8 1972.5L1687.7 1993.7L1676.9 2013.4L1657.2 2013L1647.4 1992.8L1658.1 1972.2M1677.8 1972.5L1681.9 1964.7M1687.7 1993.7L1709.2 1993.7M1709.2 1993.7L1713.2 1983.4M1709.2 1993.7L1713.7 2004M1647.4 1992.8L1625 1992.8M1625 1992.8L1620.5 1982.5M1625 1992.8L1621.8 1999.1M1657.2 2013L1653.6 2022.4M1653.6 2022.4L1651.8 2025.9M1676.9 2013L1680.1 2025.3M1621.4 2023.3L1625.8 2031.3M1625.8 2031.3L1621.4 2033.6M1625.8 2031.3L1648.3 2043.9M1648.3 2043.9L1657.2 2039.4M1657.2 2039.4L1678.7 2051.9M1678.7 2051.9L1683.7 2048.3M1678.7 2051.9L1688.6 2069M1648.3 2043.9L1655.4 2060M1655.4 2060L1678.7 2073.4L1688.6 2069M1647.4 2067.6L1641.1 2074.3M1641.1 2074.3L1631.7 2073.9M1641.1 2074.3L1643.8 2083.7M1678.7 2073.4L1682.8 2079.7M1688.6 2069L1711 2082.4M1711 2082.4L1716.2 2080.2M1711 2082.4L1716.4 2092.3M1720.8 2100.3L1734.3 2099.4M1748.2 2090L1750.4 2084.2M1750.4 2084.2L1753.1 2072.5M1716.4 1910.3L1721.7 1912.1M1721.7 1912.1L1718.2 1921.5M1721.7 1912.1L1733.4 1912.7M1750 1920L1754.9 1927.4M1763.9 1895.5L1771.9 1903.2M1771.9 1903.2L1780.9 1905.8M1771.9 1903.2L1771.9 1917.5M1747.7 1906.7L1754 1913M1754 1913L1771.9 1917.5L1788.1 1930.9M1754 1913L1754.9 1927.4M1764.8 1936.3L1771.9 1940.8M1771.9 1940.8L1780.4 1935.9M1788.1 1930.9L1789 1941.7M1771.9 1940.8L1771.9 1967.7M1763 1953.8L1771.9 1956M1771.9 1956L1780.9 1963.2M1771.9 1967.7L1789.9 1980.2L1789.9 2005.3L1772.8 2017.9L1755.8 2006.2L1755.4 1981.1L1771.9 1967.7M1716.6 1958.7L1717.3 1966.8M1717.3 1966.8L1712.3 1973.5M1717.3 1966.8L1730.7 1969.5M1748.5 1976.2L1755.4 1981.1M1769.2 1984.7L1770.6 1992.8M1771.9 2000.8L1761.2 2003.5M1771.9 2000.8L1779.1 2008M1755.8 2006.2L1749.1 2011.6M1772.8 2017.9L1771.9 2043.9M1788.1 2025.9L1788.1 2051M1771.9 2043.9L1788.1 2039.4M1788.1 2051L1794.8 2050.6M1771.9 2043.9L1763.9 2050.1M1771.9 2043.9L1780.9 2050.1M1754.9 2059.1L1753.1 2073.4L1770.1 2069.9L1786.3 2056.4M1747.7 2061.3L1754.9 2059.1M1770.1 2069.9L1771 2082.4M1771 2082.4L1780 2080.3M1771 2082.4L1763 2090.5M1648.3 1942.6L1625 1955.7M1617.8 1938.6L1625 1936.3M1625 1936.3L1628.5 1926.9M1625 1936.3L1638.4 1945.3M1624.1 1955.1L1623.2 1949.3M1624.1 1959.6L1628.1 1964.6M1616.4 1965L1622.3 1962.3M1622.3 1962.3L1634.8 1957.8M1650.9 1963.2L1658.1 1972.2M1614.6 2003.4L1607 2004.4M1607 2004.4L1605.2 2017M1789 1937.2L1791.6 1945.3M1771.9 1940.8L1789 1948.9M1863.8 1894L1867.8 1885.8M1867.8 1885.8L1888.4 1886.5M1888.4 1886.5L1892 1898.7M1891.1 1913.9L1888.4 1917.5M1888.4 1917.5L1879 1920.6M1888.4 1917.5L1892.5 1926.9M1827 1935L1835.6 1930.9M1835.6 1930.9L1836.3 1927.4M1835.6 1930.9L1843.6 1939.9M1862.5 1941.7L1869.6 1933.6M1869.6 1933.6L1891.1 1947.1M1891.1 1947.1L1894.7 1952.9M1862.5 1948L1867.8 1947.1M1867.8 1947.1L1888.4 1935.4M1888.4 1935.4L1892.5 1936.3M1846.3 1954.2L1837.4 1959.6M1837.4 1959.6L1828.4 1955.6M1837.4 1959.6L1836.9 1968.6M1875.4 2003.4L1884 2002.6M1884 2002.6L1890.2 1997.3M1884 2002.6L1888.4 2012.5M1892.9 2032.2L1889.3 2041.2M1889.3 2041.2L1868.7 2055.5M1868.7 2055.5L1864.2 2054.2M1869.6 2043L1884 2051M1884 2051L1889.3 2052.8M1889.3 2052.8L1888.4 2057.8M1887.5 2062.7L1878.6 2064.9M1887.5 2062.7L1893.8 2069.9M1832.4 2081.5L1837.4 2088.7M1837.4 2088.7L1845.4 2086.9M1860.7 2092.3L1868.7 2101.2L1889.3 2102.1M1889.3 2102.1L1893.1 2094.1M1837.4 2088.7L1832 2094.5M1837.4 2088.7L1842.7 2092.7M1789.3 2028.6L1789 2051M1766.6 2020.6L1763 2036.7"/></defs><use href="#clj3c" stroke="#2a8c92"/><use href="#clj3c" stroke="#45c1c7" stroke-width="2.3"/><defs><path id="clj3w" d="M1653.2 1924.2L1648.3 1922.9M1685 1935L1689.5 1937.2M1681.9 1964.7L1685.9 1956.9M1651.8 2025.9L1650 2029.5M1650 2029.5L1654.5 2034M1631.7 2073.9L1622.3 2073.4M1643.8 2083.7L1646.5 2093.2M1682.8 2079.7L1686.8 2086M1710.1 2087.8L1715.5 2094.1M1709.2 1907.6L1716.4 1910.3M1718.2 1921.5L1714.6 1930.9M1741.5 1900.5L1747.7 1906.7M1716 1950.7L1716.6 1958.7M1712.3 1973.5L1707.4 1980.2M1770.6 1992.8L1771.9 2000.8M1749.1 2011.6L1742.4 2017M1794.8 2050.6L1801.5 2050.1M1740.6 2063.6L1747.7 2061.3M1610.6 1940.8L1617.8 1938.6M1628.5 1926.9L1632.1 1917.5M1623.2 1949.3L1622.3 1943.5M1628.1 1964.6L1632.1 1969.5M1610.6 1967.7L1616.4 1965M1622.3 2002.3L1614.6 2003.4M1603.4 2086.9L1613.3 2090.8M1797.5 1956.9L1801.5 1961.4M1859.8 1902.3L1863.8 1894M1879 1920.6L1869.6 1923.8M1892.5 1926.9L1896.5 1936.3M1818.5 1939L1827 1935M1836.3 1927.4L1837 1923.8M1894.7 1952.9L1898.3 1958.7M1892.5 1936.3L1896.5 1937.2M1828.4 1955.6L1819.4 1951.6M1836.9 1968.6L1836.5 1977.5M1866.9 2004.1L1875.4 2003.4M1890.2 1997.3L1896.5 1991.9M1864.2 2054.2L1859.8 2052.8M1888.4 2057.8L1887.5 2062.7M1878.6 2064.9L1869.6 2067.2M1893.8 2069.9L1900.1 2077M1827.5 2074.3L1832.4 2081.5M1893.1 2094.1L1896.9 2086M1832 2094.5L1826.6 2100.3M1842.7 2092.7L1848.1 2096.7"/></defs><use href="#clj3w" stroke="#bcbcbc"/><use href="#clj3w" stroke="#fdfdfd" stroke-width="2.3"/><defs><path id="clj3r" d="M1682.3 1905L1686.8 1897.8M1715.6 1895.4L1720.3 1887M1715.9 1906.1L1720.8 1908.5M1713.2 1983.4L1717.3 1973.1M1713.7 2004L1718.2 2014.3M1620.5 1982.5L1616 1972.2M1621.8 1999.1L1618.7 2005.3M1680.1 2025.3L1683.2 2037.6M1616 2013.4L1621.4 2023.3M1621.4 2033.6L1616.9 2035.8M1683.7 2048.3L1688.6 2044.8M1653.6 2060.9L1647.4 2067.6M1716.2 2080.2L1721.4 2077.9M1716.4 2092.3L1720.8 2100.3M1734.3 2099.4L1745.9 2095.8M1745.9 2095.8L1748.2 2090M1733.4 1912.7L1745 1912.7M1745 1912.7L1750 1920M1755.8 1887.9L1763.9 1895.5M1780.9 1905.8L1789.9 1908.5M1754.9 1927.4L1764.8 1936.3M1780.4 1935.9L1789 1930.9M1754 1951.6L1763 1953.8M1780.9 1963.2L1789.9 1970.4M1730.7 1969.5L1741.5 1971.3M1741.5 1971.3L1748.5 1976.2M1763.9 2050.1L1755.8 2056.4M1780.9 2050.1L1789.9 2056.4M1780 2080.3L1789 2078.3M1763 2090.5L1754.9 2098.5M1638.4 1945.3L1647.4 1951.6M1647.4 1951.6L1656.3 1948.9M1616.9 1952.5L1624.1 1955.1M1634.8 1957.8L1643.8 1956M1643.8 1956L1650.9 1963.2M1605.2 2017L1604 2029.5M1791.6 1945.3L1793.4 1952.5M1793.4 1952.5L1797.5 1956.9M1892 1898.7L1894.7 1910.3M1843.6 1939.9L1852.6 1948.9M1852.6 1948.9L1862.5 1941.7M1852.6 1948.9L1846.3 1954.2M1888.4 2012.5L1894.7 2024.1M1894.7 2024.1L1892.9 2032.2M1889.3 2052.8L1892.9 2046.6M1845.4 2086.9L1853.5 2083.3M1853.5 2083.3L1860.7 2092.3M1780 2008.9L1787.2 2013.4M1780 2022.4L1789.9 2013.4M1789.9 2013.4L1789.3 2028.6M1754.9 2035.8L1762.1 2034"/></defs><use href="#clj3r" stroke="#b00000"/><use href="#clj3r" stroke="#f80808" stroke-width="2.3"/><circle cx="1824.8" cy="1959.6" r="7.5" fill="url(#sH)" stroke="none"/><circle cx="1839.5" cy="1965" r="10.8" fill="url(#sO)" stroke="none"/><circle cx="1851.7" cy="1957.8" r="7.5" fill="url(#sH)" stroke="none"/><circle cx="1863.3" cy="1973.1" r="7.2" fill="url(#sH)" stroke="none"/><circle cx="1868.7" cy="1985.6" r="10.4" fill="url(#sO)" stroke="none"/><circle cx="1873.2" cy="1982" r="8.1" fill="url(#sH)" stroke="none"/><circle cx="1873.2" cy="1995.5" r="9" fill="url(#sO)" stroke="none"/><circle cx="1884" cy="1991.9" r="6.3" fill="url(#sH)" stroke="none"/><circle cx="1877.7" cy="2008.9" r="7.2" fill="url(#sH)" stroke="none"/><circle cx="1820.3" cy="1993.7" r="9.9" fill="url(#sO)" stroke="none"/><circle cx="1805.1" cy="2002.6" r="7.2" fill="url(#sH)" stroke="none"/><circle cx="1824.8" cy="1986.5" r="5.4" fill="url(#sH)" stroke="none"/><circle cx="1842.7" cy="1996.4" r="15.2" fill="url(#sM)" stroke="none"/><circle cx="1826.2" cy="2007.7" r="9.3" fill="url(#sO)" stroke="none"/><circle cx="1832.9" cy="2008.4" r="8.1" fill="url(#sH)" stroke="none"/><circle cx="1809.6" cy="2011.6" r="8.1" fill="url(#sH)" stroke="none"/><circle cx="1851.3" cy="2025.9" r="10.8" fill="url(#sO)" stroke="none"/><circle cx="1866" cy="2034" r="7.5" fill="url(#sH)" stroke="none"/><circle cx="1841.8" cy="2039.4" r="7.5" fill="url(#sH)" stroke="none"/></g>
<text class="r" font-size="34.5" text-anchor="middle" transform="translate(1104.2 1126.8) scale(1 1.09)">(<tspan dx="0.8">I</tspan><tspan dx="0.8">)</tspan></text>
<text class="r" font-size="34.5" text-anchor="middle" transform="translate(1440.3 1126.8) scale(1 1.09)">(<tspan dx="0.8">II</tspan><tspan dx="0.8">)</tspan></text>
<text class="r" font-size="34.5" text-anchor="middle" transform="translate(1765 1126.8) scale(1 1.09)">(<tspan dx="0.8">III</tspan><tspan dx="0.8">)</tspan></text>
<text x="830" y="1146.8" class="b" font-size="36">g</text>
<text x="830" y="1395.2" class="b" font-size="36">h</text>
<text x="831" y="1659.9" class="b" font-size="36">i</text>
<text x="831.8" y="1905" class="b" font-size="36">j</text>
<text class="b" font-size="31" text-anchor="middle" transform="translate(909.3 1241) rotate(-90) scale(1 1.1)">UiO-66-(OH)<tspan dy="9.3" font-size="18.6">2</tspan></text>
<text class="b" font-size="31" text-anchor="middle" transform="translate(909.3 1489) rotate(-90) scale(1 1.1)">UiO-66-(OMe)<tspan dy="9.3" font-size="18.6">2</tspan></text>
<text class="b" font-size="31" text-anchor="middle" transform="translate(909.3 1749) rotate(-90) scale(1 1.1)">UiO-66-(OH)<tspan dy="9.3" font-size="18.6">2</tspan></text>
<text class="b" font-size="31" text-anchor="middle" transform="translate(909.3 1992.3) rotate(-90) scale(1 1.1)">UiO-66-(OMe)<tspan dy="9.3" font-size="18.6">2</tspan></text>
</g>
<g id="lg">
<circle cx="1063" cy="2158.2" r="21.3" fill="url(#sK)"/>
<circle cx="1329" cy="2158.2" r="21.3" fill="url(#sM)"/>
<circle cx="1609.3" cy="2136.5" r="11.7" fill="url(#sH)"/>
<circle cx="1595.4" cy="2148.7" r="15.2" fill="url(#sO)"/>
<circle cx="1606.2" cy="2168.2" r="12.2" fill="url(#sH)"/>
<text x="1098.5" y="2170.4" class="b" font-size="37">K<tspan dy="-14.8" font-size="22.2">+</tspan></text>
<text x="1363.5" y="2170.4" class="b" font-size="37">Mg<tspan dy="-14.8" font-size="22.2">2+</tspan></text>
<text x="1641" y="2170.4" class="b" font-size="37">H<tspan dy="11.1" font-size="22.2">2</tspan><tspan dy="-11.1">O</tspan></text>
</g>
</svg>
</body></html>
